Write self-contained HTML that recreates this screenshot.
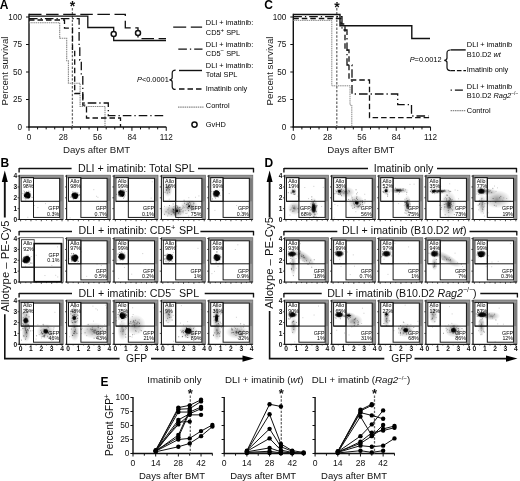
<!DOCTYPE html>
<html><head><meta charset="utf-8"><title>Figure</title>
<style>
html,body{margin:0;padding:0;background:#fff;}
body{width:520px;height:481px;overflow:hidden;}
svg{display:block;font-family:"Liberation Sans",Arial,sans-serif;filter:blur(0.3px);}
</style></head>
<body>
<svg width="520" height="481" viewBox="0 0 520 481">
<rect width="520" height="481" fill="#fff"/>
<text x="-0.3" y="8.5" font-size="12" text-anchor="start" font-weight="bold" fill="#000" >A</text>
<line x1="29" y1="13.8" x2="29" y2="127.6" stroke="#111" stroke-width="1.4" stroke-linecap="butt"/>
<line x1="28.3" y1="127" x2="166.3" y2="127" stroke="#111" stroke-width="1.4" stroke-linecap="butt"/>
<line x1="26" y1="17" x2="29" y2="17" stroke="#111" stroke-width="1" stroke-linecap="butt"/>
<text x="22" y="19.9" font-size="8.2" text-anchor="end" font-weight="normal" fill="#111" >100</text>
<line x1="26" y1="44.5" x2="29" y2="44.5" stroke="#111" stroke-width="1" stroke-linecap="butt"/>
<text x="22" y="47.4" font-size="8.2" text-anchor="end" font-weight="normal" fill="#111" >75</text>
<line x1="26" y1="72" x2="29" y2="72" stroke="#111" stroke-width="1" stroke-linecap="butt"/>
<text x="22" y="74.9" font-size="8.2" text-anchor="end" font-weight="normal" fill="#111" >50</text>
<line x1="26" y1="99.5" x2="29" y2="99.5" stroke="#111" stroke-width="1" stroke-linecap="butt"/>
<text x="22" y="102.4" font-size="8.2" text-anchor="end" font-weight="normal" fill="#111" >25</text>
<line x1="26" y1="127" x2="29" y2="127" stroke="#111" stroke-width="1" stroke-linecap="butt"/>
<text x="22" y="129.9" font-size="8.2" text-anchor="end" font-weight="normal" fill="#111" >0</text>
<line x1="29" y1="127" x2="29" y2="130.8" stroke="#111" stroke-width="1" stroke-linecap="butt"/>
<text x="29" y="140.4" font-size="8.2" text-anchor="middle" font-weight="normal" fill="#111" >0</text>
<line x1="37.58" y1="127" x2="37.58" y2="129.4" stroke="#111" stroke-width="1" stroke-linecap="butt"/>
<line x1="46.16" y1="127" x2="46.16" y2="129.4" stroke="#111" stroke-width="1" stroke-linecap="butt"/>
<line x1="54.73" y1="127" x2="54.73" y2="129.4" stroke="#111" stroke-width="1" stroke-linecap="butt"/>
<line x1="63.31" y1="127" x2="63.31" y2="130.8" stroke="#111" stroke-width="1" stroke-linecap="butt"/>
<text x="63.31" y="140.4" font-size="8.2" text-anchor="middle" font-weight="normal" fill="#111" >28</text>
<line x1="71.89" y1="127" x2="71.89" y2="129.4" stroke="#111" stroke-width="1" stroke-linecap="butt"/>
<line x1="80.47" y1="127" x2="80.47" y2="129.4" stroke="#111" stroke-width="1" stroke-linecap="butt"/>
<line x1="89.04" y1="127" x2="89.04" y2="129.4" stroke="#111" stroke-width="1" stroke-linecap="butt"/>
<line x1="97.62" y1="127" x2="97.62" y2="130.8" stroke="#111" stroke-width="1" stroke-linecap="butt"/>
<text x="97.62" y="140.4" font-size="8.2" text-anchor="middle" font-weight="normal" fill="#111" >56</text>
<line x1="106.2" y1="127" x2="106.2" y2="129.4" stroke="#111" stroke-width="1" stroke-linecap="butt"/>
<line x1="114.78" y1="127" x2="114.78" y2="129.4" stroke="#111" stroke-width="1" stroke-linecap="butt"/>
<line x1="123.36" y1="127" x2="123.36" y2="129.4" stroke="#111" stroke-width="1" stroke-linecap="butt"/>
<line x1="131.93" y1="127" x2="131.93" y2="130.8" stroke="#111" stroke-width="1" stroke-linecap="butt"/>
<text x="131.93" y="140.4" font-size="8.2" text-anchor="middle" font-weight="normal" fill="#111" >84</text>
<line x1="140.51" y1="127" x2="140.51" y2="129.4" stroke="#111" stroke-width="1" stroke-linecap="butt"/>
<line x1="149.09" y1="127" x2="149.09" y2="129.4" stroke="#111" stroke-width="1" stroke-linecap="butt"/>
<line x1="157.67" y1="127" x2="157.67" y2="129.4" stroke="#111" stroke-width="1" stroke-linecap="butt"/>
<line x1="166.24" y1="127" x2="166.24" y2="130.8" stroke="#111" stroke-width="1" stroke-linecap="butt"/>
<text x="166.24" y="140.4" font-size="8.2" text-anchor="middle" font-weight="normal" fill="#111" >112</text>
<text x="96.6" y="152.6" font-size="9.7" text-anchor="middle" font-weight="normal" fill="#1a1a1a" >Days after BMT</text>
<text x="8.4" y="71" font-size="9.7" text-anchor="middle" font-weight="normal" fill="#1a1a1a" transform="rotate(-90 8.4 71)">Percent survival</text>
<line x1="72.4" y1="8" x2="72.4" y2="127" stroke="#666" stroke-width="1.25" stroke-linecap="butt" stroke-dasharray="2.4 1.5"/>
<text x="72.45" y="11.39" font-size="14" text-anchor="middle" font-weight="bold" fill="#111" >*</text>
<path d="M29,22.7 H59.7 V38.3 H66.7 V60.8 H68.4 V83.3 H80.1 V106.5 H105 V127" stroke="#888" stroke-width="1.1" fill="none" stroke-dasharray="1.5 0.7" />
<path d="M29,20 H64.5 V28.1 H72.5 V50 H74.7 V93.5 H82.8 V105.2 H86.5 V118 H120.5 V127" stroke="#111" stroke-width="1.3" fill="none" stroke-dasharray="5.5 3" />
<path d="M29,18.6 H79.1 V45 H79.8 V60 H81.3 V75 H82.8 V103 H108.3 V115.6 H166" stroke="#111" stroke-width="1.3" fill="none" stroke-dasharray="8.6 3 1.3 3" />
<path d="M29,14.4 H125.3 V27.8 H138 V38.7 H166" stroke="#111" stroke-width="1.3" fill="none" stroke-dasharray="12.5 4.6" />
<path d="M29,16.2 H87.8 V27.5 H113.7 V40.5 H166" stroke="#111" stroke-width="1.3" fill="none" />
<circle cx="113.7" cy="34" r="2.5" fill="#fff" stroke="#111" stroke-width="1.5"/>
<circle cx="138" cy="33" r="2.5" fill="#fff" stroke="#111" stroke-width="1.5"/>
<text x="205.8" y="25" font-size="7.4" text-anchor="start" font-weight="normal" fill="#000" >DLI + imatinib:</text>
<text x="205.8" y="35" font-size="7.4" text-anchor="start" font-weight="normal" fill="#000" >CD5<tspan font-size="6" dy="-3.2">+</tspan><tspan dy="3.2"> SPL</tspan></text>
<line x1="173.2" y1="27.1" x2="202.1" y2="27.1" stroke="#111" stroke-width="1.4" stroke-linecap="butt" stroke-dasharray="13 4.6"/>
<text x="205.8" y="46.5" font-size="7.4" text-anchor="start" font-weight="normal" fill="#000" >DLI + imatinib:</text>
<text x="205.8" y="55.6" font-size="7.4" text-anchor="start" font-weight="normal" fill="#000" >CD5<tspan font-size="6" dy="-3.2">&#8722;</tspan><tspan dy="3.2"> SPL</tspan></text>
<line x1="178.3" y1="49.2" x2="202.5" y2="49.2" stroke="#111" stroke-width="1.3" stroke-linecap="butt" stroke-dasharray="8.6 3 1.3 3"/>
<text x="205.8" y="67.7" font-size="7.4" text-anchor="start" font-weight="normal" fill="#000" >DLI + imatinib:</text>
<text x="205.8" y="77" font-size="7.4" text-anchor="start" font-weight="normal" fill="#000" >Total SPL</text>
<line x1="179" y1="70.5" x2="202" y2="70.5" stroke="#111" stroke-width="1.4" stroke-linecap="butt"/>
<text x="205.8" y="90.5" font-size="7.4" text-anchor="start" font-weight="normal" fill="#000" >Imatinib only</text>
<line x1="179" y1="89" x2="201.5" y2="89" stroke="#111" stroke-width="1.4" stroke-linecap="butt" stroke-dasharray="5.5 3"/>
<path d="M175.6,70.2 Q172.2,70.2 172.2,73.2 L172.2,77.6 Q172.2,79.8 169.4,79.8 Q172.2,79.8 172.2,82 L172.2,86.4 Q172.2,89.4 175.6,89.4" stroke="#111" stroke-width="1.2" fill="none" />
<text x="168.8" y="81.6" font-size="7.4" text-anchor="end" font-weight="normal" fill="#000" ><tspan font-style="italic">P</tspan>&lt;0.0001</text>
<line x1="178" y1="107" x2="203.5" y2="107" stroke="#888" stroke-width="1.25" stroke-linecap="butt" stroke-dasharray="1.5 0.7"/>
<text x="205.8" y="108.2" font-size="7.4" text-anchor="start" font-weight="normal" fill="#000" >Control</text>
<circle cx="194.5" cy="124.6" r="2.6" fill="#fff" stroke="#111" stroke-width="1.5"/>
<text x="205.8" y="127.3" font-size="7.4" text-anchor="start" font-weight="normal" fill="#000" >GvHD</text>
<text x="264.3" y="8.5" font-size="12" text-anchor="start" font-weight="bold" fill="#000" >C</text>
<line x1="293.3" y1="13.8" x2="293.3" y2="127.6" stroke="#111" stroke-width="1.4" stroke-linecap="butt"/>
<line x1="292.6" y1="127" x2="430.6" y2="127" stroke="#111" stroke-width="1.4" stroke-linecap="butt"/>
<line x1="290.3" y1="17" x2="293.3" y2="17" stroke="#111" stroke-width="1" stroke-linecap="butt"/>
<text x="286.3" y="19.9" font-size="8.2" text-anchor="end" font-weight="normal" fill="#111" >100</text>
<line x1="290.3" y1="44.5" x2="293.3" y2="44.5" stroke="#111" stroke-width="1" stroke-linecap="butt"/>
<text x="286.3" y="47.4" font-size="8.2" text-anchor="end" font-weight="normal" fill="#111" >75</text>
<line x1="290.3" y1="72" x2="293.3" y2="72" stroke="#111" stroke-width="1" stroke-linecap="butt"/>
<text x="286.3" y="74.9" font-size="8.2" text-anchor="end" font-weight="normal" fill="#111" >50</text>
<line x1="290.3" y1="99.5" x2="293.3" y2="99.5" stroke="#111" stroke-width="1" stroke-linecap="butt"/>
<text x="286.3" y="102.4" font-size="8.2" text-anchor="end" font-weight="normal" fill="#111" >25</text>
<line x1="290.3" y1="127" x2="293.3" y2="127" stroke="#111" stroke-width="1" stroke-linecap="butt"/>
<text x="286.3" y="129.9" font-size="8.2" text-anchor="end" font-weight="normal" fill="#111" >0</text>
<line x1="293.3" y1="127" x2="293.3" y2="130.8" stroke="#111" stroke-width="1" stroke-linecap="butt"/>
<text x="293.3" y="140.4" font-size="8.2" text-anchor="middle" font-weight="normal" fill="#111" >0</text>
<line x1="301.88" y1="127" x2="301.88" y2="129.4" stroke="#111" stroke-width="1" stroke-linecap="butt"/>
<line x1="310.46" y1="127" x2="310.46" y2="129.4" stroke="#111" stroke-width="1" stroke-linecap="butt"/>
<line x1="319.03" y1="127" x2="319.03" y2="129.4" stroke="#111" stroke-width="1" stroke-linecap="butt"/>
<line x1="327.61" y1="127" x2="327.61" y2="130.8" stroke="#111" stroke-width="1" stroke-linecap="butt"/>
<text x="327.61" y="140.4" font-size="8.2" text-anchor="middle" font-weight="normal" fill="#111" >28</text>
<line x1="336.19" y1="127" x2="336.19" y2="129.4" stroke="#111" stroke-width="1" stroke-linecap="butt"/>
<line x1="344.77" y1="127" x2="344.77" y2="129.4" stroke="#111" stroke-width="1" stroke-linecap="butt"/>
<line x1="353.34" y1="127" x2="353.34" y2="129.4" stroke="#111" stroke-width="1" stroke-linecap="butt"/>
<line x1="361.92" y1="127" x2="361.92" y2="130.8" stroke="#111" stroke-width="1" stroke-linecap="butt"/>
<text x="361.92" y="140.4" font-size="8.2" text-anchor="middle" font-weight="normal" fill="#111" >56</text>
<line x1="370.5" y1="127" x2="370.5" y2="129.4" stroke="#111" stroke-width="1" stroke-linecap="butt"/>
<line x1="379.08" y1="127" x2="379.08" y2="129.4" stroke="#111" stroke-width="1" stroke-linecap="butt"/>
<line x1="387.66" y1="127" x2="387.66" y2="129.4" stroke="#111" stroke-width="1" stroke-linecap="butt"/>
<line x1="396.23" y1="127" x2="396.23" y2="130.8" stroke="#111" stroke-width="1" stroke-linecap="butt"/>
<text x="396.23" y="140.4" font-size="8.2" text-anchor="middle" font-weight="normal" fill="#111" >84</text>
<line x1="404.81" y1="127" x2="404.81" y2="129.4" stroke="#111" stroke-width="1" stroke-linecap="butt"/>
<line x1="413.39" y1="127" x2="413.39" y2="129.4" stroke="#111" stroke-width="1" stroke-linecap="butt"/>
<line x1="421.97" y1="127" x2="421.97" y2="129.4" stroke="#111" stroke-width="1" stroke-linecap="butt"/>
<line x1="430.54" y1="127" x2="430.54" y2="130.8" stroke="#111" stroke-width="1" stroke-linecap="butt"/>
<text x="430.54" y="140.4" font-size="8.2" text-anchor="middle" font-weight="normal" fill="#111" >112</text>
<text x="360.9" y="152.6" font-size="9.7" text-anchor="middle" font-weight="normal" fill="#1a1a1a" >Days after BMT</text>
<text x="272.7" y="71" font-size="9.7" text-anchor="middle" font-weight="normal" fill="#1a1a1a" transform="rotate(-90 272.7 71)">Percent survival</text>
<line x1="336.8" y1="8" x2="336.8" y2="127" stroke="#666" stroke-width="1.25" stroke-linecap="butt" stroke-dasharray="2.4 1.5"/>
<text x="336.9" y="11.59" font-size="14" text-anchor="middle" font-weight="bold" fill="#111" >*</text>
<path d="M293.3,20.4 H331.8 V85.8 H350 V105 H351.8 V127" stroke="#8a8a8a" stroke-width="1" fill="none" stroke-dasharray="1.5 0.7" />
<path d="M293.3,18.5 H341 V24 H345 V50 H349 V80 H369.5 V117.7 H429.4" stroke="#111" stroke-width="1.3" fill="none" stroke-dasharray="5.5 3" />
<path d="M293.3,16.6 H342 V30 H347 V65 H352 V94 H397.7 V104.6 H411.5 V116 H428.5" stroke="#111" stroke-width="1.3" fill="none" stroke-dasharray="8.6 3 1.3 3" />
<path d="M293.3,14.5 H340 V25.8 H411.8 V38.5 H430" stroke="#111" stroke-width="1.4" fill="none" />
<text x="466.8" y="47.4" font-size="7.4" text-anchor="start" font-weight="normal" fill="#000" >DLI + imatinib</text>
<text x="466.8" y="57" font-size="7.4" text-anchor="start" font-weight="normal" fill="#000" >B10.D2 <tspan font-style="italic">wt</tspan></text>
<line x1="450.6" y1="49.9" x2="465.7" y2="49.9" stroke="#111" stroke-width="1.4" stroke-linecap="butt"/>
<path d="M450.4,50 Q447,50 447,53 L447,58.1 Q447,60.3 444.2,60.3 Q447,60.3 447,62.5 L447,67.6 Q447,70.6 450.4,70.6" stroke="#111" stroke-width="1.2" fill="none" />
<text x="441.5" y="61.5" font-size="7.4" text-anchor="end" font-weight="normal" fill="#000" ><tspan font-style="italic">P</tspan>=0.0012</text>
<line x1="450.4" y1="70.6" x2="466" y2="70.6" stroke="#111" stroke-width="1.4" stroke-linecap="butt" stroke-dasharray="4.6 1.9"/>
<text x="466.8" y="72.2" font-size="7.4" text-anchor="start" font-weight="normal" fill="#000" >Imatinib only</text>
<line x1="450.6" y1="90.2" x2="465.7" y2="90.2" stroke="#111" stroke-width="1.3" stroke-linecap="butt" stroke-dasharray="1.3 3 8 3"/>
<text x="466.8" y="89.1" font-size="7.4" text-anchor="start" font-weight="normal" fill="#000" >DLI + imatinib</text>
<text x="466.8" y="97.7" font-size="7.4" text-anchor="start" font-weight="normal" fill="#000" >B10.D2 <tspan font-style="italic">Rag2</tspan><tspan font-size="5" dy="-3">&#8722;/&#8722;</tspan></text>
<line x1="450.6" y1="110.7" x2="465.7" y2="110.7" stroke="#888" stroke-width="1.25" stroke-linecap="butt" stroke-dasharray="1.5 0.7"/>
<text x="466.8" y="112.6" font-size="7.4" text-anchor="start" font-weight="normal" fill="#000" >Control</text>
<defs>
<radialGradient id="gc"><stop offset="0" stop-color="#000" stop-opacity="1"/><stop offset="0.55" stop-color="#000" stop-opacity="0.92"/><stop offset="0.8" stop-color="#111" stop-opacity="0.5"/><stop offset="1" stop-color="#333" stop-opacity="0"/></radialGradient>
<radialGradient id="gd"><stop offset="0" stop-color="#000" stop-opacity="0.8"/><stop offset="0.6" stop-color="#111" stop-opacity="0.5"/><stop offset="1" stop-color="#333" stop-opacity="0"/></radialGradient>
<radialGradient id="gh"><stop offset="0" stop-color="#000" stop-opacity="0.42"/><stop offset="0.5" stop-color="#222" stop-opacity="0.2"/><stop offset="1" stop-color="#444" stop-opacity="0"/></radialGradient>
</defs>
<line x1="19.1" y1="168.5" x2="71.6" y2="168.5" stroke="#111" stroke-width="1.35" stroke-linecap="butt"/>
<line x1="19.1" y1="167.9" x2="19.1" y2="172.5" stroke="#111" stroke-width="1.35" stroke-linecap="butt"/>
<line x1="198" y1="168.5" x2="253.5" y2="168.5" stroke="#111" stroke-width="1.35" stroke-linecap="butt"/>
<line x1="253.5" y1="167.9" x2="253.5" y2="172.5" stroke="#111" stroke-width="1.35" stroke-linecap="butt"/>
<text x="78" y="171.9" font-size="10.65" text-anchor="start" font-weight="normal" fill="#111" >DLI + imatinib: Total SPL</text>
<line x1="19.1" y1="231.5" x2="72" y2="231.5" stroke="#111" stroke-width="1.35" stroke-linecap="butt"/>
<line x1="19.1" y1="230.9" x2="19.1" y2="235.5" stroke="#111" stroke-width="1.35" stroke-linecap="butt"/>
<line x1="200.4" y1="231.5" x2="253.5" y2="231.5" stroke="#111" stroke-width="1.35" stroke-linecap="butt"/>
<line x1="253.5" y1="230.9" x2="253.5" y2="235.5" stroke="#111" stroke-width="1.35" stroke-linecap="butt"/>
<text x="78.5" y="234.4" font-size="10.65" text-anchor="start" font-weight="normal" fill="#111" >DLI + imatinib: CD5<tspan font-size="7.5" dy="-4.6">+</tspan><tspan dy="4.6" dx="0.6"> SPL</tspan></text>
<line x1="19.1" y1="293.5" x2="72" y2="293.5" stroke="#111" stroke-width="1.35" stroke-linecap="butt"/>
<line x1="19.1" y1="292.9" x2="19.1" y2="297.5" stroke="#111" stroke-width="1.35" stroke-linecap="butt"/>
<line x1="204.7" y1="293.5" x2="253.5" y2="293.5" stroke="#111" stroke-width="1.35" stroke-linecap="butt"/>
<line x1="253.5" y1="292.9" x2="253.5" y2="297.5" stroke="#111" stroke-width="1.35" stroke-linecap="butt"/>
<text x="78.5" y="296.7" font-size="10.65" text-anchor="start" font-weight="normal" fill="#111" >DLI + imatinib: CD5<tspan font-size="7.5" dy="-4.6">&#8722;</tspan><tspan dy="4.6" dx="0.6"> SPL</tspan></text>
<line x1="283.9" y1="168.5" x2="368" y2="168.5" stroke="#111" stroke-width="1.35" stroke-linecap="butt"/>
<line x1="283.9" y1="167.9" x2="283.9" y2="172.5" stroke="#111" stroke-width="1.35" stroke-linecap="butt"/>
<line x1="437" y1="168.5" x2="516.5" y2="168.5" stroke="#111" stroke-width="1.35" stroke-linecap="butt"/>
<line x1="516.5" y1="167.9" x2="516.5" y2="172.5" stroke="#111" stroke-width="1.35" stroke-linecap="butt"/>
<text x="373.7" y="171.9" font-size="10.65" text-anchor="start" font-weight="normal" fill="#111" >Imatinib only</text>
<line x1="283.9" y1="231.5" x2="337.3" y2="231.5" stroke="#111" stroke-width="1.35" stroke-linecap="butt"/>
<line x1="283.9" y1="230.9" x2="283.9" y2="235.5" stroke="#111" stroke-width="1.35" stroke-linecap="butt"/>
<line x1="469.5" y1="231.5" x2="516.8" y2="231.5" stroke="#111" stroke-width="1.35" stroke-linecap="butt"/>
<line x1="516.8" y1="230.9" x2="516.8" y2="235.5" stroke="#111" stroke-width="1.35" stroke-linecap="butt"/>
<text x="342.1" y="234.4" font-size="10.65" text-anchor="start" font-weight="normal" fill="#111" >DLI + imatinib (B10.D2 <tspan font-style="italic">wt</tspan>)</text>
<line x1="283.9" y1="293.5" x2="321.7" y2="293.5" stroke="#111" stroke-width="1.35" stroke-linecap="butt"/>
<line x1="283.9" y1="292.9" x2="283.9" y2="297.5" stroke="#111" stroke-width="1.35" stroke-linecap="butt"/>
<line x1="480.3" y1="293.5" x2="517.4" y2="293.5" stroke="#111" stroke-width="1.35" stroke-linecap="butt"/>
<line x1="517.4" y1="292.9" x2="517.4" y2="297.5" stroke="#111" stroke-width="1.35" stroke-linecap="butt"/>
<text x="327.2" y="296.7" font-size="10.65" text-anchor="start" font-weight="normal" fill="#111" >DLI + imatinib (B10.D2 <tspan font-style="italic">Rag2</tspan><tspan font-size="7" dy="-4.6">&#8722;/&#8722;</tspan><tspan dy="4.6">)</tspan></text>
<text x="0.4" y="166.6" font-size="12" text-anchor="start" font-weight="bold" fill="#000" >B</text>
<text x="264.4" y="166.6" font-size="12" text-anchor="start" font-weight="bold" fill="#000" >D</text>
<rect x="19.2" y="175.2" width="44" height="44.3" fill="#959595" stroke="#666" stroke-width="0.7"/>
<rect x="19.8" y="178.3" width="39.7" height="41.2" fill="#fff"/>
<rect x="59.6" y="178.3" width="3.0" height="23" fill="#7c7c7c"/>
<ellipse cx="27.4" cy="195.3" rx="4.83" ry="4.83" fill="url(#gh)"/>
<ellipse cx="27.4" cy="195.3" rx="4" ry="3.88" fill="url(#gc)"/>
<ellipse cx="28.5" cy="196.73" rx="2.2" ry="2.13" fill="url(#gc)"/>
<ellipse cx="25.67" cy="195.8" rx="2.2" ry="2.13" fill="url(#gc)"/>
<ellipse cx="27.63" cy="193.52" rx="2.2" ry="2.13" fill="url(#gc)"/>
<path d="M26.46 192.02h.1M28.2 192.84h.1M29.19 194.68h.1M27.56 193.89h.1M29.02 197.87h.1M28.72 194.5h.1M24.46 191.85h.1M25.12 198.73h.1M29.76 193.36h.1M27.67 192.79h.1M27.11 194.27h.1M26.18 194.47h.1M25.68 194.51h.1M27.13 193.89h.1M25.13 193.21h.1M24.27 194.39h.1M28.69 191.23h.1M27.91 196.8h.1M29.32 197.62h.1M32.03 197.37h.1M25.1 194.7h.1M27.39 196.48h.1M29.51 195.04h.1M26.11 196.36h.1M25.98 194.75h.1" stroke="#000" stroke-opacity="0.55" stroke-width="0.8" stroke-linecap="round"/>
<path d="M26.77 195.48h.1M28.13 197.1h.1M28.81 194.97h.1M23.15 193.76h.1M29.51 195.37h.1M26.14 194.75h.1M22.19 193.46h.1M26.66 191.75h.1M26.7 198.02h.1M23.86 195.67h.1M30.04 191.53h.1M26.37 194.71h.1M28.21 194.34h.1M25.19 193.2h.1M28.44 196.2h.1M29.36 194.47h.1M26.08 195.69h.1M23.26 197.83h.1M27.07 193.98h.1M25.74 199.95h.1M23.78 190.82h.1M45.45 203.63h.1M53.55 211.22h.1M34.28 205.48h.1M37.81 207.6h.1M27.79 217.28h.1" stroke="#000" stroke-opacity="0.28" stroke-width="0.8" stroke-linecap="round"/>
<line x1="19.2" y1="175.2" x2="19.2" y2="220" stroke="#1a1a1a" stroke-width="1" stroke-linecap="butt"/>
<line x1="18.7" y1="219.5" x2="63.2" y2="219.5" stroke="#1a1a1a" stroke-width="1.2" stroke-linecap="butt"/>
<line x1="17.6" y1="219.5" x2="19.2" y2="219.5" stroke="#222" stroke-width="0.8" stroke-linecap="butt"/>
<line x1="17.6" y1="208.65" x2="19.2" y2="208.65" stroke="#222" stroke-width="0.8" stroke-linecap="butt"/>
<line x1="17.6" y1="197.8" x2="19.2" y2="197.8" stroke="#222" stroke-width="0.8" stroke-linecap="butt"/>
<line x1="17.6" y1="186.95" x2="19.2" y2="186.95" stroke="#222" stroke-width="0.8" stroke-linecap="butt"/>
<line x1="17.6" y1="176.1" x2="19.2" y2="176.1" stroke="#222" stroke-width="0.8" stroke-linecap="butt"/>
<line x1="20.6" y1="219.5" x2="20.6" y2="221.3" stroke="#222" stroke-width="0.8" stroke-linecap="butt"/>
<line x1="25.78" y1="219.5" x2="25.78" y2="220.6" stroke="#222" stroke-width="0.8" stroke-linecap="butt"/>
<line x1="30.96" y1="219.5" x2="30.96" y2="221.3" stroke="#222" stroke-width="0.8" stroke-linecap="butt"/>
<line x1="36.14" y1="219.5" x2="36.14" y2="220.6" stroke="#222" stroke-width="0.8" stroke-linecap="butt"/>
<line x1="41.32" y1="219.5" x2="41.32" y2="221.3" stroke="#222" stroke-width="0.8" stroke-linecap="butt"/>
<line x1="46.5" y1="219.5" x2="46.5" y2="220.6" stroke="#222" stroke-width="0.8" stroke-linecap="butt"/>
<line x1="51.68" y1="219.5" x2="51.68" y2="221.3" stroke="#222" stroke-width="0.8" stroke-linecap="butt"/>
<line x1="56.86" y1="219.5" x2="56.86" y2="220.6" stroke="#222" stroke-width="0.8" stroke-linecap="butt"/>
<line x1="62.04" y1="219.5" x2="62.04" y2="221.3" stroke="#222" stroke-width="0.8" stroke-linecap="butt"/>
<rect x="21.1" y="177.6" width="12.4" height="23.7" fill="none" stroke="#111" stroke-width="0.95"/>
<rect x="33.5" y="178.3" width="26.2" height="39.1" fill="none" stroke="#111" stroke-width="0.95"/>
<line x1="21.1" y1="201.3" x2="59.7" y2="201.3" stroke="#111" stroke-width="0.95" stroke-linecap="butt"/>
<text x="22.9" y="182.5" font-size="5.3" text-anchor="start" font-weight="normal" fill="#000" fill="#2a2a2a">Allo</text>
<text x="22.9" y="187.7" font-size="5.3" text-anchor="start" font-weight="normal" fill="#000" fill="#2a2a2a">98%</text>
<text x="59.2" y="210.2" font-size="5.3" text-anchor="end" font-weight="normal" fill="#000" fill="#2a2a2a">GFP</text>
<text x="59.2" y="215.6" font-size="5.3" text-anchor="end" font-weight="normal" fill="#000" fill="#2a2a2a">0.3%</text>
<text x="15.3" y="221.8" font-size="6.6" text-anchor="middle" font-weight="bold" fill="#111" >0</text>
<text x="15.3" y="210.95" font-size="6.6" text-anchor="middle" font-weight="bold" fill="#111" >1</text>
<text x="15.3" y="200.1" font-size="6.6" text-anchor="middle" font-weight="bold" fill="#111" >2</text>
<text x="15.3" y="189.25" font-size="6.6" text-anchor="middle" font-weight="bold" fill="#111" >3</text>
<text x="15.3" y="178.4" font-size="6.6" text-anchor="middle" font-weight="bold" fill="#111" >4</text>
<rect x="284.6" y="175.2" width="44" height="44.3" fill="#959595" stroke="#666" stroke-width="0.7"/>
<rect x="285.2" y="178.3" width="39.7" height="41.2" fill="#fff"/>
<rect x="325" y="178.3" width="3.0" height="23" fill="#7c7c7c"/>
<ellipse cx="293.3" cy="191.6" rx="3.68" ry="3.68" fill="url(#gh)"/>
<ellipse cx="293.3" cy="191.6" rx="1.9" ry="1.9" fill="url(#gd)"/>
<ellipse cx="294.6" cy="208.2" rx="6.9" ry="6.9" fill="url(#gh)"/>
<ellipse cx="313.7" cy="208.2" rx="4.6" ry="11.04" fill="url(#gh)"/>
<ellipse cx="313.7" cy="208.2" rx="2.6" ry="5.6" fill="url(#gc)"/>
<path d="M295.28 194.08h.1M295.02 191.72h.1M294.59 191.73h.1M294.4 194.53h.1M292.85 190.18h.1M291.07 192.57h.1M292.79 190.96h.1M291.1 193.59h.1M288.23 192.69h.1M294.92 190.37h.1M292.57 211.19h.1M297.85 208.6h.1M292.85 205.95h.1M293.83 211.09h.1M293.91 207.53h.1M293.89 208.41h.1M298.19 212.21h.1M290.07 209.92h.1M314.75 214.79h.1M313.96 207h.1M313.84 216.48h.1M310.8 210.07h.1M313.22 203.94h.1M312.19 203.73h.1M316.92 205.41h.1M314.63 200.33h.1M315.86 210.23h.1M313.17 205.64h.1M309.4 217.96h.1M316.27 206.36h.1M315.47 211.16h.1M316.7 206.13h.1M313.39 205.59h.1M313.93 217.06h.1M314.07 203.77h.1M311.76 196.89h.1M315.69 205.23h.1M316.01 207.81h.1M313.74 201.49h.1M311.94 207.96h.1M312.55 204.68h.1M311.72 199.46h.1M316.18 211.59h.1M316.01 217.69h.1M314.2 208.38h.1M311.98 201.58h.1M311.53 214.23h.1M311.29 209.73h.1M316.08 211.94h.1M312.17 202.75h.1M314.42 211.5h.1M313.45 202.18h.1M312.18 210.94h.1" stroke="#000" stroke-opacity="0.55" stroke-width="0.8" stroke-linecap="round"/>
<path d="M294.34 191.91h.1M294.57 192.96h.1M293.67 193.96h.1M293.54 190.74h.1M293.51 194.25h.1M292.25 189.01h.1M293.86 191.09h.1M294.64 188.99h.1M292.07 207.73h.1M289.89 215.07h.1M298.3 208.93h.1M294.41 206.14h.1M294.74 209.11h.1M293.53 208.56h.1M301.88 208.82h.1M294.89 208.54h.1M291.09 209.11h.1M303.48 209.38h.1M314.19 214.83h.1M315.61 209.85h.1M314.08 207.15h.1M310.64 212.52h.1M313.1 210.67h.1M312.59 204.21h.1M317.13 213.88h.1M313.29 202.31h.1M314.36 206.8h.1M314.26 204.59h.1M310.56 203.82h.1M315.6 214.31h.1M308.58 198.62h.1M316.27 207.72h.1M312 205.06h.1M316.11 216.44h.1M315.76 203.22h.1M311.9 211.13h.1M309.52 210.96h.1M314.54 213.58h.1M323.19 187.37h.1M313.8 186.33h.1M304.76 187.56h.1M321.61 206.48h.1M317.98 218.05h.1M297.84 196.16h.1" stroke="#000" stroke-opacity="0.28" stroke-width="0.8" stroke-linecap="round"/>
<line x1="284.6" y1="175.2" x2="284.6" y2="220" stroke="#1a1a1a" stroke-width="1" stroke-linecap="butt"/>
<line x1="284.1" y1="219.5" x2="328.6" y2="219.5" stroke="#1a1a1a" stroke-width="1.2" stroke-linecap="butt"/>
<line x1="283" y1="219.5" x2="284.6" y2="219.5" stroke="#222" stroke-width="0.8" stroke-linecap="butt"/>
<line x1="283" y1="208.65" x2="284.6" y2="208.65" stroke="#222" stroke-width="0.8" stroke-linecap="butt"/>
<line x1="283" y1="197.8" x2="284.6" y2="197.8" stroke="#222" stroke-width="0.8" stroke-linecap="butt"/>
<line x1="283" y1="186.95" x2="284.6" y2="186.95" stroke="#222" stroke-width="0.8" stroke-linecap="butt"/>
<line x1="283" y1="176.1" x2="284.6" y2="176.1" stroke="#222" stroke-width="0.8" stroke-linecap="butt"/>
<line x1="286" y1="219.5" x2="286" y2="221.3" stroke="#222" stroke-width="0.8" stroke-linecap="butt"/>
<line x1="291.18" y1="219.5" x2="291.18" y2="220.6" stroke="#222" stroke-width="0.8" stroke-linecap="butt"/>
<line x1="296.36" y1="219.5" x2="296.36" y2="221.3" stroke="#222" stroke-width="0.8" stroke-linecap="butt"/>
<line x1="301.54" y1="219.5" x2="301.54" y2="220.6" stroke="#222" stroke-width="0.8" stroke-linecap="butt"/>
<line x1="306.72" y1="219.5" x2="306.72" y2="221.3" stroke="#222" stroke-width="0.8" stroke-linecap="butt"/>
<line x1="311.9" y1="219.5" x2="311.9" y2="220.6" stroke="#222" stroke-width="0.8" stroke-linecap="butt"/>
<line x1="317.08" y1="219.5" x2="317.08" y2="221.3" stroke="#222" stroke-width="0.8" stroke-linecap="butt"/>
<line x1="322.26" y1="219.5" x2="322.26" y2="220.6" stroke="#222" stroke-width="0.8" stroke-linecap="butt"/>
<line x1="327.44" y1="219.5" x2="327.44" y2="221.3" stroke="#222" stroke-width="0.8" stroke-linecap="butt"/>
<rect x="286.5" y="177.6" width="12.4" height="23.7" fill="none" stroke="#111" stroke-width="0.95"/>
<rect x="298.9" y="178.3" width="26.2" height="39.1" fill="none" stroke="#111" stroke-width="0.95"/>
<line x1="286.5" y1="201.3" x2="325.1" y2="201.3" stroke="#111" stroke-width="0.95" stroke-linecap="butt"/>
<text x="288.3" y="182.5" font-size="5.3" text-anchor="start" font-weight="normal" fill="#000" fill="#2a2a2a">Allo</text>
<text x="288.3" y="187.7" font-size="5.3" text-anchor="start" font-weight="normal" fill="#000" fill="#2a2a2a">19%</text>
<text x="299.9" y="210.2" font-size="5.3" text-anchor="start" font-weight="normal" fill="#000" fill="#2a2a2a">GFP</text>
<text x="300.7" y="215.6" font-size="5.3" text-anchor="start" font-weight="normal" fill="#000" fill="#2a2a2a">68%</text>
<text x="280.7" y="221.8" font-size="6.6" text-anchor="middle" font-weight="bold" fill="#111" >0</text>
<text x="280.7" y="210.95" font-size="6.6" text-anchor="middle" font-weight="bold" fill="#111" >1</text>
<text x="280.7" y="200.1" font-size="6.6" text-anchor="middle" font-weight="bold" fill="#111" >2</text>
<text x="280.7" y="189.25" font-size="6.6" text-anchor="middle" font-weight="bold" fill="#111" >3</text>
<text x="280.7" y="178.4" font-size="6.6" text-anchor="middle" font-weight="bold" fill="#111" >4</text>
<rect x="66.6" y="175.2" width="44" height="44.3" fill="#959595" stroke="#666" stroke-width="0.7"/>
<rect x="67.2" y="178.3" width="39.7" height="41.2" fill="#fff"/>
<rect x="107" y="178.3" width="3.0" height="23" fill="#7c7c7c"/>
<ellipse cx="74.9" cy="195.7" rx="4.83" ry="4.83" fill="url(#gh)"/>
<ellipse cx="74.9" cy="195.7" rx="4" ry="3.88" fill="url(#gc)"/>
<ellipse cx="73.33" cy="194.82" rx="2.2" ry="2.13" fill="url(#gc)"/>
<ellipse cx="75.51" cy="197.39" rx="2.2" ry="2.13" fill="url(#gc)"/>
<ellipse cx="76.66" cy="195.31" rx="2.2" ry="2.13" fill="url(#gc)"/>
<path d="M75.23 197.15h.1M76.14 196.29h.1M75.15 193.71h.1M73.52 198.36h.1M75.48 197.85h.1M72.68 191.96h.1M73.3 197.21h.1M74.78 195.49h.1M73.01 195.28h.1M75.22 196.16h.1M74.81 195.49h.1M77.75 192.88h.1M75.2 194.59h.1M70.74 197.15h.1M79.11 194.54h.1M74.47 196.28h.1M74.9 197.12h.1M79.38 195.16h.1M72.44 194.86h.1M76.57 194.39h.1M75.04 196.46h.1M76.3 197.02h.1M75.03 197.94h.1" stroke="#000" stroke-opacity="0.55" stroke-width="0.8" stroke-linecap="round"/>
<path d="M76.99 194.62h.1M74.39 194.34h.1M77.9 198.21h.1M74.82 195.42h.1M76 196.18h.1M74.63 193.72h.1M72.46 196.08h.1M73.31 199.63h.1M76.8 196.09h.1M73.9 192.21h.1M75.81 192.38h.1M77.31 196.79h.1M75.31 194.88h.1M77.42 197.43h.1M77.86 195.93h.1M72.26 196.4h.1M75.02 197.37h.1M76.5 195.03h.1M71.96 196.71h.1M74.13 193.85h.1M73.86 195.36h.1M73.59 198.57h.1M79.53 180.78h.1M70.01 217.92h.1M96.59 196.31h.1M93.77 189.69h.1M95.45 216.28h.1M97.87 197.34h.1" stroke="#000" stroke-opacity="0.28" stroke-width="0.8" stroke-linecap="round"/>
<line x1="66.6" y1="175.2" x2="66.6" y2="220" stroke="#1a1a1a" stroke-width="1" stroke-linecap="butt"/>
<line x1="66.1" y1="219.5" x2="110.6" y2="219.5" stroke="#1a1a1a" stroke-width="1.2" stroke-linecap="butt"/>
<line x1="65" y1="219.5" x2="66.6" y2="219.5" stroke="#222" stroke-width="0.8" stroke-linecap="butt"/>
<line x1="65" y1="208.65" x2="66.6" y2="208.65" stroke="#222" stroke-width="0.8" stroke-linecap="butt"/>
<line x1="65" y1="197.8" x2="66.6" y2="197.8" stroke="#222" stroke-width="0.8" stroke-linecap="butt"/>
<line x1="65" y1="186.95" x2="66.6" y2="186.95" stroke="#222" stroke-width="0.8" stroke-linecap="butt"/>
<line x1="65" y1="176.1" x2="66.6" y2="176.1" stroke="#222" stroke-width="0.8" stroke-linecap="butt"/>
<line x1="68" y1="219.5" x2="68" y2="221.3" stroke="#222" stroke-width="0.8" stroke-linecap="butt"/>
<line x1="73.18" y1="219.5" x2="73.18" y2="220.6" stroke="#222" stroke-width="0.8" stroke-linecap="butt"/>
<line x1="78.36" y1="219.5" x2="78.36" y2="221.3" stroke="#222" stroke-width="0.8" stroke-linecap="butt"/>
<line x1="83.54" y1="219.5" x2="83.54" y2="220.6" stroke="#222" stroke-width="0.8" stroke-linecap="butt"/>
<line x1="88.72" y1="219.5" x2="88.72" y2="221.3" stroke="#222" stroke-width="0.8" stroke-linecap="butt"/>
<line x1="93.9" y1="219.5" x2="93.9" y2="220.6" stroke="#222" stroke-width="0.8" stroke-linecap="butt"/>
<line x1="99.08" y1="219.5" x2="99.08" y2="221.3" stroke="#222" stroke-width="0.8" stroke-linecap="butt"/>
<line x1="104.26" y1="219.5" x2="104.26" y2="220.6" stroke="#222" stroke-width="0.8" stroke-linecap="butt"/>
<line x1="109.44" y1="219.5" x2="109.44" y2="221.3" stroke="#222" stroke-width="0.8" stroke-linecap="butt"/>
<rect x="68.5" y="177.6" width="12.4" height="23.7" fill="none" stroke="#111" stroke-width="0.95"/>
<rect x="80.9" y="178.3" width="26.2" height="39.1" fill="none" stroke="#111" stroke-width="0.95"/>
<line x1="68.5" y1="201.3" x2="107.1" y2="201.3" stroke="#111" stroke-width="0.95" stroke-linecap="butt"/>
<text x="70.3" y="182.5" font-size="5.3" text-anchor="start" font-weight="normal" fill="#000" fill="#2a2a2a">Allo</text>
<text x="70.3" y="187.7" font-size="5.3" text-anchor="start" font-weight="normal" fill="#000" fill="#2a2a2a">98%</text>
<text x="106.6" y="210.2" font-size="5.3" text-anchor="end" font-weight="normal" fill="#000" fill="#2a2a2a">GFP</text>
<text x="106.6" y="215.6" font-size="5.3" text-anchor="end" font-weight="normal" fill="#000" fill="#2a2a2a">0.7%</text>
<rect x="331.7" y="175.2" width="44" height="44.3" fill="#959595" stroke="#666" stroke-width="0.7"/>
<rect x="332.3" y="178.3" width="39.7" height="41.2" fill="#fff"/>
<rect x="372.1" y="178.3" width="3.0" height="23" fill="#7c7c7c"/>
<ellipse cx="339.4" cy="191.2" rx="4.6" ry="4.6" fill="url(#gh)"/>
<ellipse cx="339.4" cy="191.2" rx="2" ry="1.9" fill="url(#gc)"/>
<ellipse cx="345.7" cy="192.2" rx="9.2" ry="5.75" fill="url(#gh)"/>
<ellipse cx="356.7" cy="202.8" rx="8.74" ry="7.82" fill="url(#gh)" transform="rotate(30 356.7 202.8)"/>
<ellipse cx="356.7" cy="202.8" rx="2.4" ry="2.2" fill="url(#gc)" transform="rotate(30 356.7 202.8)"/>
<path d="M341.02 191.93h.1M336.11 191.83h.1M341.21 189.14h.1M340.07 194.21h.1M338.95 192.61h.1M341.97 191.7h.1M334.86 193.74h.1M338.11 194h.1M339.18 191.17h.1M339.26 191.21h.1M341.38 195.67h.1M356 189.8h.1M346.51 191.08h.1M348.91 190.44h.1M349.26 191.69h.1M341.06 190.09h.1M343.86 193.17h.1M345.36 191.62h.1M360.75 201.16h.1M348.61 199.44h.1M362.35 202.07h.1M356.47 198.5h.1M358.6 206.58h.1M356.11 203.33h.1M352.05 197.85h.1M354.34 204.79h.1M356.55 202.8h.1M352.77 208.23h.1M353.79 203.71h.1M360.08 206.63h.1M358.9 205.4h.1M364.78 202.91h.1M356.52 197.08h.1M354.51 207.42h.1M362.56 202.51h.1M356.63 193.92h.1M362.56 204.32h.1M358.57 201.92h.1M362.21 200.67h.1M359.65 205.79h.1M357.07 206.34h.1M360.31 204.5h.1M365.02 199.78h.1" stroke="#000" stroke-opacity="0.55" stroke-width="0.8" stroke-linecap="round"/>
<path d="M338.72 194.47h.1M337.32 190.27h.1M340.81 194.23h.1M338.13 189.6h.1M339.65 187.74h.1M339.16 192.06h.1M335.27 190.29h.1M340.19 193.1h.1M336.1 193.19h.1M337.88 191.14h.1M340.35 193.69h.1M336.72 191.37h.1M341.08 189.49h.1M339.93 191.04h.1M337.18 191.29h.1M357.48 192.42h.1M345.2 191.47h.1M347.16 193.52h.1M346.62 199.68h.1M346.8 192.01h.1M340.38 191.5h.1M343.5 190.53h.1M353.01 199.76h.1M357.61 204.64h.1M357.33 196.96h.1M353.49 202.33h.1M352.55 200.38h.1M357.39 207.36h.1M355.01 206.13h.1M358.23 206.45h.1M359.93 202.91h.1M357.27 199.45h.1M358.46 207.34h.1M355.66 200.35h.1M357.49 199.48h.1M356.91 206.18h.1M354.61 199.57h.1M352.67 199.66h.1M350 200.29h.1M355.13 201.34h.1M351.78 205.83h.1M351.71 196.16h.1M344.39 191.69h.1M334.9 204.4h.1M334.11 217.98h.1M364.7 194.26h.1M355.77 211.72h.1M337.72 205.67h.1" stroke="#000" stroke-opacity="0.28" stroke-width="0.8" stroke-linecap="round"/>
<line x1="331.7" y1="175.2" x2="331.7" y2="220" stroke="#1a1a1a" stroke-width="1" stroke-linecap="butt"/>
<line x1="331.2" y1="219.5" x2="375.7" y2="219.5" stroke="#1a1a1a" stroke-width="1.2" stroke-linecap="butt"/>
<line x1="330.1" y1="219.5" x2="331.7" y2="219.5" stroke="#222" stroke-width="0.8" stroke-linecap="butt"/>
<line x1="330.1" y1="208.65" x2="331.7" y2="208.65" stroke="#222" stroke-width="0.8" stroke-linecap="butt"/>
<line x1="330.1" y1="197.8" x2="331.7" y2="197.8" stroke="#222" stroke-width="0.8" stroke-linecap="butt"/>
<line x1="330.1" y1="186.95" x2="331.7" y2="186.95" stroke="#222" stroke-width="0.8" stroke-linecap="butt"/>
<line x1="330.1" y1="176.1" x2="331.7" y2="176.1" stroke="#222" stroke-width="0.8" stroke-linecap="butt"/>
<line x1="333.1" y1="219.5" x2="333.1" y2="221.3" stroke="#222" stroke-width="0.8" stroke-linecap="butt"/>
<line x1="338.28" y1="219.5" x2="338.28" y2="220.6" stroke="#222" stroke-width="0.8" stroke-linecap="butt"/>
<line x1="343.46" y1="219.5" x2="343.46" y2="221.3" stroke="#222" stroke-width="0.8" stroke-linecap="butt"/>
<line x1="348.64" y1="219.5" x2="348.64" y2="220.6" stroke="#222" stroke-width="0.8" stroke-linecap="butt"/>
<line x1="353.82" y1="219.5" x2="353.82" y2="221.3" stroke="#222" stroke-width="0.8" stroke-linecap="butt"/>
<line x1="359" y1="219.5" x2="359" y2="220.6" stroke="#222" stroke-width="0.8" stroke-linecap="butt"/>
<line x1="364.18" y1="219.5" x2="364.18" y2="221.3" stroke="#222" stroke-width="0.8" stroke-linecap="butt"/>
<line x1="369.36" y1="219.5" x2="369.36" y2="220.6" stroke="#222" stroke-width="0.8" stroke-linecap="butt"/>
<line x1="374.54" y1="219.5" x2="374.54" y2="221.3" stroke="#222" stroke-width="0.8" stroke-linecap="butt"/>
<rect x="333.6" y="177.6" width="12.4" height="23.7" fill="none" stroke="#111" stroke-width="0.95"/>
<rect x="346" y="178.3" width="26.2" height="39.1" fill="none" stroke="#111" stroke-width="0.95"/>
<line x1="333.6" y1="201.3" x2="372.2" y2="201.3" stroke="#111" stroke-width="0.95" stroke-linecap="butt"/>
<text x="335.4" y="182.5" font-size="5.3" text-anchor="start" font-weight="normal" fill="#000" fill="#2a2a2a">Allo</text>
<text x="335.4" y="187.7" font-size="5.3" text-anchor="start" font-weight="normal" fill="#000" fill="#2a2a2a">38%</text>
<text x="371.7" y="210.2" font-size="5.3" text-anchor="end" font-weight="normal" fill="#000" fill="#2a2a2a">GFP</text>
<text x="371.7" y="215.6" font-size="5.3" text-anchor="end" font-weight="normal" fill="#000" fill="#2a2a2a">56%</text>
<rect x="114" y="175.2" width="44" height="44.3" fill="#959595" stroke="#666" stroke-width="0.7"/>
<rect x="114.6" y="178.3" width="39.7" height="41.2" fill="#fff"/>
<rect x="154.4" y="178.3" width="3.0" height="23" fill="#7c7c7c"/>
<ellipse cx="121.5" cy="193.4" rx="4.83" ry="4.83" fill="url(#gh)"/>
<ellipse cx="121.5" cy="193.4" rx="4" ry="3.88" fill="url(#gc)"/>
<ellipse cx="122.57" cy="194.84" rx="2.2" ry="2.13" fill="url(#gc)"/>
<ellipse cx="120.16" cy="192.2" rx="2.2" ry="2.13" fill="url(#gc)"/>
<ellipse cx="122.37" cy="194.98" rx="2.2" ry="2.13" fill="url(#gc)"/>
<path d="M120.83 190.61h.1M119.49 191.57h.1M123.99 191.05h.1M120.44 190.72h.1M120.74 192.01h.1M121.47 191.17h.1M122.56 192.7h.1M118.98 191.83h.1M116.49 194.35h.1M124.04 192.98h.1M126.16 191.48h.1M122.85 192.87h.1M120.73 192.13h.1M123 195.28h.1M123.32 194.41h.1M122.38 194.22h.1M120.1 196.49h.1M121.56 194.75h.1M121.44 191.99h.1M122.88 189.7h.1M123.16 190.89h.1M123.57 192.25h.1M124.4 192.65h.1M120.91 189.22h.1M123.44 198.16h.1M118.78 194.26h.1M125.3 189.8h.1M124.59 196.88h.1" stroke="#000" stroke-opacity="0.55" stroke-width="0.8" stroke-linecap="round"/>
<path d="M118.63 192.85h.1M121.66 194.49h.1M120.01 193.39h.1M123.29 195.72h.1M119.9 196.18h.1M119.39 192.59h.1M124.5 190.88h.1M118.52 190.4h.1M118.82 195.59h.1M124.03 191.91h.1M125.23 195.22h.1M120.3 194.47h.1M122.57 194.11h.1M118.42 195.96h.1M121.26 194.86h.1M120.09 188.88h.1M122.37 191.96h.1M125.07 184.59h.1M115.85 201.93h.1M126.32 200.9h.1M151.09 198.09h.1M152.21 181.81h.1M144.68 208.63h.1" stroke="#000" stroke-opacity="0.28" stroke-width="0.8" stroke-linecap="round"/>
<line x1="114" y1="175.2" x2="114" y2="220" stroke="#1a1a1a" stroke-width="1" stroke-linecap="butt"/>
<line x1="113.5" y1="219.5" x2="158" y2="219.5" stroke="#1a1a1a" stroke-width="1.2" stroke-linecap="butt"/>
<line x1="112.4" y1="219.5" x2="114" y2="219.5" stroke="#222" stroke-width="0.8" stroke-linecap="butt"/>
<line x1="112.4" y1="208.65" x2="114" y2="208.65" stroke="#222" stroke-width="0.8" stroke-linecap="butt"/>
<line x1="112.4" y1="197.8" x2="114" y2="197.8" stroke="#222" stroke-width="0.8" stroke-linecap="butt"/>
<line x1="112.4" y1="186.95" x2="114" y2="186.95" stroke="#222" stroke-width="0.8" stroke-linecap="butt"/>
<line x1="112.4" y1="176.1" x2="114" y2="176.1" stroke="#222" stroke-width="0.8" stroke-linecap="butt"/>
<line x1="115.4" y1="219.5" x2="115.4" y2="221.3" stroke="#222" stroke-width="0.8" stroke-linecap="butt"/>
<line x1="120.58" y1="219.5" x2="120.58" y2="220.6" stroke="#222" stroke-width="0.8" stroke-linecap="butt"/>
<line x1="125.76" y1="219.5" x2="125.76" y2="221.3" stroke="#222" stroke-width="0.8" stroke-linecap="butt"/>
<line x1="130.94" y1="219.5" x2="130.94" y2="220.6" stroke="#222" stroke-width="0.8" stroke-linecap="butt"/>
<line x1="136.12" y1="219.5" x2="136.12" y2="221.3" stroke="#222" stroke-width="0.8" stroke-linecap="butt"/>
<line x1="141.3" y1="219.5" x2="141.3" y2="220.6" stroke="#222" stroke-width="0.8" stroke-linecap="butt"/>
<line x1="146.48" y1="219.5" x2="146.48" y2="221.3" stroke="#222" stroke-width="0.8" stroke-linecap="butt"/>
<line x1="151.66" y1="219.5" x2="151.66" y2="220.6" stroke="#222" stroke-width="0.8" stroke-linecap="butt"/>
<line x1="156.84" y1="219.5" x2="156.84" y2="221.3" stroke="#222" stroke-width="0.8" stroke-linecap="butt"/>
<rect x="115.9" y="177.6" width="12.4" height="23.7" fill="none" stroke="#111" stroke-width="0.95"/>
<rect x="128.3" y="178.3" width="26.2" height="39.1" fill="none" stroke="#111" stroke-width="0.95"/>
<line x1="115.9" y1="201.3" x2="154.5" y2="201.3" stroke="#111" stroke-width="0.95" stroke-linecap="butt"/>
<text x="117.7" y="182.5" font-size="5.3" text-anchor="start" font-weight="normal" fill="#000" fill="#2a2a2a">Allo</text>
<text x="117.7" y="187.7" font-size="5.3" text-anchor="start" font-weight="normal" fill="#000" fill="#2a2a2a">99%</text>
<text x="154" y="210.2" font-size="5.3" text-anchor="end" font-weight="normal" fill="#000" fill="#2a2a2a">GFP</text>
<text x="154" y="215.6" font-size="5.3" text-anchor="end" font-weight="normal" fill="#000" fill="#2a2a2a">0.1%</text>
<rect x="378.8" y="175.2" width="44" height="44.3" fill="#959595" stroke="#666" stroke-width="0.7"/>
<rect x="379.4" y="178.3" width="39.7" height="41.2" fill="#fff"/>
<rect x="419.2" y="178.3" width="3.0" height="23" fill="#7c7c7c"/>
<ellipse cx="386.1" cy="190.8" rx="3.68" ry="4.6" fill="url(#gh)"/>
<ellipse cx="386.1" cy="190.8" rx="1.9" ry="1.9" fill="url(#gc)"/>
<ellipse cx="398.8" cy="190.4" rx="10.35" ry="3.22" fill="url(#gh)"/>
<ellipse cx="398.8" cy="190.4" rx="5" ry="1.7" fill="url(#gd)"/>
<ellipse cx="407.4" cy="205.2" rx="4.14" ry="10.35" fill="url(#gh)"/>
<ellipse cx="407.4" cy="205.2" rx="2.2" ry="4.5" fill="url(#gd)"/>
<path d="M386.3 187.93h.1M383.29 192.51h.1M385.04 190.57h.1M387.07 189.49h.1M387.28 191.15h.1M382.97 191.51h.1M386.16 190.24h.1M387.68 194.78h.1M387.57 196.22h.1M385.49 189.74h.1M389.78 185.61h.1M385.78 191.36h.1M406.76 192.32h.1M399.81 190.75h.1M395.07 192.06h.1M397.97 190.2h.1M396.39 190.07h.1M398.29 190.4h.1M395.46 188.14h.1M399.46 192.46h.1M397.41 190.07h.1M396.94 188.83h.1M402.87 189.11h.1M397.01 190.98h.1M400.3 189.14h.1M404.4 202.65h.1M406.61 203h.1M408.73 214.7h.1M407.1 205.77h.1M407.59 200.64h.1M405.59 210.23h.1M406.91 210.78h.1M406.12 202.72h.1M406.62 203.3h.1M407.68 200.85h.1M408.44 212.21h.1M407.64 206.4h.1M405.61 202.58h.1M407.8 208.57h.1M408.92 206.77h.1M408.43 205.47h.1M406.61 201.96h.1M408.47 208.23h.1M408.59 204.37h.1" stroke="#000" stroke-opacity="0.55" stroke-width="0.8" stroke-linecap="round"/>
<path d="M386.87 193.65h.1M383.69 188.27h.1M383.63 191.49h.1M389.38 192.02h.1M386.89 191.81h.1M384.65 192.42h.1M385.55 191.75h.1M385.24 192.3h.1M398.13 190.27h.1M403.19 190.14h.1M403.25 188.81h.1M396.69 192.33h.1M400.79 191.05h.1M404.85 191.17h.1M397.6 190.48h.1M399 188.75h.1M396.4 189.7h.1M403.45 190.58h.1M395.58 189.07h.1M394.33 189.36h.1M394.59 190.83h.1M398.71 193.97h.1M397.16 191.95h.1M405.45 189.74h.1M397.36 190.5h.1M410.32 204.15h.1M407.99 215.59h.1M406.57 198.62h.1M407.11 208.13h.1M407.91 205.87h.1M406.92 201.92h.1M406.44 201.22h.1M405.09 213.52h.1M406.62 213.75h.1M409.26 199.86h.1M405.81 204.08h.1M409.37 202.75h.1M409.75 203.91h.1M406.46 194.3h.1M408.15 215.37h.1M408.03 204.67h.1M404.18 205.37h.1M406.82 201.07h.1M404.84 212.47h.1M405.27 204.43h.1M408.25 211.27h.1M404.75 199.25h.1M408.6 200.38h.1M407.99 205.78h.1M405.55 202.24h.1M398.62 203.61h.1M414.03 184.21h.1M409.93 184.37h.1M414.22 208.83h.1M410.37 212.7h.1M382.01 182.48h.1" stroke="#000" stroke-opacity="0.28" stroke-width="0.8" stroke-linecap="round"/>
<line x1="378.8" y1="175.2" x2="378.8" y2="220" stroke="#1a1a1a" stroke-width="1" stroke-linecap="butt"/>
<line x1="378.3" y1="219.5" x2="422.8" y2="219.5" stroke="#1a1a1a" stroke-width="1.2" stroke-linecap="butt"/>
<line x1="377.2" y1="219.5" x2="378.8" y2="219.5" stroke="#222" stroke-width="0.8" stroke-linecap="butt"/>
<line x1="377.2" y1="208.65" x2="378.8" y2="208.65" stroke="#222" stroke-width="0.8" stroke-linecap="butt"/>
<line x1="377.2" y1="197.8" x2="378.8" y2="197.8" stroke="#222" stroke-width="0.8" stroke-linecap="butt"/>
<line x1="377.2" y1="186.95" x2="378.8" y2="186.95" stroke="#222" stroke-width="0.8" stroke-linecap="butt"/>
<line x1="377.2" y1="176.1" x2="378.8" y2="176.1" stroke="#222" stroke-width="0.8" stroke-linecap="butt"/>
<line x1="380.2" y1="219.5" x2="380.2" y2="221.3" stroke="#222" stroke-width="0.8" stroke-linecap="butt"/>
<line x1="385.38" y1="219.5" x2="385.38" y2="220.6" stroke="#222" stroke-width="0.8" stroke-linecap="butt"/>
<line x1="390.56" y1="219.5" x2="390.56" y2="221.3" stroke="#222" stroke-width="0.8" stroke-linecap="butt"/>
<line x1="395.74" y1="219.5" x2="395.74" y2="220.6" stroke="#222" stroke-width="0.8" stroke-linecap="butt"/>
<line x1="400.92" y1="219.5" x2="400.92" y2="221.3" stroke="#222" stroke-width="0.8" stroke-linecap="butt"/>
<line x1="406.1" y1="219.5" x2="406.1" y2="220.6" stroke="#222" stroke-width="0.8" stroke-linecap="butt"/>
<line x1="411.28" y1="219.5" x2="411.28" y2="221.3" stroke="#222" stroke-width="0.8" stroke-linecap="butt"/>
<line x1="416.46" y1="219.5" x2="416.46" y2="220.6" stroke="#222" stroke-width="0.8" stroke-linecap="butt"/>
<line x1="421.64" y1="219.5" x2="421.64" y2="221.3" stroke="#222" stroke-width="0.8" stroke-linecap="butt"/>
<rect x="380.7" y="177.6" width="12.4" height="23.7" fill="none" stroke="#111" stroke-width="0.95"/>
<rect x="393.1" y="178.3" width="26.2" height="39.1" fill="none" stroke="#111" stroke-width="0.95"/>
<line x1="380.7" y1="201.3" x2="419.3" y2="201.3" stroke="#111" stroke-width="0.95" stroke-linecap="butt"/>
<text x="382.5" y="182.5" font-size="5.3" text-anchor="start" font-weight="normal" fill="#000" fill="#2a2a2a">Allo</text>
<text x="382.5" y="187.7" font-size="5.3" text-anchor="start" font-weight="normal" fill="#000" fill="#2a2a2a">52%</text>
<text x="418.8" y="210.2" font-size="5.3" text-anchor="end" font-weight="normal" fill="#000" fill="#2a2a2a">GFP</text>
<text x="418.8" y="215.6" font-size="5.3" text-anchor="end" font-weight="normal" fill="#000" fill="#2a2a2a">75%</text>
<rect x="161.4" y="175.2" width="44" height="44.3" fill="#959595" stroke="#666" stroke-width="0.7"/>
<rect x="162" y="178.3" width="39.7" height="41.2" fill="#fff"/>
<rect x="201.8" y="178.3" width="3.0" height="23" fill="#7c7c7c"/>
<ellipse cx="167.9" cy="189.2" rx="4.6" ry="8.05" fill="url(#gh)"/>
<ellipse cx="177" cy="210.8" rx="6.44" ry="5.98" fill="url(#gh)"/>
<ellipse cx="177" cy="210.8" rx="1.8" ry="1.8" fill="url(#gc)"/>
<ellipse cx="189.2" cy="206.2" rx="9.2" ry="6.9" fill="url(#gh)"/>
<ellipse cx="189.2" cy="206.2" rx="1.3" ry="1.2" fill="url(#gc)"/>
<ellipse cx="173.4" cy="211.2" rx="13.8" ry="6.9" fill="url(#gh)"/>
<path d="M167.77 186.78h.1M167.09 188.13h.1M171.02 184.66h.1M169.31 189.59h.1M169.59 192.26h.1M168.6 186.86h.1M166.4 189.62h.1M167.24 193.04h.1M166.56 190.48h.1M167.63 187.76h.1M177.6 206.75h.1M173.41 209.72h.1M179.79 211.92h.1M173.42 209.35h.1M174.67 212.83h.1M173.04 209.49h.1M180.98 209.44h.1M175.05 213.99h.1M178.54 213.15h.1M176.9 208.52h.1M174.65 214.88h.1M177.35 210.66h.1M179.5 211.08h.1M177.71 207.58h.1M190.24 204.04h.1M189.45 202.26h.1M190.99 205.7h.1M184.56 203.21h.1M192.26 206.98h.1M186.42 204.55h.1M187.32 207.61h.1M187.15 204.1h.1M188.39 203.88h.1M192.49 207.96h.1M184.04 200.29h.1M188.99 207.64h.1M193.81 203.49h.1M188.69 206.66h.1M188.47 210.62h.1M186 213.31h.1M188.95 202.13h.1M188.49 204.08h.1M165.98 211.81h.1M176.32 211.65h.1M173.54 212.86h.1M183.2 211.01h.1M169.45 205.61h.1M168.9 213.73h.1M168.91 208h.1M164.56 214.29h.1M173.32 210.91h.1M176.82 205.58h.1M171.22 214.59h.1M167.92 209.75h.1M173.1 204.01h.1M179.49 207.57h.1M179.42 209.33h.1" stroke="#000" stroke-opacity="0.55" stroke-width="0.8" stroke-linecap="round"/>
<path d="M170.09 188.69h.1M169.13 190.43h.1M165.16 192.27h.1M164.88 192.33h.1M163.67 185.11h.1M169.15 199.22h.1M169.83 186.56h.1M168.69 188.43h.1M185.24 210.6h.1M178.27 208.24h.1M173.57 206.59h.1M174.22 213.04h.1M174.84 206.16h.1M179.39 210.52h.1M178.1 213.05h.1M180.79 211.53h.1M182.69 211.74h.1M178.57 209.24h.1M174.2 210.45h.1M180.17 214.19h.1M175.52 207.83h.1M172.91 211.74h.1M176.97 211.2h.1M183.18 212.76h.1M193.66 202.16h.1M182.95 208.27h.1M191.23 210.38h.1M182.78 205.76h.1M193.23 204.79h.1M190.44 202.68h.1M187.62 208.58h.1M187.58 203.99h.1M183.34 206.68h.1M191.84 201.98h.1M191.37 206.53h.1M179.92 210.5h.1M192.14 201.76h.1M193.58 206.78h.1M193.8 202.83h.1M188.46 208.23h.1M187.15 202.5h.1M180.53 207.71h.1M188.3 208.3h.1M182.54 207.96h.1M188.77 197.73h.1M184.12 207.49h.1M167.59 215.98h.1M173.56 212.56h.1M179.25 211.68h.1M168.14 212.37h.1M178.27 218.45h.1M188.63 216h.1M172.82 208.66h.1M174.81 209.13h.1M164.36 206.36h.1M187.27 213.1h.1M197.86 207.74h.1M195.37 197.29h.1M198.84 195.96h.1M190.92 208.49h.1" stroke="#000" stroke-opacity="0.28" stroke-width="0.8" stroke-linecap="round"/>
<line x1="161.4" y1="175.2" x2="161.4" y2="220" stroke="#1a1a1a" stroke-width="1" stroke-linecap="butt"/>
<line x1="160.9" y1="219.5" x2="205.4" y2="219.5" stroke="#1a1a1a" stroke-width="1.2" stroke-linecap="butt"/>
<line x1="159.8" y1="219.5" x2="161.4" y2="219.5" stroke="#222" stroke-width="0.8" stroke-linecap="butt"/>
<line x1="159.8" y1="208.65" x2="161.4" y2="208.65" stroke="#222" stroke-width="0.8" stroke-linecap="butt"/>
<line x1="159.8" y1="197.8" x2="161.4" y2="197.8" stroke="#222" stroke-width="0.8" stroke-linecap="butt"/>
<line x1="159.8" y1="186.95" x2="161.4" y2="186.95" stroke="#222" stroke-width="0.8" stroke-linecap="butt"/>
<line x1="159.8" y1="176.1" x2="161.4" y2="176.1" stroke="#222" stroke-width="0.8" stroke-linecap="butt"/>
<line x1="162.8" y1="219.5" x2="162.8" y2="221.3" stroke="#222" stroke-width="0.8" stroke-linecap="butt"/>
<line x1="167.98" y1="219.5" x2="167.98" y2="220.6" stroke="#222" stroke-width="0.8" stroke-linecap="butt"/>
<line x1="173.16" y1="219.5" x2="173.16" y2="221.3" stroke="#222" stroke-width="0.8" stroke-linecap="butt"/>
<line x1="178.34" y1="219.5" x2="178.34" y2="220.6" stroke="#222" stroke-width="0.8" stroke-linecap="butt"/>
<line x1="183.52" y1="219.5" x2="183.52" y2="221.3" stroke="#222" stroke-width="0.8" stroke-linecap="butt"/>
<line x1="188.7" y1="219.5" x2="188.7" y2="220.6" stroke="#222" stroke-width="0.8" stroke-linecap="butt"/>
<line x1="193.88" y1="219.5" x2="193.88" y2="221.3" stroke="#222" stroke-width="0.8" stroke-linecap="butt"/>
<line x1="199.06" y1="219.5" x2="199.06" y2="220.6" stroke="#222" stroke-width="0.8" stroke-linecap="butt"/>
<line x1="204.24" y1="219.5" x2="204.24" y2="221.3" stroke="#222" stroke-width="0.8" stroke-linecap="butt"/>
<rect x="163.3" y="177.6" width="12.4" height="23.7" fill="none" stroke="#111" stroke-width="0.95"/>
<rect x="175.7" y="178.3" width="26.2" height="39.1" fill="none" stroke="#111" stroke-width="0.95"/>
<line x1="163.3" y1="201.3" x2="201.9" y2="201.3" stroke="#111" stroke-width="0.95" stroke-linecap="butt"/>
<text x="165.1" y="182.5" font-size="5.3" text-anchor="start" font-weight="normal" fill="#000" fill="#2a2a2a">Allo</text>
<text x="165.1" y="187.7" font-size="5.3" text-anchor="start" font-weight="normal" fill="#000" fill="#2a2a2a">16%</text>
<text x="201.4" y="210.2" font-size="5.3" text-anchor="end" font-weight="normal" fill="#000" fill="#2a2a2a">GFP</text>
<text x="201.4" y="215.6" font-size="5.3" text-anchor="end" font-weight="normal" fill="#000" fill="#2a2a2a">75%</text>
<rect x="425.9" y="175.2" width="44" height="44.3" fill="#959595" stroke="#666" stroke-width="0.7"/>
<rect x="426.5" y="178.3" width="39.7" height="41.2" fill="#fff"/>
<rect x="466.3" y="178.3" width="3.0" height="23" fill="#7c7c7c"/>
<ellipse cx="433.9" cy="191.2" rx="4.14" ry="3.45" fill="url(#gh)"/>
<ellipse cx="433.9" cy="191.2" rx="2.6" ry="1.7" fill="url(#gc)"/>
<ellipse cx="440.4" cy="191.2" rx="11.5" ry="2.99" fill="url(#gh)"/>
<ellipse cx="440.4" cy="191.2" rx="6.5" ry="1.6" fill="url(#gd)"/>
<ellipse cx="448.9" cy="204.7" rx="8.05" ry="13.8" fill="url(#gh)"/>
<ellipse cx="448.9" cy="204.7" rx="3" ry="5.5" fill="url(#gd)"/>
<path d="M434.16 189.84h.1M435.57 191.12h.1M433.83 192.14h.1M430.3 191.57h.1M431.64 189.1h.1M432.41 191.75h.1M436.92 191.92h.1M434.06 190.66h.1M433.35 191.19h.1M432.39 193.11h.1M450.01 191.55h.1M444.38 190.18h.1M436.93 190.86h.1M438.4 191.13h.1M432.65 192.15h.1M439.3 191.13h.1M436.95 192.14h.1M442.26 192.19h.1M441.59 191.47h.1M431.23 189.95h.1M438.98 190.27h.1M437.62 192.65h.1M444.57 207h.1M450.15 199.25h.1M451.41 202.02h.1M446.32 199.13h.1M441.03 209.17h.1M448.27 210.55h.1M444.92 204.48h.1M445.82 203.18h.1M450.32 207.46h.1M451.37 204.38h.1M449.14 197.56h.1M452.58 210.04h.1M450.16 203.08h.1M449.75 200.73h.1M449.32 203.44h.1M450.24 198.87h.1M451.09 208.84h.1M446.8 195.04h.1M439.85 205.24h.1M447.22 195.29h.1M445.1 214.8h.1M441.59 207.48h.1M449.1 205.4h.1M454.25 214.5h.1M449.73 198.83h.1M446.57 200.83h.1M448.3 202.97h.1" stroke="#000" stroke-opacity="0.55" stroke-width="0.8" stroke-linecap="round"/>
<path d="M436.81 192.76h.1M434.63 193.74h.1M435.07 189.38h.1M434.62 190.75h.1M433.01 191.88h.1M433.69 191.76h.1M434.83 189.96h.1M435.12 190.84h.1M433.77 192.42h.1M431.42 192.35h.1M430.66 191.54h.1M455.07 189.95h.1M448.31 191.02h.1M436.09 190.55h.1M449.63 191.27h.1M441.68 192.78h.1M457.69 190.44h.1M430.84 190.34h.1M449.05 193.02h.1M445.14 190.62h.1M443.43 190.6h.1M436.66 188.46h.1M438.07 190.43h.1M443.28 191.84h.1M437.78 190.38h.1M448.24 190.33h.1M439.07 189.88h.1M438.65 191.77h.1M440.36 209.37h.1M450.68 202.82h.1M443.98 209.06h.1M445.1 206.78h.1M449.78 203.01h.1M452.47 199.63h.1M448.72 212.49h.1M450.98 203.07h.1M448.69 212.16h.1M446.12 207.35h.1M440.63 209.31h.1M453.92 209.12h.1M440.76 208.85h.1M444.09 204.5h.1M450.27 205.96h.1M450.02 207.57h.1M449.22 205.35h.1M448.7 202.19h.1M452.59 206.78h.1M453.43 203.08h.1M452.9 205.49h.1M445.49 197.73h.1M446.38 204.08h.1M448.72 216.04h.1M445.96 217.57h.1M444.3 198.92h.1M441.85 205.73h.1M446.74 198.45h.1M451.49 206.23h.1M448.17 202.14h.1M451.33 199.61h.1M450.76 191.42h.1M451.21 200.58h.1M459 212.54h.1M440.67 186.39h.1M449.69 183.8h.1M458.57 198.8h.1" stroke="#000" stroke-opacity="0.28" stroke-width="0.8" stroke-linecap="round"/>
<line x1="425.9" y1="175.2" x2="425.9" y2="220" stroke="#1a1a1a" stroke-width="1" stroke-linecap="butt"/>
<line x1="425.4" y1="219.5" x2="469.9" y2="219.5" stroke="#1a1a1a" stroke-width="1.2" stroke-linecap="butt"/>
<line x1="424.3" y1="219.5" x2="425.9" y2="219.5" stroke="#222" stroke-width="0.8" stroke-linecap="butt"/>
<line x1="424.3" y1="208.65" x2="425.9" y2="208.65" stroke="#222" stroke-width="0.8" stroke-linecap="butt"/>
<line x1="424.3" y1="197.8" x2="425.9" y2="197.8" stroke="#222" stroke-width="0.8" stroke-linecap="butt"/>
<line x1="424.3" y1="186.95" x2="425.9" y2="186.95" stroke="#222" stroke-width="0.8" stroke-linecap="butt"/>
<line x1="424.3" y1="176.1" x2="425.9" y2="176.1" stroke="#222" stroke-width="0.8" stroke-linecap="butt"/>
<line x1="427.3" y1="219.5" x2="427.3" y2="221.3" stroke="#222" stroke-width="0.8" stroke-linecap="butt"/>
<line x1="432.48" y1="219.5" x2="432.48" y2="220.6" stroke="#222" stroke-width="0.8" stroke-linecap="butt"/>
<line x1="437.66" y1="219.5" x2="437.66" y2="221.3" stroke="#222" stroke-width="0.8" stroke-linecap="butt"/>
<line x1="442.84" y1="219.5" x2="442.84" y2="220.6" stroke="#222" stroke-width="0.8" stroke-linecap="butt"/>
<line x1="448.02" y1="219.5" x2="448.02" y2="221.3" stroke="#222" stroke-width="0.8" stroke-linecap="butt"/>
<line x1="453.2" y1="219.5" x2="453.2" y2="220.6" stroke="#222" stroke-width="0.8" stroke-linecap="butt"/>
<line x1="458.38" y1="219.5" x2="458.38" y2="221.3" stroke="#222" stroke-width="0.8" stroke-linecap="butt"/>
<line x1="463.56" y1="219.5" x2="463.56" y2="220.6" stroke="#222" stroke-width="0.8" stroke-linecap="butt"/>
<line x1="468.74" y1="219.5" x2="468.74" y2="221.3" stroke="#222" stroke-width="0.8" stroke-linecap="butt"/>
<rect x="427.8" y="177.6" width="12.4" height="23.7" fill="none" stroke="#111" stroke-width="0.95"/>
<rect x="440.2" y="178.3" width="26.2" height="39.1" fill="none" stroke="#111" stroke-width="0.95"/>
<line x1="427.8" y1="201.3" x2="466.4" y2="201.3" stroke="#111" stroke-width="0.95" stroke-linecap="butt"/>
<text x="429.6" y="182.5" font-size="5.3" text-anchor="start" font-weight="normal" fill="#000" fill="#2a2a2a">Allo</text>
<text x="429.6" y="187.7" font-size="5.3" text-anchor="start" font-weight="normal" fill="#000" fill="#2a2a2a">35%</text>
<text x="465.9" y="210.2" font-size="5.3" text-anchor="end" font-weight="normal" fill="#000" fill="#2a2a2a">GFP</text>
<text x="465.9" y="215.6" font-size="5.3" text-anchor="end" font-weight="normal" fill="#000" fill="#2a2a2a">73%</text>
<rect x="208.8" y="175.2" width="44" height="44.3" fill="#959595" stroke="#666" stroke-width="0.7"/>
<rect x="209.4" y="178.3" width="39.7" height="41.2" fill="#fff"/>
<rect x="249.2" y="178.3" width="3.0" height="23" fill="#7c7c7c"/>
<ellipse cx="216.3" cy="193.7" rx="4.83" ry="4.83" fill="url(#gh)"/>
<ellipse cx="216.3" cy="193.7" rx="4" ry="3.88" fill="url(#gc)"/>
<ellipse cx="218.04" cy="193.25" rx="2.2" ry="2.13" fill="url(#gc)"/>
<ellipse cx="217.55" cy="192.4" rx="2.2" ry="2.13" fill="url(#gc)"/>
<ellipse cx="216.1" cy="191.91" rx="2.2" ry="2.13" fill="url(#gc)"/>
<path d="M216.43 193.34h.1M214.48 192.67h.1M214.16 191.66h.1M213.75 194.25h.1M217.46 196.16h.1M212.49 198.95h.1M222.32 190.07h.1M215.71 193.61h.1M217.35 194.31h.1M216.91 192.25h.1M217.06 195.99h.1M217.42 191.03h.1M216.6 194.91h.1M216.69 194.5h.1M217.52 194.4h.1M216.41 195.09h.1M214.2 193.77h.1M215.58 198.13h.1M215.84 193.93h.1M216.73 193.31h.1M218.17 196.96h.1" stroke="#000" stroke-opacity="0.55" stroke-width="0.8" stroke-linecap="round"/>
<path d="M216.56 195.56h.1M217.13 193.06h.1M214.85 196.35h.1M213.21 191.52h.1M216.27 195.87h.1M216.63 193.19h.1M217.2 191.21h.1M217.06 194.68h.1M213.88 191.4h.1M213.82 192.94h.1M214.81 197.45h.1M219.08 190.26h.1M213.77 193.39h.1M215.86 193.46h.1M218.6 195.23h.1M211.42 191.59h.1M216.48 193.44h.1M216.5 195.28h.1M214.79 193.64h.1M220.23 195.6h.1M214.2 195.32h.1M213.65 196.17h.1M214.06 196.56h.1M216 193.78h.1M236.66 205.53h.1M210.76 196.28h.1M214.88 210.38h.1M229.14 193.57h.1M241.58 211.27h.1M212.93 182.9h.1" stroke="#000" stroke-opacity="0.28" stroke-width="0.8" stroke-linecap="round"/>
<line x1="208.8" y1="175.2" x2="208.8" y2="220" stroke="#1a1a1a" stroke-width="1" stroke-linecap="butt"/>
<line x1="208.3" y1="219.5" x2="252.8" y2="219.5" stroke="#1a1a1a" stroke-width="1.2" stroke-linecap="butt"/>
<line x1="207.2" y1="219.5" x2="208.8" y2="219.5" stroke="#222" stroke-width="0.8" stroke-linecap="butt"/>
<line x1="207.2" y1="208.65" x2="208.8" y2="208.65" stroke="#222" stroke-width="0.8" stroke-linecap="butt"/>
<line x1="207.2" y1="197.8" x2="208.8" y2="197.8" stroke="#222" stroke-width="0.8" stroke-linecap="butt"/>
<line x1="207.2" y1="186.95" x2="208.8" y2="186.95" stroke="#222" stroke-width="0.8" stroke-linecap="butt"/>
<line x1="207.2" y1="176.1" x2="208.8" y2="176.1" stroke="#222" stroke-width="0.8" stroke-linecap="butt"/>
<line x1="210.2" y1="219.5" x2="210.2" y2="221.3" stroke="#222" stroke-width="0.8" stroke-linecap="butt"/>
<line x1="215.38" y1="219.5" x2="215.38" y2="220.6" stroke="#222" stroke-width="0.8" stroke-linecap="butt"/>
<line x1="220.56" y1="219.5" x2="220.56" y2="221.3" stroke="#222" stroke-width="0.8" stroke-linecap="butt"/>
<line x1="225.74" y1="219.5" x2="225.74" y2="220.6" stroke="#222" stroke-width="0.8" stroke-linecap="butt"/>
<line x1="230.92" y1="219.5" x2="230.92" y2="221.3" stroke="#222" stroke-width="0.8" stroke-linecap="butt"/>
<line x1="236.1" y1="219.5" x2="236.1" y2="220.6" stroke="#222" stroke-width="0.8" stroke-linecap="butt"/>
<line x1="241.28" y1="219.5" x2="241.28" y2="221.3" stroke="#222" stroke-width="0.8" stroke-linecap="butt"/>
<line x1="246.46" y1="219.5" x2="246.46" y2="220.6" stroke="#222" stroke-width="0.8" stroke-linecap="butt"/>
<line x1="251.64" y1="219.5" x2="251.64" y2="221.3" stroke="#222" stroke-width="0.8" stroke-linecap="butt"/>
<rect x="210.7" y="177.6" width="12.4" height="23.7" fill="none" stroke="#111" stroke-width="0.95"/>
<rect x="223.1" y="178.3" width="26.2" height="39.1" fill="none" stroke="#111" stroke-width="0.95"/>
<line x1="210.7" y1="201.3" x2="249.3" y2="201.3" stroke="#111" stroke-width="0.95" stroke-linecap="butt"/>
<text x="212.5" y="182.5" font-size="5.3" text-anchor="start" font-weight="normal" fill="#000" fill="#2a2a2a">Allo</text>
<text x="212.5" y="187.7" font-size="5.3" text-anchor="start" font-weight="normal" fill="#000" fill="#2a2a2a">99%</text>
<text x="248.8" y="210.2" font-size="5.3" text-anchor="end" font-weight="normal" fill="#000" fill="#2a2a2a">GFP</text>
<text x="248.8" y="215.6" font-size="5.3" text-anchor="end" font-weight="normal" fill="#000" fill="#2a2a2a">0.3%</text>
<rect x="473" y="175.2" width="44" height="44.3" fill="#959595" stroke="#666" stroke-width="0.7"/>
<rect x="473.6" y="178.3" width="39.7" height="41.2" fill="#fff"/>
<rect x="513.4" y="178.3" width="3.0" height="23" fill="#7c7c7c"/>
<ellipse cx="481.3" cy="191.2" rx="5.98" ry="5.06" fill="url(#gh)"/>
<ellipse cx="481.3" cy="191.2" rx="4.2" ry="3.2" fill="url(#gc)"/>
<ellipse cx="488" cy="191.7" rx="9.2" ry="3.45" fill="url(#gh)"/>
<ellipse cx="482" cy="204.7" rx="4.14" ry="10.35" fill="url(#gh)"/>
<ellipse cx="497" cy="199.2" rx="13.8" ry="9.2" fill="url(#gh)"/>
<path d="M483.3 193.07h.1M482.3 192.39h.1M481.43 192.54h.1M478.71 190.22h.1M483.91 189.64h.1M482.88 190.79h.1M484.66 188.62h.1M480.78 188.19h.1M485.55 191.14h.1M481.48 189.83h.1M479.84 190.72h.1M482.31 190.56h.1M486.97 190.88h.1M483.58 192.16h.1M487.68 190.81h.1M491.67 192.61h.1M483.33 191.38h.1M479.53 204.26h.1M483.02 201.92h.1M484.91 203.72h.1M479.16 200.63h.1M478.09 205.11h.1M482.78 209.66h.1M479.76 203.72h.1M481.84 198.36h.1M510.13 201.42h.1M488.66 189.89h.1M490.15 201.65h.1M496.05 206h.1M500.73 196.42h.1M495.76 202.11h.1M492.78 188.36h.1M487.68 201.87h.1M494.27 205.31h.1M499.61 197.75h.1M493.08 198.53h.1" stroke="#000" stroke-opacity="0.55" stroke-width="0.8" stroke-linecap="round"/>
<path d="M480.42 191.76h.1M480.8 189.98h.1M482.18 191.56h.1M486.44 190.76h.1M479.65 192.55h.1M482 190.18h.1M481.21 190.62h.1M485.75 189.33h.1M482.18 190.2h.1M483.87 190.86h.1M479.57 192.91h.1M487.01 193.32h.1M477.74 189.58h.1M479.72 187.88h.1M483.73 190.76h.1M478.83 190.8h.1M481.4 189.89h.1M483.44 191.05h.1M476.28 194.01h.1M481.26 189.71h.1M478.68 194.5h.1M479.35 189.75h.1M496.01 191.32h.1M487.85 192.83h.1M479.81 192.51h.1M488.66 191.65h.1M486.29 194.1h.1M485.14 190.48h.1M490.42 190.62h.1M482.2 191.21h.1M489.5 190.95h.1M483.45 207.26h.1M482.08 202.89h.1M480.56 201.8h.1M482.59 208.71h.1M481.36 199.95h.1M487.98 203.24h.1M482.57 204.3h.1M482.18 211.36h.1M478.59 209.8h.1M482.41 202.84h.1M482.81 206.88h.1M483.66 213.11h.1M502.8 200.21h.1M495.18 201.93h.1M503.73 197.93h.1M506.67 198.51h.1M497.41 187.85h.1M484.66 206.11h.1M483.4 179.52h.1M488.09 212.77h.1M484.25 216.13h.1M508.78 212.57h.1M494.48 186.05h.1" stroke="#000" stroke-opacity="0.28" stroke-width="0.8" stroke-linecap="round"/>
<line x1="473" y1="175.2" x2="473" y2="220" stroke="#1a1a1a" stroke-width="1" stroke-linecap="butt"/>
<line x1="472.5" y1="219.5" x2="517" y2="219.5" stroke="#1a1a1a" stroke-width="1.2" stroke-linecap="butt"/>
<line x1="471.4" y1="219.5" x2="473" y2="219.5" stroke="#222" stroke-width="0.8" stroke-linecap="butt"/>
<line x1="471.4" y1="208.65" x2="473" y2="208.65" stroke="#222" stroke-width="0.8" stroke-linecap="butt"/>
<line x1="471.4" y1="197.8" x2="473" y2="197.8" stroke="#222" stroke-width="0.8" stroke-linecap="butt"/>
<line x1="471.4" y1="186.95" x2="473" y2="186.95" stroke="#222" stroke-width="0.8" stroke-linecap="butt"/>
<line x1="471.4" y1="176.1" x2="473" y2="176.1" stroke="#222" stroke-width="0.8" stroke-linecap="butt"/>
<line x1="474.4" y1="219.5" x2="474.4" y2="221.3" stroke="#222" stroke-width="0.8" stroke-linecap="butt"/>
<line x1="479.58" y1="219.5" x2="479.58" y2="220.6" stroke="#222" stroke-width="0.8" stroke-linecap="butt"/>
<line x1="484.76" y1="219.5" x2="484.76" y2="221.3" stroke="#222" stroke-width="0.8" stroke-linecap="butt"/>
<line x1="489.94" y1="219.5" x2="489.94" y2="220.6" stroke="#222" stroke-width="0.8" stroke-linecap="butt"/>
<line x1="495.12" y1="219.5" x2="495.12" y2="221.3" stroke="#222" stroke-width="0.8" stroke-linecap="butt"/>
<line x1="500.3" y1="219.5" x2="500.3" y2="220.6" stroke="#222" stroke-width="0.8" stroke-linecap="butt"/>
<line x1="505.48" y1="219.5" x2="505.48" y2="221.3" stroke="#222" stroke-width="0.8" stroke-linecap="butt"/>
<line x1="510.66" y1="219.5" x2="510.66" y2="220.6" stroke="#222" stroke-width="0.8" stroke-linecap="butt"/>
<line x1="515.84" y1="219.5" x2="515.84" y2="221.3" stroke="#222" stroke-width="0.8" stroke-linecap="butt"/>
<rect x="474.9" y="177.6" width="12.4" height="23.7" fill="none" stroke="#111" stroke-width="0.95"/>
<rect x="487.3" y="178.3" width="26.2" height="39.1" fill="none" stroke="#111" stroke-width="0.95"/>
<line x1="474.9" y1="201.3" x2="513.5" y2="201.3" stroke="#111" stroke-width="0.95" stroke-linecap="butt"/>
<text x="476.7" y="182.5" font-size="5.3" text-anchor="start" font-weight="normal" fill="#000" fill="#2a2a2a">Allo</text>
<text x="476.7" y="187.7" font-size="5.3" text-anchor="start" font-weight="normal" fill="#000" fill="#2a2a2a">77%</text>
<text x="513" y="210.2" font-size="5.3" text-anchor="end" font-weight="normal" fill="#000" fill="#2a2a2a">GFP</text>
<text x="513" y="215.6" font-size="5.3" text-anchor="end" font-weight="normal" fill="#000" fill="#2a2a2a">19%</text>
<rect x="19.2" y="237.7" width="44" height="44.3" fill="#fff" stroke="#555" stroke-width="0.8"/>
<ellipse cx="26.4" cy="259.7" rx="4.83" ry="4.83" fill="url(#gh)"/>
<ellipse cx="26.4" cy="259.7" rx="4.5" ry="4.37" fill="url(#gc)"/>
<ellipse cx="28.25" cy="258.89" rx="2.48" ry="2.4" fill="url(#gc)"/>
<ellipse cx="24.86" cy="261.01" rx="2.48" ry="2.4" fill="url(#gc)"/>
<ellipse cx="27.28" cy="257.88" rx="2.48" ry="2.4" fill="url(#gc)"/>
<path d="M26.43 262.11h.1M25.6 259.48h.1M25.5 258.26h.1M29.7 258.17h.1M27.14 261.73h.1M22.47 260.94h.1M25.8 260.81h.1M28.06 259.74h.1M25.03 260.02h.1M22.59 261.58h.1M31.84 263.18h.1M30.36 263h.1M26.2 260.42h.1M26.63 262.48h.1M27.75 260.09h.1M27.47 260.09h.1M27.2 259.73h.1M25.87 256.77h.1M23.98 257.24h.1M26.97 261.71h.1M26.83 260.63h.1M29.09 258.67h.1M27.62 260.15h.1M28.03 255.98h.1M27.03 255.2h.1M24.87 259.68h.1" stroke="#000" stroke-opacity="0.55" stroke-width="0.8" stroke-linecap="round"/>
<path d="M26.16 260.25h.1M27.42 259.07h.1M24.23 259.3h.1M31.3 256.53h.1M28.69 255.06h.1M23.57 260.6h.1M25.76 259.69h.1M29.03 264.42h.1M27.22 260.56h.1M24.3 258.05h.1M24.35 263.24h.1M24.16 260.28h.1M25.5 266.26h.1M30.57 257.28h.1M27.53 259.82h.1M29.54 260.69h.1M27.59 261.78h.1M26.53 258.3h.1M44.91 275.57h.1M57.72 276.96h.1M36.18 255.25h.1M55.69 275.3h.1M51.8 265.48h.1M57.49 246.86h.1" stroke="#000" stroke-opacity="0.28" stroke-width="0.8" stroke-linecap="round"/>
<line x1="19.2" y1="237.7" x2="19.2" y2="282.5" stroke="#1a1a1a" stroke-width="1" stroke-linecap="butt"/>
<line x1="18.7" y1="282" x2="63.2" y2="282" stroke="#1a1a1a" stroke-width="1.2" stroke-linecap="butt"/>
<line x1="17.6" y1="282" x2="19.2" y2="282" stroke="#222" stroke-width="0.8" stroke-linecap="butt"/>
<line x1="17.6" y1="271.15" x2="19.2" y2="271.15" stroke="#222" stroke-width="0.8" stroke-linecap="butt"/>
<line x1="17.6" y1="260.3" x2="19.2" y2="260.3" stroke="#222" stroke-width="0.8" stroke-linecap="butt"/>
<line x1="17.6" y1="249.45" x2="19.2" y2="249.45" stroke="#222" stroke-width="0.8" stroke-linecap="butt"/>
<line x1="17.6" y1="238.6" x2="19.2" y2="238.6" stroke="#222" stroke-width="0.8" stroke-linecap="butt"/>
<line x1="20.6" y1="282" x2="20.6" y2="283.8" stroke="#222" stroke-width="0.8" stroke-linecap="butt"/>
<line x1="25.78" y1="282" x2="25.78" y2="283.1" stroke="#222" stroke-width="0.8" stroke-linecap="butt"/>
<line x1="30.96" y1="282" x2="30.96" y2="283.8" stroke="#222" stroke-width="0.8" stroke-linecap="butt"/>
<line x1="36.14" y1="282" x2="36.14" y2="283.1" stroke="#222" stroke-width="0.8" stroke-linecap="butt"/>
<line x1="41.32" y1="282" x2="41.32" y2="283.8" stroke="#222" stroke-width="0.8" stroke-linecap="butt"/>
<line x1="46.5" y1="282" x2="46.5" y2="283.1" stroke="#222" stroke-width="0.8" stroke-linecap="butt"/>
<line x1="51.68" y1="282" x2="51.68" y2="283.8" stroke="#222" stroke-width="0.8" stroke-linecap="butt"/>
<line x1="56.86" y1="282" x2="56.86" y2="283.1" stroke="#222" stroke-width="0.8" stroke-linecap="butt"/>
<line x1="62.04" y1="282" x2="62.04" y2="283.8" stroke="#222" stroke-width="0.8" stroke-linecap="butt"/>
<rect x="61.4" y="243.2" width="1.8" height="38.8" fill="#999"/>
<rect x="21.5" y="239.7" width="12.7" height="27.5" fill="none" stroke="#333" stroke-width="0.9"/>
<rect x="34.2" y="243.6" width="27.1" height="38.1" fill="none" stroke="#111" stroke-width="1.6"/>
<line x1="21.6" y1="267.2" x2="61.3" y2="267.2" stroke="#111" stroke-width="1" stroke-linecap="butt"/>
<text x="23.2" y="245.2" font-size="5.3" text-anchor="start" font-weight="normal" fill="#000" fill="#2a2a2a">Allo</text>
<text x="23.2" y="250.5" font-size="5.3" text-anchor="start" font-weight="normal" fill="#000" fill="#2a2a2a">92%</text>
<text x="59.4" y="256.9" font-size="5.3" text-anchor="end" font-weight="normal" fill="#000" fill="#2a2a2a">GFP</text>
<text x="59.4" y="262.4" font-size="5.3" text-anchor="end" font-weight="normal" fill="#000" fill="#2a2a2a">0.1%</text>
<text x="15.3" y="284.3" font-size="6.6" text-anchor="middle" font-weight="bold" fill="#111" >0</text>
<text x="15.3" y="273.45" font-size="6.6" text-anchor="middle" font-weight="bold" fill="#111" >1</text>
<text x="15.3" y="262.6" font-size="6.6" text-anchor="middle" font-weight="bold" fill="#111" >2</text>
<text x="15.3" y="251.75" font-size="6.6" text-anchor="middle" font-weight="bold" fill="#111" >3</text>
<text x="15.3" y="240.9" font-size="6.6" text-anchor="middle" font-weight="bold" fill="#111" >4</text>
<rect x="284.6" y="237.7" width="44" height="44.3" fill="#959595" stroke="#666" stroke-width="0.7"/>
<rect x="285.2" y="240.8" width="39.7" height="41.2" fill="#fff"/>
<rect x="325" y="240.8" width="3.0" height="23" fill="#7c7c7c"/>
<ellipse cx="292" cy="254" rx="5.52" ry="4.14" fill="url(#gh)"/>
<ellipse cx="292" cy="254" rx="4.6" ry="3" fill="url(#gc)"/>
<ellipse cx="303.6" cy="257.2" rx="13.8" ry="5.06" fill="url(#gh)" transform="rotate(35 303.6 257.2)"/>
<ellipse cx="293.2" cy="264.7" rx="3.22" ry="11.5" fill="url(#gh)"/>
<path d="M290.79 254.61h.1M291.83 254.5h.1M292.68 254.5h.1M290.78 258.4h.1M292.87 250.61h.1M288.56 253.93h.1M295.9 254.36h.1M295.58 253.75h.1M290.23 255.77h.1M294.06 252.39h.1M292.13 252.98h.1M292.65 253.06h.1M292.66 256.56h.1M288.61 251.67h.1M314.17 259.72h.1M307.97 264.42h.1M311.71 267.2h.1M291.69 252.25h.1M299.8 253.18h.1M301.7 256.4h.1M310.73 260.2h.1M303.38 255.45h.1M292.41 254.6h.1M306.37 260.76h.1M294.85 253.01h.1M303.78 257.19h.1M300.26 251.19h.1M299.5 254.02h.1M293.3 275.66h.1M290.14 262.47h.1M292.34 255.2h.1M291.58 269.69h.1M293.35 264.12h.1M292.54 264.2h.1M291.53 264.62h.1M291.24 268.72h.1" stroke="#000" stroke-opacity="0.55" stroke-width="0.8" stroke-linecap="round"/>
<path d="M289.28 255.8h.1M289.33 253.48h.1M290.88 254.52h.1M291.89 254.18h.1M293.26 251.04h.1M296.99 252.99h.1M293.79 251.54h.1M290.37 256.54h.1M292.65 254.63h.1M290.91 253.62h.1M296.06 258.41h.1M295.27 253.96h.1M286.73 254.45h.1M294.54 254.21h.1M295.83 254.04h.1M304.44 257.59h.1M309.82 262.04h.1M311.97 262.17h.1M301.25 255.87h.1M299.98 258.23h.1M304.25 261.4h.1M302.95 260.74h.1M300.71 252.89h.1M309.51 262.56h.1M301.88 254.43h.1M297.32 254.71h.1M291.39 268.26h.1M293.42 270.42h.1M292.34 259.76h.1M296.25 268.22h.1M288.6 256h.1M294.03 250.64h.1M300.32 243.66h.1M313.44 274.34h.1M315.37 275.44h.1M323.84 272.64h.1" stroke="#000" stroke-opacity="0.28" stroke-width="0.8" stroke-linecap="round"/>
<line x1="284.6" y1="237.7" x2="284.6" y2="282.5" stroke="#1a1a1a" stroke-width="1" stroke-linecap="butt"/>
<line x1="284.1" y1="282" x2="328.6" y2="282" stroke="#1a1a1a" stroke-width="1.2" stroke-linecap="butt"/>
<line x1="283" y1="282" x2="284.6" y2="282" stroke="#222" stroke-width="0.8" stroke-linecap="butt"/>
<line x1="283" y1="271.15" x2="284.6" y2="271.15" stroke="#222" stroke-width="0.8" stroke-linecap="butt"/>
<line x1="283" y1="260.3" x2="284.6" y2="260.3" stroke="#222" stroke-width="0.8" stroke-linecap="butt"/>
<line x1="283" y1="249.45" x2="284.6" y2="249.45" stroke="#222" stroke-width="0.8" stroke-linecap="butt"/>
<line x1="283" y1="238.6" x2="284.6" y2="238.6" stroke="#222" stroke-width="0.8" stroke-linecap="butt"/>
<line x1="286" y1="282" x2="286" y2="283.8" stroke="#222" stroke-width="0.8" stroke-linecap="butt"/>
<line x1="291.18" y1="282" x2="291.18" y2="283.1" stroke="#222" stroke-width="0.8" stroke-linecap="butt"/>
<line x1="296.36" y1="282" x2="296.36" y2="283.8" stroke="#222" stroke-width="0.8" stroke-linecap="butt"/>
<line x1="301.54" y1="282" x2="301.54" y2="283.1" stroke="#222" stroke-width="0.8" stroke-linecap="butt"/>
<line x1="306.72" y1="282" x2="306.72" y2="283.8" stroke="#222" stroke-width="0.8" stroke-linecap="butt"/>
<line x1="311.9" y1="282" x2="311.9" y2="283.1" stroke="#222" stroke-width="0.8" stroke-linecap="butt"/>
<line x1="317.08" y1="282" x2="317.08" y2="283.8" stroke="#222" stroke-width="0.8" stroke-linecap="butt"/>
<line x1="322.26" y1="282" x2="322.26" y2="283.1" stroke="#222" stroke-width="0.8" stroke-linecap="butt"/>
<line x1="327.44" y1="282" x2="327.44" y2="283.8" stroke="#222" stroke-width="0.8" stroke-linecap="butt"/>
<rect x="286.5" y="240.1" width="12.4" height="23.7" fill="none" stroke="#111" stroke-width="0.95"/>
<rect x="298.9" y="240.8" width="26.2" height="39.1" fill="none" stroke="#111" stroke-width="0.95"/>
<line x1="286.5" y1="263.8" x2="325.1" y2="263.8" stroke="#111" stroke-width="0.95" stroke-linecap="butt"/>
<text x="288.3" y="245" font-size="5.3" text-anchor="start" font-weight="normal" fill="#000" fill="#2a2a2a">Allo</text>
<text x="288.3" y="250.2" font-size="5.3" text-anchor="start" font-weight="normal" fill="#000" fill="#2a2a2a">93%</text>
<text x="324.6" y="272.7" font-size="5.3" text-anchor="end" font-weight="normal" fill="#000" fill="#2a2a2a">GFP</text>
<text x="324.6" y="278.1" font-size="5.3" text-anchor="end" font-weight="normal" fill="#000" fill="#2a2a2a">18%</text>
<text x="280.7" y="284.3" font-size="6.6" text-anchor="middle" font-weight="bold" fill="#111" >0</text>
<text x="280.7" y="273.45" font-size="6.6" text-anchor="middle" font-weight="bold" fill="#111" >1</text>
<text x="280.7" y="262.6" font-size="6.6" text-anchor="middle" font-weight="bold" fill="#111" >2</text>
<text x="280.7" y="251.75" font-size="6.6" text-anchor="middle" font-weight="bold" fill="#111" >3</text>
<text x="280.7" y="240.9" font-size="6.6" text-anchor="middle" font-weight="bold" fill="#111" >4</text>
<rect x="66.6" y="237.7" width="44" height="44.3" fill="#959595" stroke="#666" stroke-width="0.7"/>
<rect x="67.2" y="240.8" width="39.7" height="41.2" fill="#fff"/>
<rect x="107" y="240.8" width="3.0" height="23" fill="#7c7c7c"/>
<ellipse cx="74.6" cy="258.1" rx="4.83" ry="4.83" fill="url(#gh)"/>
<ellipse cx="74.6" cy="258.1" rx="4.3" ry="4.17" fill="url(#gc)"/>
<ellipse cx="75.5" cy="256.39" rx="2.37" ry="2.29" fill="url(#gc)"/>
<ellipse cx="75.05" cy="259.98" rx="2.37" ry="2.29" fill="url(#gc)"/>
<ellipse cx="76.41" cy="257.42" rx="2.37" ry="2.29" fill="url(#gc)"/>
<path d="M75.27 259.31h.1M75 261.2h.1M73.34 259.23h.1M73.64 253.67h.1M74.79 260.82h.1M77.05 255.52h.1M76.49 259.46h.1M74.44 255.69h.1M72.15 260.16h.1M74.51 258.75h.1M71.81 261.34h.1M70.94 255.91h.1M68.71 258.79h.1M74.85 259.14h.1M78.28 261.47h.1M76.54 255.06h.1M71.46 259.98h.1M76.5 258.68h.1M72.9 257.43h.1M74.29 260.75h.1M71.45 253.72h.1M77.83 260.95h.1M73.18 253.8h.1M71.9 257.2h.1M76.19 259.16h.1" stroke="#000" stroke-opacity="0.55" stroke-width="0.8" stroke-linecap="round"/>
<path d="M72.49 258.18h.1M75.21 256.38h.1M74.99 263.24h.1M75.04 258.15h.1M78.76 256.68h.1M75.22 257.32h.1M74.37 256.9h.1M77.3 262.9h.1M71.92 258.86h.1M73.65 259.15h.1M75.6 257.4h.1M77.22 257.26h.1M75.67 257.84h.1M74.66 256.93h.1M74.05 255.34h.1M75.94 258.54h.1M75.43 260.99h.1M73.81 257.58h.1M71.84 257.54h.1M75.45 260.36h.1M68.38 248.61h.1M101.24 265.63h.1M96.97 264.1h.1M86.66 276.36h.1M81.35 251.88h.1M79.24 244.59h.1" stroke="#000" stroke-opacity="0.28" stroke-width="0.8" stroke-linecap="round"/>
<line x1="66.6" y1="237.7" x2="66.6" y2="282.5" stroke="#1a1a1a" stroke-width="1" stroke-linecap="butt"/>
<line x1="66.1" y1="282" x2="110.6" y2="282" stroke="#1a1a1a" stroke-width="1.2" stroke-linecap="butt"/>
<line x1="65" y1="282" x2="66.6" y2="282" stroke="#222" stroke-width="0.8" stroke-linecap="butt"/>
<line x1="65" y1="271.15" x2="66.6" y2="271.15" stroke="#222" stroke-width="0.8" stroke-linecap="butt"/>
<line x1="65" y1="260.3" x2="66.6" y2="260.3" stroke="#222" stroke-width="0.8" stroke-linecap="butt"/>
<line x1="65" y1="249.45" x2="66.6" y2="249.45" stroke="#222" stroke-width="0.8" stroke-linecap="butt"/>
<line x1="65" y1="238.6" x2="66.6" y2="238.6" stroke="#222" stroke-width="0.8" stroke-linecap="butt"/>
<line x1="68" y1="282" x2="68" y2="283.8" stroke="#222" stroke-width="0.8" stroke-linecap="butt"/>
<line x1="73.18" y1="282" x2="73.18" y2="283.1" stroke="#222" stroke-width="0.8" stroke-linecap="butt"/>
<line x1="78.36" y1="282" x2="78.36" y2="283.8" stroke="#222" stroke-width="0.8" stroke-linecap="butt"/>
<line x1="83.54" y1="282" x2="83.54" y2="283.1" stroke="#222" stroke-width="0.8" stroke-linecap="butt"/>
<line x1="88.72" y1="282" x2="88.72" y2="283.8" stroke="#222" stroke-width="0.8" stroke-linecap="butt"/>
<line x1="93.9" y1="282" x2="93.9" y2="283.1" stroke="#222" stroke-width="0.8" stroke-linecap="butt"/>
<line x1="99.08" y1="282" x2="99.08" y2="283.8" stroke="#222" stroke-width="0.8" stroke-linecap="butt"/>
<line x1="104.26" y1="282" x2="104.26" y2="283.1" stroke="#222" stroke-width="0.8" stroke-linecap="butt"/>
<line x1="109.44" y1="282" x2="109.44" y2="283.8" stroke="#222" stroke-width="0.8" stroke-linecap="butt"/>
<rect x="68.5" y="240.1" width="12.4" height="23.7" fill="none" stroke="#111" stroke-width="0.95"/>
<rect x="80.9" y="240.8" width="26.2" height="39.1" fill="none" stroke="#111" stroke-width="0.95"/>
<line x1="68.5" y1="263.8" x2="107.1" y2="263.8" stroke="#111" stroke-width="0.95" stroke-linecap="butt"/>
<text x="70.3" y="245" font-size="5.3" text-anchor="start" font-weight="normal" fill="#000" fill="#2a2a2a">Allo</text>
<text x="70.3" y="250.2" font-size="5.3" text-anchor="start" font-weight="normal" fill="#000" fill="#2a2a2a">97%</text>
<text x="106.6" y="272.7" font-size="5.3" text-anchor="end" font-weight="normal" fill="#000" fill="#2a2a2a">GFP</text>
<text x="106.6" y="278.1" font-size="5.3" text-anchor="end" font-weight="normal" fill="#000" fill="#2a2a2a">0.5%</text>
<rect x="331.7" y="237.7" width="44" height="44.3" fill="#959595" stroke="#666" stroke-width="0.7"/>
<rect x="332.3" y="240.8" width="39.7" height="41.2" fill="#fff"/>
<rect x="372.1" y="240.8" width="3.0" height="23" fill="#7c7c7c"/>
<ellipse cx="339.2" cy="253.7" rx="5.52" ry="4.6" fill="url(#gh)"/>
<ellipse cx="339.2" cy="253.7" rx="4.6" ry="3.4" fill="url(#gc)"/>
<path d="M335.58 252.4h.1M334.19 252.64h.1M337.3 251.86h.1M337.96 254.63h.1M338.75 256.15h.1M339.24 255.29h.1M339.87 253.19h.1M339.35 254.44h.1M338.15 253.15h.1M336.89 251.06h.1" stroke="#000" stroke-opacity="0.55" stroke-width="0.8" stroke-linecap="round"/>
<path d="M341.72 251.81h.1M340.44 252.19h.1M338.64 252.74h.1M335.55 251.6h.1M337.45 251.38h.1M339.83 254.78h.1M336.36 249.11h.1M339.53 259.25h.1M338.09 253.86h.1M339.31 253.81h.1M339.02 255.1h.1M336.17 250.73h.1M335.59 254.2h.1M344.08 251.61h.1M343.09 252.54h.1M337.69 252.34h.1M340.02 256.82h.1M343.29 253.82h.1M337.54 253.86h.1M343.38 254.31h.1M341.01 266.43h.1M350.16 274.61h.1M340.27 263.09h.1M353.2 254.86h.1M347.23 252.01h.1M354.49 266.22h.1" stroke="#000" stroke-opacity="0.28" stroke-width="0.8" stroke-linecap="round"/>
<line x1="331.7" y1="237.7" x2="331.7" y2="282.5" stroke="#1a1a1a" stroke-width="1" stroke-linecap="butt"/>
<line x1="331.2" y1="282" x2="375.7" y2="282" stroke="#1a1a1a" stroke-width="1.2" stroke-linecap="butt"/>
<line x1="330.1" y1="282" x2="331.7" y2="282" stroke="#222" stroke-width="0.8" stroke-linecap="butt"/>
<line x1="330.1" y1="271.15" x2="331.7" y2="271.15" stroke="#222" stroke-width="0.8" stroke-linecap="butt"/>
<line x1="330.1" y1="260.3" x2="331.7" y2="260.3" stroke="#222" stroke-width="0.8" stroke-linecap="butt"/>
<line x1="330.1" y1="249.45" x2="331.7" y2="249.45" stroke="#222" stroke-width="0.8" stroke-linecap="butt"/>
<line x1="330.1" y1="238.6" x2="331.7" y2="238.6" stroke="#222" stroke-width="0.8" stroke-linecap="butt"/>
<line x1="333.1" y1="282" x2="333.1" y2="283.8" stroke="#222" stroke-width="0.8" stroke-linecap="butt"/>
<line x1="338.28" y1="282" x2="338.28" y2="283.1" stroke="#222" stroke-width="0.8" stroke-linecap="butt"/>
<line x1="343.46" y1="282" x2="343.46" y2="283.8" stroke="#222" stroke-width="0.8" stroke-linecap="butt"/>
<line x1="348.64" y1="282" x2="348.64" y2="283.1" stroke="#222" stroke-width="0.8" stroke-linecap="butt"/>
<line x1="353.82" y1="282" x2="353.82" y2="283.8" stroke="#222" stroke-width="0.8" stroke-linecap="butt"/>
<line x1="359" y1="282" x2="359" y2="283.1" stroke="#222" stroke-width="0.8" stroke-linecap="butt"/>
<line x1="364.18" y1="282" x2="364.18" y2="283.8" stroke="#222" stroke-width="0.8" stroke-linecap="butt"/>
<line x1="369.36" y1="282" x2="369.36" y2="283.1" stroke="#222" stroke-width="0.8" stroke-linecap="butt"/>
<line x1="374.54" y1="282" x2="374.54" y2="283.8" stroke="#222" stroke-width="0.8" stroke-linecap="butt"/>
<rect x="333.6" y="240.1" width="12.4" height="23.7" fill="none" stroke="#111" stroke-width="0.95"/>
<rect x="346" y="240.8" width="26.2" height="39.1" fill="none" stroke="#111" stroke-width="0.95"/>
<line x1="333.6" y1="263.8" x2="372.2" y2="263.8" stroke="#111" stroke-width="0.95" stroke-linecap="butt"/>
<text x="335.4" y="245" font-size="5.3" text-anchor="start" font-weight="normal" fill="#000" fill="#2a2a2a">Allo</text>
<text x="335.4" y="250.2" font-size="5.3" text-anchor="start" font-weight="normal" fill="#000" fill="#2a2a2a">99%</text>
<text x="371.7" y="272.7" font-size="5.3" text-anchor="end" font-weight="normal" fill="#000" fill="#2a2a2a">GFP</text>
<text x="371.7" y="278.1" font-size="5.3" text-anchor="end" font-weight="normal" fill="#000" fill="#2a2a2a">0.7%</text>
<rect x="114" y="237.7" width="44" height="44.3" fill="#959595" stroke="#666" stroke-width="0.7"/>
<rect x="114.6" y="240.8" width="39.7" height="41.2" fill="#fff"/>
<rect x="154.4" y="240.8" width="3.0" height="23" fill="#7c7c7c"/>
<ellipse cx="121.9" cy="256.7" rx="4.83" ry="4.83" fill="url(#gh)"/>
<ellipse cx="121.9" cy="256.7" rx="4" ry="3.88" fill="url(#gc)"/>
<ellipse cx="120.11" cy="256.91" rx="2.2" ry="2.13" fill="url(#gc)"/>
<ellipse cx="120.99" cy="255.14" rx="2.2" ry="2.13" fill="url(#gc)"/>
<ellipse cx="120.59" cy="255.47" rx="2.2" ry="2.13" fill="url(#gc)"/>
<path d="M122.67 257.97h.1M119.98 257.09h.1M118.09 253.83h.1M123.17 259.03h.1M119.32 252.41h.1M123.82 258.15h.1M120.65 256.59h.1M123.77 255.92h.1M122.27 253.23h.1M122.16 255.25h.1M123.14 254.29h.1M121.87 254.44h.1M123.13 254.4h.1M120.08 256.83h.1M120.88 255.36h.1M121.59 251.88h.1M122.78 259.91h.1" stroke="#000" stroke-opacity="0.55" stroke-width="0.8" stroke-linecap="round"/>
<path d="M120.49 252.4h.1M117.74 260.13h.1M120.06 257.27h.1M121.88 257.47h.1M120.84 259.54h.1M117.87 254.42h.1M123.35 257.31h.1M121.7 256.73h.1M120.58 254.89h.1M121.64 259.44h.1M122.92 258.53h.1M122.31 257.38h.1M119.91 254.78h.1M118.68 256.38h.1M120.69 258.88h.1M122.51 256h.1M123.57 257.5h.1M121.44 257.21h.1M120.55 258.52h.1M122.23 255.05h.1M124.66 252.85h.1M120.07 260.55h.1M125.4 255.06h.1M123.7 255.32h.1M120.2 256.33h.1M121.55 258.24h.1M119.87 257.47h.1M124.36 257.7h.1M131.7 274.17h.1M118.63 278.43h.1M122.73 264.58h.1M140.76 263.54h.1M142.7 253.61h.1M124.36 267.44h.1" stroke="#000" stroke-opacity="0.28" stroke-width="0.8" stroke-linecap="round"/>
<line x1="114" y1="237.7" x2="114" y2="282.5" stroke="#1a1a1a" stroke-width="1" stroke-linecap="butt"/>
<line x1="113.5" y1="282" x2="158" y2="282" stroke="#1a1a1a" stroke-width="1.2" stroke-linecap="butt"/>
<line x1="112.4" y1="282" x2="114" y2="282" stroke="#222" stroke-width="0.8" stroke-linecap="butt"/>
<line x1="112.4" y1="271.15" x2="114" y2="271.15" stroke="#222" stroke-width="0.8" stroke-linecap="butt"/>
<line x1="112.4" y1="260.3" x2="114" y2="260.3" stroke="#222" stroke-width="0.8" stroke-linecap="butt"/>
<line x1="112.4" y1="249.45" x2="114" y2="249.45" stroke="#222" stroke-width="0.8" stroke-linecap="butt"/>
<line x1="112.4" y1="238.6" x2="114" y2="238.6" stroke="#222" stroke-width="0.8" stroke-linecap="butt"/>
<line x1="115.4" y1="282" x2="115.4" y2="283.8" stroke="#222" stroke-width="0.8" stroke-linecap="butt"/>
<line x1="120.58" y1="282" x2="120.58" y2="283.1" stroke="#222" stroke-width="0.8" stroke-linecap="butt"/>
<line x1="125.76" y1="282" x2="125.76" y2="283.8" stroke="#222" stroke-width="0.8" stroke-linecap="butt"/>
<line x1="130.94" y1="282" x2="130.94" y2="283.1" stroke="#222" stroke-width="0.8" stroke-linecap="butt"/>
<line x1="136.12" y1="282" x2="136.12" y2="283.8" stroke="#222" stroke-width="0.8" stroke-linecap="butt"/>
<line x1="141.3" y1="282" x2="141.3" y2="283.1" stroke="#222" stroke-width="0.8" stroke-linecap="butt"/>
<line x1="146.48" y1="282" x2="146.48" y2="283.8" stroke="#222" stroke-width="0.8" stroke-linecap="butt"/>
<line x1="151.66" y1="282" x2="151.66" y2="283.1" stroke="#222" stroke-width="0.8" stroke-linecap="butt"/>
<line x1="156.84" y1="282" x2="156.84" y2="283.8" stroke="#222" stroke-width="0.8" stroke-linecap="butt"/>
<rect x="115.9" y="240.1" width="12.4" height="23.7" fill="none" stroke="#111" stroke-width="0.95"/>
<rect x="128.3" y="240.8" width="26.2" height="39.1" fill="none" stroke="#111" stroke-width="0.95"/>
<line x1="115.9" y1="263.8" x2="154.5" y2="263.8" stroke="#111" stroke-width="0.95" stroke-linecap="butt"/>
<text x="117.7" y="245" font-size="5.3" text-anchor="start" font-weight="normal" fill="#000" fill="#2a2a2a">Allo</text>
<text x="117.7" y="250.2" font-size="5.3" text-anchor="start" font-weight="normal" fill="#000" fill="#2a2a2a">99%</text>
<text x="154" y="272.7" font-size="5.3" text-anchor="end" font-weight="normal" fill="#000" fill="#2a2a2a">GFP</text>
<text x="154" y="278.1" font-size="5.3" text-anchor="end" font-weight="normal" fill="#000" fill="#2a2a2a">0.2%</text>
<rect x="378.8" y="237.7" width="44" height="44.3" fill="#959595" stroke="#666" stroke-width="0.7"/>
<rect x="379.4" y="240.8" width="39.7" height="41.2" fill="#fff"/>
<rect x="419.2" y="240.8" width="3.0" height="23" fill="#7c7c7c"/>
<ellipse cx="386.5" cy="253.7" rx="5.52" ry="4.6" fill="url(#gh)"/>
<ellipse cx="386.5" cy="253.7" rx="4.6" ry="3.4" fill="url(#gc)"/>
<path d="M389.36 254.63h.1M383.1 253.31h.1M388.17 254.59h.1M386.72 252.53h.1M387.99 254.14h.1M387.17 253.9h.1M384.93 253.82h.1M384.22 252.09h.1M382.61 255.46h.1M391.71 255.95h.1M385.57 255.53h.1M387.2 253.08h.1M382.5 254.35h.1M382.4 251.54h.1M381.74 256.59h.1" stroke="#000" stroke-opacity="0.55" stroke-width="0.8" stroke-linecap="round"/>
<path d="M381.08 257.15h.1M390.8 254.76h.1M384.5 253.6h.1M385.37 252.98h.1M389.34 255.41h.1M391.03 252.11h.1M389.99 252.63h.1M390.55 251.05h.1M388.14 253.15h.1M386.24 255.2h.1M388.77 254.13h.1M386.28 254.93h.1M384 259.19h.1M385.99 251.77h.1M383.64 255.43h.1M391.89 264.05h.1M408.52 263.23h.1M387.93 274.39h.1M408.62 246.92h.1M394.85 243.26h.1M416.74 273.06h.1" stroke="#000" stroke-opacity="0.28" stroke-width="0.8" stroke-linecap="round"/>
<line x1="378.8" y1="237.7" x2="378.8" y2="282.5" stroke="#1a1a1a" stroke-width="1" stroke-linecap="butt"/>
<line x1="378.3" y1="282" x2="422.8" y2="282" stroke="#1a1a1a" stroke-width="1.2" stroke-linecap="butt"/>
<line x1="377.2" y1="282" x2="378.8" y2="282" stroke="#222" stroke-width="0.8" stroke-linecap="butt"/>
<line x1="377.2" y1="271.15" x2="378.8" y2="271.15" stroke="#222" stroke-width="0.8" stroke-linecap="butt"/>
<line x1="377.2" y1="260.3" x2="378.8" y2="260.3" stroke="#222" stroke-width="0.8" stroke-linecap="butt"/>
<line x1="377.2" y1="249.45" x2="378.8" y2="249.45" stroke="#222" stroke-width="0.8" stroke-linecap="butt"/>
<line x1="377.2" y1="238.6" x2="378.8" y2="238.6" stroke="#222" stroke-width="0.8" stroke-linecap="butt"/>
<line x1="380.2" y1="282" x2="380.2" y2="283.8" stroke="#222" stroke-width="0.8" stroke-linecap="butt"/>
<line x1="385.38" y1="282" x2="385.38" y2="283.1" stroke="#222" stroke-width="0.8" stroke-linecap="butt"/>
<line x1="390.56" y1="282" x2="390.56" y2="283.8" stroke="#222" stroke-width="0.8" stroke-linecap="butt"/>
<line x1="395.74" y1="282" x2="395.74" y2="283.1" stroke="#222" stroke-width="0.8" stroke-linecap="butt"/>
<line x1="400.92" y1="282" x2="400.92" y2="283.8" stroke="#222" stroke-width="0.8" stroke-linecap="butt"/>
<line x1="406.1" y1="282" x2="406.1" y2="283.1" stroke="#222" stroke-width="0.8" stroke-linecap="butt"/>
<line x1="411.28" y1="282" x2="411.28" y2="283.8" stroke="#222" stroke-width="0.8" stroke-linecap="butt"/>
<line x1="416.46" y1="282" x2="416.46" y2="283.1" stroke="#222" stroke-width="0.8" stroke-linecap="butt"/>
<line x1="421.64" y1="282" x2="421.64" y2="283.8" stroke="#222" stroke-width="0.8" stroke-linecap="butt"/>
<rect x="380.7" y="240.1" width="12.4" height="23.7" fill="none" stroke="#111" stroke-width="0.95"/>
<rect x="393.1" y="240.8" width="26.2" height="39.1" fill="none" stroke="#111" stroke-width="0.95"/>
<line x1="380.7" y1="263.8" x2="419.3" y2="263.8" stroke="#111" stroke-width="0.95" stroke-linecap="butt"/>
<text x="382.5" y="245" font-size="5.3" text-anchor="start" font-weight="normal" fill="#000" fill="#2a2a2a">Allo</text>
<text x="382.5" y="250.2" font-size="5.3" text-anchor="start" font-weight="normal" fill="#000" fill="#2a2a2a">97%</text>
<text x="418.8" y="272.7" font-size="5.3" text-anchor="end" font-weight="normal" fill="#000" fill="#2a2a2a">GFP</text>
<text x="418.8" y="278.1" font-size="5.3" text-anchor="end" font-weight="normal" fill="#000" fill="#2a2a2a">1%</text>
<rect x="161.4" y="237.7" width="44" height="44.3" fill="#959595" stroke="#666" stroke-width="0.7"/>
<rect x="162" y="240.8" width="39.7" height="41.2" fill="#fff"/>
<rect x="201.8" y="240.8" width="3.0" height="23" fill="#7c7c7c"/>
<ellipse cx="169.4" cy="257.5" rx="4.83" ry="4.83" fill="url(#gh)"/>
<ellipse cx="169.4" cy="257.5" rx="4" ry="3.88" fill="url(#gc)"/>
<ellipse cx="171.17" cy="257.84" rx="2.2" ry="2.13" fill="url(#gc)"/>
<ellipse cx="170.61" cy="256.17" rx="2.2" ry="2.13" fill="url(#gc)"/>
<ellipse cx="169.09" cy="255.73" rx="2.2" ry="2.13" fill="url(#gc)"/>
<path d="M172.04 257.8h.1M172.43 254.72h.1M167.4 256.08h.1M167.48 258.36h.1M172.65 256.49h.1M170.5 259.34h.1M170.55 260.5h.1M172.05 261.33h.1M168.54 257.66h.1M167.33 254.05h.1M171.47 259.98h.1M170.76 256.79h.1M170.2 254.76h.1M169.26 257.02h.1M167.01 258.82h.1M165.83 261.09h.1M164.74 259.2h.1M169.62 261.5h.1M168.16 262.95h.1M164.38 255.38h.1M165.02 258.82h.1M165.59 255.32h.1M169.71 259.41h.1M167.65 255.97h.1M169.03 257.07h.1M168.31 255.33h.1M171.21 256.75h.1M168.29 254.86h.1M169.4 257.66h.1" stroke="#000" stroke-opacity="0.55" stroke-width="0.8" stroke-linecap="round"/>
<path d="M166.1 261.91h.1M167.02 255.62h.1M170.83 260.48h.1M168.06 261.39h.1M168.05 260.05h.1M172.24 256.23h.1M166.28 254.33h.1M170.1 254.6h.1M169.49 255.06h.1M169.9 259.14h.1M168.15 257.28h.1M170.09 256.11h.1M171.21 255.21h.1M169.14 259.99h.1M168.87 257.18h.1M170.01 255.41h.1M200.18 270.46h.1M176.59 246.15h.1M197.92 248.33h.1M168.32 258.1h.1M173.34 252.56h.1M169.62 243.73h.1" stroke="#000" stroke-opacity="0.28" stroke-width="0.8" stroke-linecap="round"/>
<line x1="161.4" y1="237.7" x2="161.4" y2="282.5" stroke="#1a1a1a" stroke-width="1" stroke-linecap="butt"/>
<line x1="160.9" y1="282" x2="205.4" y2="282" stroke="#1a1a1a" stroke-width="1.2" stroke-linecap="butt"/>
<line x1="159.8" y1="282" x2="161.4" y2="282" stroke="#222" stroke-width="0.8" stroke-linecap="butt"/>
<line x1="159.8" y1="271.15" x2="161.4" y2="271.15" stroke="#222" stroke-width="0.8" stroke-linecap="butt"/>
<line x1="159.8" y1="260.3" x2="161.4" y2="260.3" stroke="#222" stroke-width="0.8" stroke-linecap="butt"/>
<line x1="159.8" y1="249.45" x2="161.4" y2="249.45" stroke="#222" stroke-width="0.8" stroke-linecap="butt"/>
<line x1="159.8" y1="238.6" x2="161.4" y2="238.6" stroke="#222" stroke-width="0.8" stroke-linecap="butt"/>
<line x1="162.8" y1="282" x2="162.8" y2="283.8" stroke="#222" stroke-width="0.8" stroke-linecap="butt"/>
<line x1="167.98" y1="282" x2="167.98" y2="283.1" stroke="#222" stroke-width="0.8" stroke-linecap="butt"/>
<line x1="173.16" y1="282" x2="173.16" y2="283.8" stroke="#222" stroke-width="0.8" stroke-linecap="butt"/>
<line x1="178.34" y1="282" x2="178.34" y2="283.1" stroke="#222" stroke-width="0.8" stroke-linecap="butt"/>
<line x1="183.52" y1="282" x2="183.52" y2="283.8" stroke="#222" stroke-width="0.8" stroke-linecap="butt"/>
<line x1="188.7" y1="282" x2="188.7" y2="283.1" stroke="#222" stroke-width="0.8" stroke-linecap="butt"/>
<line x1="193.88" y1="282" x2="193.88" y2="283.8" stroke="#222" stroke-width="0.8" stroke-linecap="butt"/>
<line x1="199.06" y1="282" x2="199.06" y2="283.1" stroke="#222" stroke-width="0.8" stroke-linecap="butt"/>
<line x1="204.24" y1="282" x2="204.24" y2="283.8" stroke="#222" stroke-width="0.8" stroke-linecap="butt"/>
<rect x="163.3" y="240.1" width="12.4" height="23.7" fill="none" stroke="#111" stroke-width="0.95"/>
<rect x="175.7" y="240.8" width="26.2" height="39.1" fill="none" stroke="#111" stroke-width="0.95"/>
<line x1="163.3" y1="263.8" x2="201.9" y2="263.8" stroke="#111" stroke-width="0.95" stroke-linecap="butt"/>
<text x="165.1" y="245" font-size="5.3" text-anchor="start" font-weight="normal" fill="#000" fill="#2a2a2a">Allo</text>
<text x="165.1" y="250.2" font-size="5.3" text-anchor="start" font-weight="normal" fill="#000" fill="#2a2a2a">98%</text>
<text x="201.4" y="272.7" font-size="5.3" text-anchor="end" font-weight="normal" fill="#000" fill="#2a2a2a">GFP</text>
<text x="201.4" y="278.1" font-size="5.3" text-anchor="end" font-weight="normal" fill="#000" fill="#2a2a2a">1%</text>
<rect x="425.9" y="237.7" width="44" height="44.3" fill="#959595" stroke="#666" stroke-width="0.7"/>
<rect x="426.5" y="240.8" width="39.7" height="41.2" fill="#fff"/>
<rect x="466.3" y="240.8" width="3.0" height="23" fill="#7c7c7c"/>
<ellipse cx="434.5" cy="253.7" rx="5.52" ry="4.6" fill="url(#gh)"/>
<ellipse cx="434.5" cy="253.7" rx="4.4" ry="3.4" fill="url(#gc)"/>
<ellipse cx="434.5" cy="263.7" rx="3.45" ry="6.9" fill="url(#gh)"/>
<ellipse cx="446.9" cy="258.7" rx="16.1" ry="4.6" fill="url(#gh)" transform="rotate(30 446.9 258.7)"/>
<path d="M435.48 254.85h.1M432.02 254.9h.1M432.83 255.69h.1M432.93 255.87h.1M434.29 251.97h.1M432.43 254.27h.1M433.02 255.19h.1M428.93 253.25h.1M434.37 256.45h.1M436.57 255.88h.1M432.77 253.28h.1M437.33 251.33h.1M433.06 252.43h.1M437.79 254.99h.1M436.68 251.32h.1M433.9 252.1h.1M434.31 251.22h.1M439.41 254.93h.1M434.36 255.16h.1M434.25 253.66h.1M433.39 250.4h.1M434.65 265.12h.1M434.39 266.38h.1M436.27 259.58h.1M433.72 267.22h.1M436.49 263.34h.1M450.07 260.37h.1M446.49 259.7h.1M436.9 253.28h.1M442.85 259.14h.1M450.38 259.61h.1M461.21 264.24h.1" stroke="#000" stroke-opacity="0.55" stroke-width="0.8" stroke-linecap="round"/>
<path d="M435.71 250.22h.1M432.73 252.9h.1M433.45 250.82h.1M437.6 256.25h.1M432.94 251.73h.1M432.63 252.34h.1M437.99 255.78h.1M433.63 254.01h.1M433.97 254.62h.1M433.23 266.32h.1M434.36 262.68h.1M435.89 266.5h.1M449.26 257.6h.1M444.8 256.72h.1M450.8 262.07h.1M437.31 248.25h.1M448.17 259.66h.1M457.58 262.8h.1M462.62 266.55h.1M433.5 254.57h.1M444.18 259.85h.1M455.02 253.17h.1M437.12 241.84h.1M440.68 242.45h.1" stroke="#000" stroke-opacity="0.28" stroke-width="0.8" stroke-linecap="round"/>
<line x1="425.9" y1="237.7" x2="425.9" y2="282.5" stroke="#1a1a1a" stroke-width="1" stroke-linecap="butt"/>
<line x1="425.4" y1="282" x2="469.9" y2="282" stroke="#1a1a1a" stroke-width="1.2" stroke-linecap="butt"/>
<line x1="424.3" y1="282" x2="425.9" y2="282" stroke="#222" stroke-width="0.8" stroke-linecap="butt"/>
<line x1="424.3" y1="271.15" x2="425.9" y2="271.15" stroke="#222" stroke-width="0.8" stroke-linecap="butt"/>
<line x1="424.3" y1="260.3" x2="425.9" y2="260.3" stroke="#222" stroke-width="0.8" stroke-linecap="butt"/>
<line x1="424.3" y1="249.45" x2="425.9" y2="249.45" stroke="#222" stroke-width="0.8" stroke-linecap="butt"/>
<line x1="424.3" y1="238.6" x2="425.9" y2="238.6" stroke="#222" stroke-width="0.8" stroke-linecap="butt"/>
<line x1="427.3" y1="282" x2="427.3" y2="283.8" stroke="#222" stroke-width="0.8" stroke-linecap="butt"/>
<line x1="432.48" y1="282" x2="432.48" y2="283.1" stroke="#222" stroke-width="0.8" stroke-linecap="butt"/>
<line x1="437.66" y1="282" x2="437.66" y2="283.8" stroke="#222" stroke-width="0.8" stroke-linecap="butt"/>
<line x1="442.84" y1="282" x2="442.84" y2="283.1" stroke="#222" stroke-width="0.8" stroke-linecap="butt"/>
<line x1="448.02" y1="282" x2="448.02" y2="283.8" stroke="#222" stroke-width="0.8" stroke-linecap="butt"/>
<line x1="453.2" y1="282" x2="453.2" y2="283.1" stroke="#222" stroke-width="0.8" stroke-linecap="butt"/>
<line x1="458.38" y1="282" x2="458.38" y2="283.8" stroke="#222" stroke-width="0.8" stroke-linecap="butt"/>
<line x1="463.56" y1="282" x2="463.56" y2="283.1" stroke="#222" stroke-width="0.8" stroke-linecap="butt"/>
<line x1="468.74" y1="282" x2="468.74" y2="283.8" stroke="#222" stroke-width="0.8" stroke-linecap="butt"/>
<rect x="427.8" y="240.1" width="12.4" height="23.7" fill="none" stroke="#111" stroke-width="0.95"/>
<rect x="440.2" y="240.8" width="26.2" height="39.1" fill="none" stroke="#111" stroke-width="0.95"/>
<line x1="427.8" y1="263.8" x2="466.4" y2="263.8" stroke="#111" stroke-width="0.95" stroke-linecap="butt"/>
<text x="429.6" y="245" font-size="5.3" text-anchor="start" font-weight="normal" fill="#000" fill="#2a2a2a">Allo</text>
<text x="429.6" y="250.2" font-size="5.3" text-anchor="start" font-weight="normal" fill="#000" fill="#2a2a2a">94%</text>
<text x="465.9" y="272.7" font-size="5.3" text-anchor="end" font-weight="normal" fill="#000" fill="#2a2a2a">GFP</text>
<text x="465.9" y="278.1" font-size="5.3" text-anchor="end" font-weight="normal" fill="#000" fill="#2a2a2a">7%</text>
<rect x="208.8" y="237.7" width="44" height="44.3" fill="#959595" stroke="#666" stroke-width="0.7"/>
<rect x="209.4" y="240.8" width="39.7" height="41.2" fill="#fff"/>
<rect x="249.2" y="240.8" width="3.0" height="23" fill="#7c7c7c"/>
<ellipse cx="216.9" cy="257.5" rx="4.83" ry="4.83" fill="url(#gh)"/>
<ellipse cx="216.9" cy="257.5" rx="4" ry="3.88" fill="url(#gc)"/>
<ellipse cx="217" cy="259.3" rx="2.2" ry="2.13" fill="url(#gc)"/>
<ellipse cx="218.37" cy="258.54" rx="2.2" ry="2.13" fill="url(#gc)"/>
<ellipse cx="215.99" cy="255.95" rx="2.2" ry="2.13" fill="url(#gc)"/>
<path d="M217.02 260.44h.1M220.02 257.12h.1M218.74 256.06h.1M216.96 251.92h.1M219.44 256.04h.1M217.76 257.07h.1M218.97 259.8h.1M216.04 257.61h.1M216.32 259.3h.1M218.56 258.44h.1M216.98 255.55h.1M216.16 257.89h.1M216.57 262.03h.1M216.55 257.53h.1M220.9 257h.1M215.37 258.12h.1M214.78 257.4h.1M219.15 257.34h.1M214.27 255.45h.1M218.28 258.81h.1M216.76 251.96h.1M214.35 258.55h.1" stroke="#000" stroke-opacity="0.55" stroke-width="0.8" stroke-linecap="round"/>
<path d="M220.59 259.06h.1M216.38 258.35h.1M214.01 260.59h.1M220.55 256.34h.1M216 259.04h.1M218.16 259.71h.1M217.14 258.35h.1M216.76 259.14h.1M218.47 249.68h.1M219.89 256.92h.1M215.48 257.16h.1M216.82 254.99h.1M219.19 262.3h.1M219.96 260.07h.1M217.86 255.45h.1M218.16 257.85h.1M215.55 257.36h.1M216.98 257.52h.1M220.17 254.95h.1M215.35 257.98h.1M216.14 256.32h.1M215.48 262.12h.1M219.55 255.2h.1M211.87 273.65h.1M217.96 266.32h.1M235.25 249.53h.1M237.8 244.81h.1M214.44 271.39h.1M222.74 261.31h.1" stroke="#000" stroke-opacity="0.28" stroke-width="0.8" stroke-linecap="round"/>
<line x1="208.8" y1="237.7" x2="208.8" y2="282.5" stroke="#1a1a1a" stroke-width="1" stroke-linecap="butt"/>
<line x1="208.3" y1="282" x2="252.8" y2="282" stroke="#1a1a1a" stroke-width="1.2" stroke-linecap="butt"/>
<line x1="207.2" y1="282" x2="208.8" y2="282" stroke="#222" stroke-width="0.8" stroke-linecap="butt"/>
<line x1="207.2" y1="271.15" x2="208.8" y2="271.15" stroke="#222" stroke-width="0.8" stroke-linecap="butt"/>
<line x1="207.2" y1="260.3" x2="208.8" y2="260.3" stroke="#222" stroke-width="0.8" stroke-linecap="butt"/>
<line x1="207.2" y1="249.45" x2="208.8" y2="249.45" stroke="#222" stroke-width="0.8" stroke-linecap="butt"/>
<line x1="207.2" y1="238.6" x2="208.8" y2="238.6" stroke="#222" stroke-width="0.8" stroke-linecap="butt"/>
<line x1="210.2" y1="282" x2="210.2" y2="283.8" stroke="#222" stroke-width="0.8" stroke-linecap="butt"/>
<line x1="215.38" y1="282" x2="215.38" y2="283.1" stroke="#222" stroke-width="0.8" stroke-linecap="butt"/>
<line x1="220.56" y1="282" x2="220.56" y2="283.8" stroke="#222" stroke-width="0.8" stroke-linecap="butt"/>
<line x1="225.74" y1="282" x2="225.74" y2="283.1" stroke="#222" stroke-width="0.8" stroke-linecap="butt"/>
<line x1="230.92" y1="282" x2="230.92" y2="283.8" stroke="#222" stroke-width="0.8" stroke-linecap="butt"/>
<line x1="236.1" y1="282" x2="236.1" y2="283.1" stroke="#222" stroke-width="0.8" stroke-linecap="butt"/>
<line x1="241.28" y1="282" x2="241.28" y2="283.8" stroke="#222" stroke-width="0.8" stroke-linecap="butt"/>
<line x1="246.46" y1="282" x2="246.46" y2="283.1" stroke="#222" stroke-width="0.8" stroke-linecap="butt"/>
<line x1="251.64" y1="282" x2="251.64" y2="283.8" stroke="#222" stroke-width="0.8" stroke-linecap="butt"/>
<rect x="210.7" y="240.1" width="12.4" height="23.7" fill="none" stroke="#111" stroke-width="0.95"/>
<rect x="223.1" y="240.8" width="26.2" height="39.1" fill="none" stroke="#111" stroke-width="0.95"/>
<line x1="210.7" y1="263.8" x2="249.3" y2="263.8" stroke="#111" stroke-width="0.95" stroke-linecap="butt"/>
<text x="212.5" y="245" font-size="5.3" text-anchor="start" font-weight="normal" fill="#000" fill="#2a2a2a">Allo</text>
<text x="212.5" y="250.2" font-size="5.3" text-anchor="start" font-weight="normal" fill="#000" fill="#2a2a2a">99%</text>
<text x="248.8" y="272.7" font-size="5.3" text-anchor="end" font-weight="normal" fill="#000" fill="#2a2a2a">GFP</text>
<text x="248.8" y="278.1" font-size="5.3" text-anchor="end" font-weight="normal" fill="#000" fill="#2a2a2a">0.9%</text>
<rect x="473" y="237.7" width="44" height="44.3" fill="#959595" stroke="#666" stroke-width="0.7"/>
<rect x="473.6" y="240.8" width="39.7" height="41.2" fill="#fff"/>
<rect x="513.4" y="240.8" width="3.0" height="23" fill="#7c7c7c"/>
<ellipse cx="481.5" cy="253.9" rx="5.52" ry="4.6" fill="url(#gh)"/>
<ellipse cx="481.5" cy="253.9" rx="4.5" ry="3.6" fill="url(#gc)"/>
<ellipse cx="479.49" cy="253.68" rx="2.48" ry="1.98" fill="url(#gc)"/>
<ellipse cx="480.26" cy="255.5" rx="2.48" ry="1.98" fill="url(#gc)"/>
<ellipse cx="480.88" cy="255.83" rx="2.48" ry="1.98" fill="url(#gc)"/>
<path d="M478.99 253.36h.1M484.68 252.47h.1M477.81 251.39h.1M483.66 256.27h.1M481.11 254h.1M479.84 253.87h.1M480.99 254.04h.1M482.11 253.45h.1M481.78 254.52h.1M477.4 252.39h.1M482.14 255.79h.1M481.15 256.67h.1M481.79 254.58h.1" stroke="#000" stroke-opacity="0.55" stroke-width="0.8" stroke-linecap="round"/>
<path d="M483.08 254.26h.1M477.36 252.79h.1M488.38 255.77h.1M478.97 251.64h.1M482.33 255.9h.1M484.74 253.13h.1M477.2 255.57h.1M484.06 253.63h.1M476.67 254.89h.1M478.31 257.18h.1M481.97 252.89h.1M480.48 252.18h.1M480.12 255.82h.1M483.89 251.54h.1M482.71 254.23h.1M483.08 253.57h.1M483.28 256.04h.1M498.14 261.4h.1M486.13 266.64h.1M487.29 258.48h.1M491.94 262.07h.1M510.33 243.64h.1M491.7 266.74h.1" stroke="#000" stroke-opacity="0.28" stroke-width="0.8" stroke-linecap="round"/>
<line x1="473" y1="237.7" x2="473" y2="282.5" stroke="#1a1a1a" stroke-width="1" stroke-linecap="butt"/>
<line x1="472.5" y1="282" x2="517" y2="282" stroke="#1a1a1a" stroke-width="1.2" stroke-linecap="butt"/>
<line x1="471.4" y1="282" x2="473" y2="282" stroke="#222" stroke-width="0.8" stroke-linecap="butt"/>
<line x1="471.4" y1="271.15" x2="473" y2="271.15" stroke="#222" stroke-width="0.8" stroke-linecap="butt"/>
<line x1="471.4" y1="260.3" x2="473" y2="260.3" stroke="#222" stroke-width="0.8" stroke-linecap="butt"/>
<line x1="471.4" y1="249.45" x2="473" y2="249.45" stroke="#222" stroke-width="0.8" stroke-linecap="butt"/>
<line x1="471.4" y1="238.6" x2="473" y2="238.6" stroke="#222" stroke-width="0.8" stroke-linecap="butt"/>
<line x1="474.4" y1="282" x2="474.4" y2="283.8" stroke="#222" stroke-width="0.8" stroke-linecap="butt"/>
<line x1="479.58" y1="282" x2="479.58" y2="283.1" stroke="#222" stroke-width="0.8" stroke-linecap="butt"/>
<line x1="484.76" y1="282" x2="484.76" y2="283.8" stroke="#222" stroke-width="0.8" stroke-linecap="butt"/>
<line x1="489.94" y1="282" x2="489.94" y2="283.1" stroke="#222" stroke-width="0.8" stroke-linecap="butt"/>
<line x1="495.12" y1="282" x2="495.12" y2="283.8" stroke="#222" stroke-width="0.8" stroke-linecap="butt"/>
<line x1="500.3" y1="282" x2="500.3" y2="283.1" stroke="#222" stroke-width="0.8" stroke-linecap="butt"/>
<line x1="505.48" y1="282" x2="505.48" y2="283.8" stroke="#222" stroke-width="0.8" stroke-linecap="butt"/>
<line x1="510.66" y1="282" x2="510.66" y2="283.1" stroke="#222" stroke-width="0.8" stroke-linecap="butt"/>
<line x1="515.84" y1="282" x2="515.84" y2="283.8" stroke="#222" stroke-width="0.8" stroke-linecap="butt"/>
<rect x="474.9" y="240.1" width="12.4" height="23.7" fill="none" stroke="#111" stroke-width="0.95"/>
<rect x="487.3" y="240.8" width="26.2" height="39.1" fill="none" stroke="#111" stroke-width="0.95"/>
<line x1="474.9" y1="263.8" x2="513.5" y2="263.8" stroke="#111" stroke-width="0.95" stroke-linecap="butt"/>
<text x="476.7" y="245" font-size="5.3" text-anchor="start" font-weight="normal" fill="#000" fill="#2a2a2a">Allo</text>
<text x="476.7" y="250.2" font-size="5.3" text-anchor="start" font-weight="normal" fill="#000" fill="#2a2a2a">99%</text>
<text x="513" y="272.7" font-size="5.3" text-anchor="end" font-weight="normal" fill="#000" fill="#2a2a2a">GFP</text>
<text x="513" y="278.1" font-size="5.3" text-anchor="end" font-weight="normal" fill="#000" fill="#2a2a2a">0.3%</text>
<rect x="19.2" y="300" width="44" height="44.3" fill="#959595" stroke="#666" stroke-width="0.7"/>
<rect x="19.8" y="303.1" width="39.7" height="41.2" fill="#fff"/>
<rect x="59.6" y="303.1" width="3.0" height="23" fill="#7c7c7c"/>
<ellipse cx="25.8" cy="320.5" rx="5.06" ry="14.95" fill="url(#gh)"/>
<ellipse cx="25.8" cy="320.5" rx="3" ry="3.4" fill="url(#gc)"/>
<ellipse cx="26.2" cy="333" rx="4.6" ry="9.2" fill="url(#gh)"/>
<ellipse cx="45.8" cy="331.4" rx="9.2" ry="7.82" fill="url(#gh)"/>
<ellipse cx="45.8" cy="331.4" rx="3" ry="2.8" fill="url(#gc)"/>
<path d="M29.08 326.76h.1M29.01 316.83h.1M27.05 324.36h.1M23.18 320.39h.1M29.46 327.83h.1M27.54 311.7h.1M27.83 321.64h.1M26.34 311.75h.1M23.26 324.54h.1M25.62 330.43h.1M23.2 317.85h.1M28.57 325.03h.1M30.69 330.9h.1M30.68 310.22h.1M29.07 328.25h.1M23 313.64h.1M24.58 322.56h.1M22.67 323.66h.1M28.23 321.18h.1M28.7 325.25h.1M26.13 308.99h.1M25.08 328.54h.1M27.55 329.48h.1M26.49 332.32h.1M25.11 322.21h.1M22.85 328.64h.1M25.31 329.25h.1M26.57 315.11h.1M26.52 336.39h.1M26.5 330.94h.1M28.19 330.17h.1M27.1 325.78h.1M26.6 332.26h.1M21.52 340.11h.1M25.74 327.68h.1M25.56 339.22h.1M23.58 335.95h.1M44.66 331.11h.1M50.01 333.25h.1M51.83 340.01h.1M33.15 330.72h.1M43.18 336.67h.1M44.5 329.62h.1M47.05 331.82h.1M42.49 333.68h.1M45.14 335h.1M44.09 336.53h.1M47.88 333.06h.1M41.1 333.84h.1M43.83 329.36h.1M51.06 333.26h.1M41.37 332.4h.1M44.03 335.65h.1M48.11 327.24h.1M43.17 333.67h.1M44.09 335.4h.1M47.65 336.31h.1M36.58 335.81h.1M44.55 336.95h.1M52.12 333.54h.1M53.87 327.87h.1M47.38 331.33h.1M42.58 333.99h.1" stroke="#000" stroke-opacity="0.55" stroke-width="0.8" stroke-linecap="round"/>
<path d="M24.38 320.11h.1M23.86 313.98h.1M25.79 326.22h.1M26.96 333.41h.1M22.83 328.32h.1M23.81 322.99h.1M27.95 320.27h.1M26.48 314.79h.1M24.5 327.47h.1M28.21 330.87h.1M22.85 325.7h.1M24.78 323.98h.1M26.87 331.96h.1M27.31 330.22h.1M25.74 310.36h.1M25.82 323.99h.1M24.9 309.9h.1M24.18 336.41h.1M25.81 337.95h.1M20.96 330.06h.1M25.41 329.29h.1M23.91 335.29h.1M25.53 325.18h.1M47.1 326.16h.1M50.38 331.67h.1M40.38 330.39h.1M45.69 329.54h.1M42.79 324.42h.1M46.2 329.03h.1M41.55 331.97h.1M52.4 335.35h.1M41.87 336.38h.1M53.65 329.75h.1M41.87 331.72h.1M43.64 325.27h.1M48.35 332.67h.1M41.33 338.06h.1M42.28 336.27h.1M44 335.45h.1M43.46 324.34h.1M44.18 330.56h.1M37.79 324.84h.1M47.76 332.76h.1M50.68 337.37h.1M48.06 337.31h.1M46.36 330.83h.1M44.45 334.68h.1M41.78 330.09h.1M49.97 334.06h.1M50.69 332.43h.1M48.86 330.85h.1M39.16 334.54h.1M50.13 339.55h.1M33.14 330.68h.1M40.95 327.29h.1M54.89 312.33h.1M41.79 333.24h.1M36.03 339.09h.1" stroke="#000" stroke-opacity="0.28" stroke-width="0.8" stroke-linecap="round"/>
<line x1="19.2" y1="300" x2="19.2" y2="344.8" stroke="#1a1a1a" stroke-width="1" stroke-linecap="butt"/>
<line x1="18.7" y1="344.3" x2="63.2" y2="344.3" stroke="#1a1a1a" stroke-width="1.2" stroke-linecap="butt"/>
<line x1="17.6" y1="344.3" x2="19.2" y2="344.3" stroke="#222" stroke-width="0.8" stroke-linecap="butt"/>
<line x1="17.6" y1="333.45" x2="19.2" y2="333.45" stroke="#222" stroke-width="0.8" stroke-linecap="butt"/>
<line x1="17.6" y1="322.6" x2="19.2" y2="322.6" stroke="#222" stroke-width="0.8" stroke-linecap="butt"/>
<line x1="17.6" y1="311.75" x2="19.2" y2="311.75" stroke="#222" stroke-width="0.8" stroke-linecap="butt"/>
<line x1="17.6" y1="300.9" x2="19.2" y2="300.9" stroke="#222" stroke-width="0.8" stroke-linecap="butt"/>
<line x1="20.6" y1="344.3" x2="20.6" y2="346.1" stroke="#222" stroke-width="0.8" stroke-linecap="butt"/>
<line x1="25.78" y1="344.3" x2="25.78" y2="345.4" stroke="#222" stroke-width="0.8" stroke-linecap="butt"/>
<line x1="30.96" y1="344.3" x2="30.96" y2="346.1" stroke="#222" stroke-width="0.8" stroke-linecap="butt"/>
<line x1="36.14" y1="344.3" x2="36.14" y2="345.4" stroke="#222" stroke-width="0.8" stroke-linecap="butt"/>
<line x1="41.32" y1="344.3" x2="41.32" y2="346.1" stroke="#222" stroke-width="0.8" stroke-linecap="butt"/>
<line x1="46.5" y1="344.3" x2="46.5" y2="345.4" stroke="#222" stroke-width="0.8" stroke-linecap="butt"/>
<line x1="51.68" y1="344.3" x2="51.68" y2="346.1" stroke="#222" stroke-width="0.8" stroke-linecap="butt"/>
<line x1="56.86" y1="344.3" x2="56.86" y2="345.4" stroke="#222" stroke-width="0.8" stroke-linecap="butt"/>
<line x1="62.04" y1="344.3" x2="62.04" y2="346.1" stroke="#222" stroke-width="0.8" stroke-linecap="butt"/>
<rect x="21.1" y="302.4" width="12.4" height="23.7" fill="none" stroke="#111" stroke-width="0.95"/>
<rect x="33.5" y="303.1" width="26.2" height="39.1" fill="none" stroke="#111" stroke-width="0.95"/>
<line x1="21.1" y1="326.1" x2="59.7" y2="326.1" stroke="#111" stroke-width="0.95" stroke-linecap="butt"/>
<text x="22.9" y="307.3" font-size="5.3" text-anchor="start" font-weight="normal" fill="#000" fill="#2a2a2a">Allo</text>
<text x="22.9" y="312.5" font-size="5.3" text-anchor="start" font-weight="normal" fill="#000" fill="#2a2a2a">29%</text>
<text x="59.2" y="335" font-size="5.3" text-anchor="end" font-weight="normal" fill="#000" fill="#2a2a2a">GFP</text>
<text x="59.2" y="340.4" font-size="5.3" text-anchor="end" font-weight="normal" fill="#000" fill="#2a2a2a">46%</text>
<text x="15.3" y="346.6" font-size="6.6" text-anchor="middle" font-weight="bold" fill="#111" >0</text>
<text x="15.3" y="335.75" font-size="6.6" text-anchor="middle" font-weight="bold" fill="#111" >1</text>
<text x="15.3" y="324.9" font-size="6.6" text-anchor="middle" font-weight="bold" fill="#111" >2</text>
<text x="15.3" y="314.05" font-size="6.6" text-anchor="middle" font-weight="bold" fill="#111" >3</text>
<text x="15.3" y="303.2" font-size="6.6" text-anchor="middle" font-weight="bold" fill="#111" >4</text>
<text x="20.6" y="350.8" font-size="6.7" text-anchor="middle" font-weight="bold" fill="#111" >0</text>
<text x="30.96" y="350.8" font-size="6.7" text-anchor="middle" font-weight="bold" fill="#111" >1</text>
<text x="41.32" y="350.8" font-size="6.7" text-anchor="middle" font-weight="bold" fill="#111" >2</text>
<text x="51.68" y="350.8" font-size="6.7" text-anchor="middle" font-weight="bold" fill="#111" >3</text>
<text x="62.04" y="350.8" font-size="6.7" text-anchor="middle" font-weight="bold" fill="#111" >4</text>
<rect x="284.6" y="300" width="44" height="44.3" fill="#959595" stroke="#666" stroke-width="0.7"/>
<rect x="285.2" y="303.1" width="39.7" height="41.2" fill="#fff"/>
<rect x="325" y="303.1" width="3.0" height="23" fill="#7c7c7c"/>
<ellipse cx="292.4" cy="314.8" rx="5.98" ry="4.14" fill="url(#gh)"/>
<ellipse cx="292.4" cy="314.8" rx="4.4" ry="2.8" fill="url(#gc)"/>
<ellipse cx="293.6" cy="326" rx="3.68" ry="9.2" fill="url(#gh)"/>
<path d="M292.37 313.49h.1M291.97 316.6h.1M290.39 315.9h.1M289.09 313.45h.1M291.49 312.69h.1M296.54 314.76h.1M290.48 317.46h.1M292.9 315.57h.1M296.07 312.64h.1M289.9 316.57h.1M291.75 317.32h.1M292.58 312.38h.1M293.16 312.3h.1M293.26 314.53h.1M292.27 314.07h.1M294.1 313.97h.1M291.73 312.41h.1M293.8 314.21h.1M291.65 316.11h.1M293.58 313.77h.1M288.37 318.83h.1M289.74 319h.1M294.16 310.86h.1M293.82 313.99h.1M292.65 332.32h.1M296.35 322.4h.1M292.26 322.74h.1M293.69 321.24h.1M293.39 326.39h.1M292.86 321.62h.1M293.73 329.43h.1" stroke="#000" stroke-opacity="0.55" stroke-width="0.8" stroke-linecap="round"/>
<path d="M291.93 313.52h.1M291.95 315.49h.1M289.13 313.49h.1M288.96 314.55h.1M289.37 313.57h.1M292.27 315.4h.1M293.68 321.23h.1M290.89 326.47h.1M291.94 326.19h.1M293.14 321.26h.1M294.79 324.97h.1M294.74 341.96h.1M318.46 306.05h.1M321.31 331.26h.1M314.03 315.04h.1M302.82 317.7h.1M290.6 318.39h.1" stroke="#000" stroke-opacity="0.28" stroke-width="0.8" stroke-linecap="round"/>
<line x1="284.6" y1="300" x2="284.6" y2="344.8" stroke="#1a1a1a" stroke-width="1" stroke-linecap="butt"/>
<line x1="284.1" y1="344.3" x2="328.6" y2="344.3" stroke="#1a1a1a" stroke-width="1.2" stroke-linecap="butt"/>
<line x1="283" y1="344.3" x2="284.6" y2="344.3" stroke="#222" stroke-width="0.8" stroke-linecap="butt"/>
<line x1="283" y1="333.45" x2="284.6" y2="333.45" stroke="#222" stroke-width="0.8" stroke-linecap="butt"/>
<line x1="283" y1="322.6" x2="284.6" y2="322.6" stroke="#222" stroke-width="0.8" stroke-linecap="butt"/>
<line x1="283" y1="311.75" x2="284.6" y2="311.75" stroke="#222" stroke-width="0.8" stroke-linecap="butt"/>
<line x1="283" y1="300.9" x2="284.6" y2="300.9" stroke="#222" stroke-width="0.8" stroke-linecap="butt"/>
<line x1="286" y1="344.3" x2="286" y2="346.1" stroke="#222" stroke-width="0.8" stroke-linecap="butt"/>
<line x1="291.18" y1="344.3" x2="291.18" y2="345.4" stroke="#222" stroke-width="0.8" stroke-linecap="butt"/>
<line x1="296.36" y1="344.3" x2="296.36" y2="346.1" stroke="#222" stroke-width="0.8" stroke-linecap="butt"/>
<line x1="301.54" y1="344.3" x2="301.54" y2="345.4" stroke="#222" stroke-width="0.8" stroke-linecap="butt"/>
<line x1="306.72" y1="344.3" x2="306.72" y2="346.1" stroke="#222" stroke-width="0.8" stroke-linecap="butt"/>
<line x1="311.9" y1="344.3" x2="311.9" y2="345.4" stroke="#222" stroke-width="0.8" stroke-linecap="butt"/>
<line x1="317.08" y1="344.3" x2="317.08" y2="346.1" stroke="#222" stroke-width="0.8" stroke-linecap="butt"/>
<line x1="322.26" y1="344.3" x2="322.26" y2="345.4" stroke="#222" stroke-width="0.8" stroke-linecap="butt"/>
<line x1="327.44" y1="344.3" x2="327.44" y2="346.1" stroke="#222" stroke-width="0.8" stroke-linecap="butt"/>
<rect x="286.5" y="302.4" width="12.4" height="23.7" fill="none" stroke="#111" stroke-width="0.95"/>
<rect x="298.9" y="303.1" width="26.2" height="39.1" fill="none" stroke="#111" stroke-width="0.95"/>
<line x1="286.5" y1="326.1" x2="325.1" y2="326.1" stroke="#111" stroke-width="0.95" stroke-linecap="butt"/>
<text x="288.3" y="307.3" font-size="5.3" text-anchor="start" font-weight="normal" fill="#000" fill="#2a2a2a">Allo</text>
<text x="288.3" y="312.5" font-size="5.3" text-anchor="start" font-weight="normal" fill="#000" fill="#2a2a2a">90%</text>
<text x="324.6" y="335" font-size="5.3" text-anchor="end" font-weight="normal" fill="#000" fill="#2a2a2a">GFP</text>
<text x="324.6" y="340.4" font-size="5.3" text-anchor="end" font-weight="normal" fill="#000" fill="#2a2a2a">1%</text>
<text x="280.7" y="346.6" font-size="6.6" text-anchor="middle" font-weight="bold" fill="#111" >0</text>
<text x="280.7" y="335.75" font-size="6.6" text-anchor="middle" font-weight="bold" fill="#111" >1</text>
<text x="280.7" y="324.9" font-size="6.6" text-anchor="middle" font-weight="bold" fill="#111" >2</text>
<text x="280.7" y="314.05" font-size="6.6" text-anchor="middle" font-weight="bold" fill="#111" >3</text>
<text x="280.7" y="303.2" font-size="6.6" text-anchor="middle" font-weight="bold" fill="#111" >4</text>
<text x="286" y="350.8" font-size="6.7" text-anchor="middle" font-weight="bold" fill="#111" >0</text>
<text x="296.36" y="350.8" font-size="6.7" text-anchor="middle" font-weight="bold" fill="#111" >1</text>
<text x="306.72" y="350.8" font-size="6.7" text-anchor="middle" font-weight="bold" fill="#111" >2</text>
<text x="317.08" y="350.8" font-size="6.7" text-anchor="middle" font-weight="bold" fill="#111" >3</text>
<text x="327.44" y="350.8" font-size="6.7" text-anchor="middle" font-weight="bold" fill="#111" >4</text>
<rect x="66.6" y="300" width="44" height="44.3" fill="#959595" stroke="#666" stroke-width="0.7"/>
<rect x="67.2" y="303.1" width="39.7" height="41.2" fill="#fff"/>
<rect x="107" y="303.1" width="3.0" height="23" fill="#7c7c7c"/>
<ellipse cx="74.2" cy="318" rx="5.06" ry="12.65" fill="url(#gh)"/>
<ellipse cx="74.2" cy="318" rx="2.4" ry="2.5" fill="url(#gc)"/>
<ellipse cx="74.6" cy="332" rx="5.06" ry="9.2" fill="url(#gh)"/>
<ellipse cx="94.1" cy="330.5" rx="13.8" ry="8.28" fill="url(#gh)"/>
<path d="M76.69 321.8h.1M74.25 311.98h.1M72.86 322.78h.1M75 322.42h.1M75.41 321.93h.1M73.79 306.05h.1M77.03 326.18h.1M77.67 318.3h.1M74.65 314.71h.1M70.77 313.15h.1M72.75 315.56h.1M72.33 322.43h.1M73.88 314.96h.1M76.24 316.62h.1M74.96 322.01h.1M72.64 315.89h.1M77.82 315.37h.1M73.52 317.79h.1M74.29 326.8h.1M75.33 329.21h.1M76.88 333.38h.1M75 326.76h.1M74.09 333.47h.1M71.3 329.08h.1M73.67 333.33h.1M72.69 335.49h.1M72.44 335.26h.1M74.85 331.39h.1M74.54 331.52h.1M103.96 338.38h.1M94.26 332.79h.1M90.69 329.08h.1M98.15 325.99h.1M92.31 329.21h.1M96.2 337.08h.1M102.73 330.6h.1M80.51 329.01h.1M94.09 330.5h.1M100.38 328.58h.1M98.13 333.39h.1M93.84 331.61h.1M95.51 332.92h.1M88.1 324.42h.1M98.08 327.38h.1M99.25 332.26h.1M81.46 329.22h.1M97.82 332.82h.1M94.05 338.21h.1M85.01 332.81h.1" stroke="#000" stroke-opacity="0.55" stroke-width="0.8" stroke-linecap="round"/>
<path d="M76.81 314.12h.1M75.87 316.29h.1M71.28 321.88h.1M75.25 310.98h.1M76.5 318.89h.1M77.13 314.93h.1M74.05 325.07h.1M74.95 327.01h.1M71.32 318.34h.1M74.59 321.35h.1M75.53 313.96h.1M75.33 307.43h.1M71.82 320.48h.1M74.23 315.71h.1M77.35 320.4h.1M74.76 316.46h.1M74 327.35h.1M74.57 303.51h.1M70.79 314.58h.1M73.69 308.21h.1M77.44 318.33h.1M75.64 330.45h.1M75.79 332.29h.1M93.53 321.14h.1M98.63 327.94h.1M95.44 330.28h.1M92.07 334.18h.1M81.63 333.63h.1M92.15 327.56h.1M92.68 326.97h.1M102.18 327.51h.1M93.72 332h.1M98.49 335.98h.1M87.21 329.13h.1M94.39 331.88h.1M86.7 335.63h.1M94.78 333.2h.1M92.35 331.54h.1M104.54 324.74h.1M106.13 329.72h.1M93.98 329.81h.1M95.24 329.89h.1M82.34 328.19h.1M92 329.57h.1M95.44 330.83h.1M91.61 329.97h.1M93.69 333.01h.1M97.43 309.98h.1M95.92 308.83h.1M106.3 307.94h.1M92.89 306.13h.1M69.59 336.74h.1M105.32 305.21h.1" stroke="#000" stroke-opacity="0.28" stroke-width="0.8" stroke-linecap="round"/>
<line x1="66.6" y1="300" x2="66.6" y2="344.8" stroke="#1a1a1a" stroke-width="1" stroke-linecap="butt"/>
<line x1="66.1" y1="344.3" x2="110.6" y2="344.3" stroke="#1a1a1a" stroke-width="1.2" stroke-linecap="butt"/>
<line x1="65" y1="344.3" x2="66.6" y2="344.3" stroke="#222" stroke-width="0.8" stroke-linecap="butt"/>
<line x1="65" y1="333.45" x2="66.6" y2="333.45" stroke="#222" stroke-width="0.8" stroke-linecap="butt"/>
<line x1="65" y1="322.6" x2="66.6" y2="322.6" stroke="#222" stroke-width="0.8" stroke-linecap="butt"/>
<line x1="65" y1="311.75" x2="66.6" y2="311.75" stroke="#222" stroke-width="0.8" stroke-linecap="butt"/>
<line x1="65" y1="300.9" x2="66.6" y2="300.9" stroke="#222" stroke-width="0.8" stroke-linecap="butt"/>
<line x1="68" y1="344.3" x2="68" y2="346.1" stroke="#222" stroke-width="0.8" stroke-linecap="butt"/>
<line x1="73.18" y1="344.3" x2="73.18" y2="345.4" stroke="#222" stroke-width="0.8" stroke-linecap="butt"/>
<line x1="78.36" y1="344.3" x2="78.36" y2="346.1" stroke="#222" stroke-width="0.8" stroke-linecap="butt"/>
<line x1="83.54" y1="344.3" x2="83.54" y2="345.4" stroke="#222" stroke-width="0.8" stroke-linecap="butt"/>
<line x1="88.72" y1="344.3" x2="88.72" y2="346.1" stroke="#222" stroke-width="0.8" stroke-linecap="butt"/>
<line x1="93.9" y1="344.3" x2="93.9" y2="345.4" stroke="#222" stroke-width="0.8" stroke-linecap="butt"/>
<line x1="99.08" y1="344.3" x2="99.08" y2="346.1" stroke="#222" stroke-width="0.8" stroke-linecap="butt"/>
<line x1="104.26" y1="344.3" x2="104.26" y2="345.4" stroke="#222" stroke-width="0.8" stroke-linecap="butt"/>
<line x1="109.44" y1="344.3" x2="109.44" y2="346.1" stroke="#222" stroke-width="0.8" stroke-linecap="butt"/>
<rect x="68.5" y="302.4" width="12.4" height="23.7" fill="none" stroke="#111" stroke-width="0.95"/>
<rect x="80.9" y="303.1" width="26.2" height="39.1" fill="none" stroke="#111" stroke-width="0.95"/>
<line x1="68.5" y1="326.1" x2="107.1" y2="326.1" stroke="#111" stroke-width="0.95" stroke-linecap="butt"/>
<text x="70.3" y="307.3" font-size="5.3" text-anchor="start" font-weight="normal" fill="#000" fill="#2a2a2a">Allo</text>
<text x="70.3" y="312.5" font-size="5.3" text-anchor="start" font-weight="normal" fill="#000" fill="#2a2a2a">48%</text>
<text x="106.6" y="335" font-size="5.3" text-anchor="end" font-weight="normal" fill="#000" fill="#2a2a2a">GFP</text>
<text x="106.6" y="340.4" font-size="5.3" text-anchor="end" font-weight="normal" fill="#000" fill="#2a2a2a">43%</text>
<text x="68" y="350.8" font-size="6.7" text-anchor="middle" font-weight="bold" fill="#111" >0</text>
<text x="78.36" y="350.8" font-size="6.7" text-anchor="middle" font-weight="bold" fill="#111" >1</text>
<text x="88.72" y="350.8" font-size="6.7" text-anchor="middle" font-weight="bold" fill="#111" >2</text>
<text x="99.08" y="350.8" font-size="6.7" text-anchor="middle" font-weight="bold" fill="#111" >3</text>
<text x="109.44" y="350.8" font-size="6.7" text-anchor="middle" font-weight="bold" fill="#111" >4</text>
<rect x="331.7" y="300" width="44" height="44.3" fill="#959595" stroke="#666" stroke-width="0.7"/>
<rect x="332.3" y="303.1" width="39.7" height="41.2" fill="#fff"/>
<rect x="372.1" y="303.1" width="3.0" height="23" fill="#7c7c7c"/>
<ellipse cx="339.2" cy="314.8" rx="5.52" ry="4.14" fill="url(#gh)"/>
<ellipse cx="339.2" cy="314.8" rx="4.6" ry="3" fill="url(#gc)"/>
<ellipse cx="348.7" cy="315.5" rx="6.9" ry="3.45" fill="url(#gh)"/>
<ellipse cx="348.7" cy="315.5" rx="2.8" ry="1.4" fill="url(#gc)"/>
<ellipse cx="353.7" cy="321" rx="9.2" ry="6.9" fill="url(#gh)"/>
<path d="M339.23 315.6h.1M339.13 315.93h.1M341.21 311h.1M335.94 318.23h.1M341.53 313.49h.1M340.29 312.52h.1M345 316.3h.1M337.72 313.53h.1M336.85 312.26h.1M341.68 313.81h.1M338.04 315.61h.1M337.85 314.18h.1M335.78 315.03h.1M340.26 318.74h.1M347.31 315.09h.1M349.04 314.04h.1M348.51 319.05h.1M347.44 317.46h.1M347.7 317.01h.1M350.19 317.04h.1M349.25 316.55h.1M354.07 323.03h.1M354.6 319.33h.1M354.26 322.46h.1M357.57 324.74h.1M355.16 318.97h.1M354.9 323.93h.1M358.56 324.38h.1M355.69 318.22h.1M357.9 322.97h.1M358.27 321.93h.1M354.23 325.45h.1" stroke="#000" stroke-opacity="0.55" stroke-width="0.8" stroke-linecap="round"/>
<path d="M339.96 313.62h.1M337.59 316.36h.1M343.56 316.21h.1M339.28 312.32h.1M338.57 314.08h.1M340.45 311.35h.1M338.68 316.17h.1M339.36 315.29h.1M340.39 316.79h.1M339.61 314.17h.1M344.81 315.51h.1M339.36 315.04h.1M337.46 315.13h.1M337.12 314.36h.1M334.98 317.54h.1M338.54 312.92h.1M347.72 315.28h.1M348.25 318.03h.1M347.63 315.77h.1M350.51 317.36h.1M349.03 313.42h.1M345.88 317.14h.1M348.24 315.82h.1M349.39 318.18h.1M347.41 318.67h.1M351 315.23h.1M344.34 316.42h.1M349.76 315.37h.1M346.6 314.43h.1M343.76 315.92h.1M347.41 313.27h.1M346.99 315.09h.1M348.44 315.22h.1M348.96 314.54h.1M357.4 320.52h.1M361.63 323.49h.1M353.99 319.55h.1M351.75 326.98h.1M350.9 322.17h.1M362.37 308.2h.1M336.68 330.27h.1M363.9 313.26h.1M343.8 316.09h.1M344.4 333.04h.1M348.97 334.94h.1" stroke="#000" stroke-opacity="0.28" stroke-width="0.8" stroke-linecap="round"/>
<line x1="331.7" y1="300" x2="331.7" y2="344.8" stroke="#1a1a1a" stroke-width="1" stroke-linecap="butt"/>
<line x1="331.2" y1="344.3" x2="375.7" y2="344.3" stroke="#1a1a1a" stroke-width="1.2" stroke-linecap="butt"/>
<line x1="330.1" y1="344.3" x2="331.7" y2="344.3" stroke="#222" stroke-width="0.8" stroke-linecap="butt"/>
<line x1="330.1" y1="333.45" x2="331.7" y2="333.45" stroke="#222" stroke-width="0.8" stroke-linecap="butt"/>
<line x1="330.1" y1="322.6" x2="331.7" y2="322.6" stroke="#222" stroke-width="0.8" stroke-linecap="butt"/>
<line x1="330.1" y1="311.75" x2="331.7" y2="311.75" stroke="#222" stroke-width="0.8" stroke-linecap="butt"/>
<line x1="330.1" y1="300.9" x2="331.7" y2="300.9" stroke="#222" stroke-width="0.8" stroke-linecap="butt"/>
<line x1="333.1" y1="344.3" x2="333.1" y2="346.1" stroke="#222" stroke-width="0.8" stroke-linecap="butt"/>
<line x1="338.28" y1="344.3" x2="338.28" y2="345.4" stroke="#222" stroke-width="0.8" stroke-linecap="butt"/>
<line x1="343.46" y1="344.3" x2="343.46" y2="346.1" stroke="#222" stroke-width="0.8" stroke-linecap="butt"/>
<line x1="348.64" y1="344.3" x2="348.64" y2="345.4" stroke="#222" stroke-width="0.8" stroke-linecap="butt"/>
<line x1="353.82" y1="344.3" x2="353.82" y2="346.1" stroke="#222" stroke-width="0.8" stroke-linecap="butt"/>
<line x1="359" y1="344.3" x2="359" y2="345.4" stroke="#222" stroke-width="0.8" stroke-linecap="butt"/>
<line x1="364.18" y1="344.3" x2="364.18" y2="346.1" stroke="#222" stroke-width="0.8" stroke-linecap="butt"/>
<line x1="369.36" y1="344.3" x2="369.36" y2="345.4" stroke="#222" stroke-width="0.8" stroke-linecap="butt"/>
<line x1="374.54" y1="344.3" x2="374.54" y2="346.1" stroke="#222" stroke-width="0.8" stroke-linecap="butt"/>
<rect x="333.6" y="302.4" width="12.4" height="23.7" fill="none" stroke="#111" stroke-width="0.95"/>
<rect x="346" y="303.1" width="26.2" height="39.1" fill="none" stroke="#111" stroke-width="0.95"/>
<line x1="333.6" y1="326.1" x2="372.2" y2="326.1" stroke="#111" stroke-width="0.95" stroke-linecap="butt"/>
<text x="335.4" y="307.3" font-size="5.3" text-anchor="start" font-weight="normal" fill="#000" fill="#2a2a2a">Allo</text>
<text x="335.4" y="312.5" font-size="5.3" text-anchor="start" font-weight="normal" fill="#000" fill="#2a2a2a">65%</text>
<text x="371.7" y="335" font-size="5.3" text-anchor="end" font-weight="normal" fill="#000" fill="#2a2a2a">GFP</text>
<text x="371.7" y="340.4" font-size="5.3" text-anchor="end" font-weight="normal" fill="#000" fill="#2a2a2a">31%</text>
<text x="333.1" y="350.8" font-size="6.7" text-anchor="middle" font-weight="bold" fill="#111" >0</text>
<text x="343.46" y="350.8" font-size="6.7" text-anchor="middle" font-weight="bold" fill="#111" >1</text>
<text x="353.82" y="350.8" font-size="6.7" text-anchor="middle" font-weight="bold" fill="#111" >2</text>
<text x="364.18" y="350.8" font-size="6.7" text-anchor="middle" font-weight="bold" fill="#111" >3</text>
<text x="374.54" y="350.8" font-size="6.7" text-anchor="middle" font-weight="bold" fill="#111" >4</text>
<rect x="114" y="300" width="44" height="44.3" fill="#959595" stroke="#666" stroke-width="0.7"/>
<rect x="114.6" y="303.1" width="39.7" height="41.2" fill="#fff"/>
<rect x="154.4" y="303.1" width="3.0" height="23" fill="#7c7c7c"/>
<ellipse cx="122.9" cy="315.8" rx="5.98" ry="5.98" fill="url(#gh)"/>
<ellipse cx="122.9" cy="315.8" rx="3.8" ry="3.6" fill="url(#gc)"/>
<ellipse cx="121.19" cy="315.69" rx="2.09" ry="1.98" fill="url(#gc)"/>
<ellipse cx="121.5" cy="314.82" rx="2.09" ry="1.98" fill="url(#gc)"/>
<ellipse cx="122.35" cy="317.42" rx="2.09" ry="1.98" fill="url(#gc)"/>
<ellipse cx="122.5" cy="330" rx="5.06" ry="10.35" fill="url(#gh)"/>
<ellipse cx="135.5" cy="325" rx="10.35" ry="10.35" fill="url(#gh)"/>
<path d="M121.87 315.12h.1M126.17 315.18h.1M121.9 314.76h.1M123.44 312.91h.1M126.01 315.28h.1M125.95 317.52h.1M117.89 314.53h.1M126.82 315.24h.1M127.97 316.23h.1M121.98 318.65h.1M121.09 312.67h.1M120.56 313.61h.1M122.97 317.38h.1M116.13 320.76h.1M120.22 317.44h.1M120.47 315.72h.1M125.4 313.73h.1M124.46 316.35h.1M120.46 313.81h.1M118.95 314.3h.1M122.19 315.94h.1M120.02 310.89h.1M123.78 318.28h.1M123.55 330.03h.1M125.73 337.08h.1M122.95 331.55h.1M126.11 328.2h.1M122.05 326.98h.1M125.63 334.33h.1M133.64 320.61h.1M135.52 330.86h.1M132.99 322.31h.1M130 336.44h.1M129.3 325.56h.1M128.58 319.47h.1M134.78 326.93h.1M133.69 321.5h.1M133.92 324.97h.1M141.26 330.71h.1M136.82 323.65h.1M130.71 321.53h.1M134.44 325.41h.1M132.19 325.89h.1M129.69 323.35h.1M135.54 320.28h.1M139.51 323.56h.1M137.98 322.21h.1M134.69 322.74h.1M139 326.55h.1M132.38 334.74h.1" stroke="#000" stroke-opacity="0.55" stroke-width="0.8" stroke-linecap="round"/>
<path d="M126.71 314.01h.1M118.13 317.09h.1M121.69 321.71h.1M116.34 317.68h.1M120.57 316.08h.1M123.32 315.07h.1M125.66 308.27h.1M126.45 314.72h.1M122.76 313.83h.1M127.33 314.14h.1M121.17 317.42h.1M118.67 319.02h.1M120.51 311.35h.1M123.3 316.54h.1M121.2 312.27h.1M126.26 309.87h.1M125.76 317.17h.1M122.45 317.61h.1M127.14 316.26h.1M124.79 311.42h.1M124.28 314.86h.1M125.22 316.14h.1M120.11 324.95h.1M124.91 326.59h.1M122.04 326.2h.1M122.78 334.18h.1M120.58 331.37h.1M125.94 327.42h.1M121.85 328.11h.1M125.68 327.5h.1M139.09 319.87h.1M133.07 314.51h.1M132.03 337.01h.1M138.73 332.05h.1M132.25 316.7h.1M139.91 325.42h.1M125.64 329.55h.1M134.07 334.32h.1M140.08 330.11h.1M144.92 331.13h.1M137.55 322.07h.1M130.5 322.89h.1M136.51 331.26h.1M129.21 326.18h.1M132.65 307.79h.1M139.39 322.87h.1M116.72 306.16h.1M131.24 323.35h.1M153.97 307.86h.1M120.06 312.77h.1" stroke="#000" stroke-opacity="0.28" stroke-width="0.8" stroke-linecap="round"/>
<line x1="114" y1="300" x2="114" y2="344.8" stroke="#1a1a1a" stroke-width="1" stroke-linecap="butt"/>
<line x1="113.5" y1="344.3" x2="158" y2="344.3" stroke="#1a1a1a" stroke-width="1.2" stroke-linecap="butt"/>
<line x1="112.4" y1="344.3" x2="114" y2="344.3" stroke="#222" stroke-width="0.8" stroke-linecap="butt"/>
<line x1="112.4" y1="333.45" x2="114" y2="333.45" stroke="#222" stroke-width="0.8" stroke-linecap="butt"/>
<line x1="112.4" y1="322.6" x2="114" y2="322.6" stroke="#222" stroke-width="0.8" stroke-linecap="butt"/>
<line x1="112.4" y1="311.75" x2="114" y2="311.75" stroke="#222" stroke-width="0.8" stroke-linecap="butt"/>
<line x1="112.4" y1="300.9" x2="114" y2="300.9" stroke="#222" stroke-width="0.8" stroke-linecap="butt"/>
<line x1="115.4" y1="344.3" x2="115.4" y2="346.1" stroke="#222" stroke-width="0.8" stroke-linecap="butt"/>
<line x1="120.58" y1="344.3" x2="120.58" y2="345.4" stroke="#222" stroke-width="0.8" stroke-linecap="butt"/>
<line x1="125.76" y1="344.3" x2="125.76" y2="346.1" stroke="#222" stroke-width="0.8" stroke-linecap="butt"/>
<line x1="130.94" y1="344.3" x2="130.94" y2="345.4" stroke="#222" stroke-width="0.8" stroke-linecap="butt"/>
<line x1="136.12" y1="344.3" x2="136.12" y2="346.1" stroke="#222" stroke-width="0.8" stroke-linecap="butt"/>
<line x1="141.3" y1="344.3" x2="141.3" y2="345.4" stroke="#222" stroke-width="0.8" stroke-linecap="butt"/>
<line x1="146.48" y1="344.3" x2="146.48" y2="346.1" stroke="#222" stroke-width="0.8" stroke-linecap="butt"/>
<line x1="151.66" y1="344.3" x2="151.66" y2="345.4" stroke="#222" stroke-width="0.8" stroke-linecap="butt"/>
<line x1="156.84" y1="344.3" x2="156.84" y2="346.1" stroke="#222" stroke-width="0.8" stroke-linecap="butt"/>
<rect x="115.9" y="302.4" width="12.4" height="23.7" fill="none" stroke="#111" stroke-width="0.95"/>
<rect x="128.3" y="303.1" width="26.2" height="39.1" fill="none" stroke="#111" stroke-width="0.95"/>
<line x1="115.9" y1="326.1" x2="154.5" y2="326.1" stroke="#111" stroke-width="0.95" stroke-linecap="butt"/>
<text x="117.7" y="307.3" font-size="5.3" text-anchor="start" font-weight="normal" fill="#000" fill="#2a2a2a">Allo</text>
<text x="117.7" y="312.5" font-size="5.3" text-anchor="start" font-weight="normal" fill="#000" fill="#2a2a2a">75%</text>
<text x="154" y="335" font-size="5.3" text-anchor="end" font-weight="normal" fill="#000" fill="#2a2a2a">GFP</text>
<text x="154" y="340.4" font-size="5.3" text-anchor="end" font-weight="normal" fill="#000" fill="#2a2a2a">21%</text>
<text x="115.4" y="350.8" font-size="6.7" text-anchor="middle" font-weight="bold" fill="#111" >0</text>
<text x="125.76" y="350.8" font-size="6.7" text-anchor="middle" font-weight="bold" fill="#111" >1</text>
<text x="136.12" y="350.8" font-size="6.7" text-anchor="middle" font-weight="bold" fill="#111" >2</text>
<text x="146.48" y="350.8" font-size="6.7" text-anchor="middle" font-weight="bold" fill="#111" >3</text>
<text x="156.84" y="350.8" font-size="6.7" text-anchor="middle" font-weight="bold" fill="#111" >4</text>
<rect x="378.8" y="300" width="44" height="44.3" fill="#959595" stroke="#666" stroke-width="0.7"/>
<rect x="379.4" y="303.1" width="39.7" height="41.2" fill="#fff"/>
<rect x="419.2" y="303.1" width="3.0" height="23" fill="#7c7c7c"/>
<ellipse cx="386.5" cy="314.3" rx="3.68" ry="4.14" fill="url(#gh)"/>
<ellipse cx="386.5" cy="314.3" rx="1.6" ry="1.6" fill="url(#gc)"/>
<ellipse cx="386.5" cy="319.5" rx="3.68" ry="8.05" fill="url(#gh)"/>
<ellipse cx="405.7" cy="330.2" rx="8.74" ry="7.36" fill="url(#gh)"/>
<ellipse cx="405.7" cy="330.2" rx="3" ry="2.8" fill="url(#gc)"/>
<path d="M386.71 313h.1M385.91 314.56h.1M387.07 314.03h.1M384.98 314.13h.1M385.62 315.96h.1M389.28 312.02h.1M385.5 312.48h.1M388.31 312.86h.1M385.87 314.11h.1M386.3 314.59h.1M383.84 323.52h.1M388.7 315.11h.1M386.05 320.87h.1M386.25 318.82h.1M386.57 321.76h.1M387.26 315.87h.1M386.89 318.31h.1M389.65 320.87h.1M400.24 333.13h.1M403.28 330.18h.1M401.97 329.61h.1M406.28 334.15h.1M404.23 329.51h.1M404.51 329.72h.1M410.98 330.59h.1M406.65 330.08h.1M402.98 333.13h.1M400.66 333.84h.1M400.51 332.45h.1M402.85 327.68h.1M400.43 325.73h.1M402.73 328.3h.1M403.81 332.91h.1M398.66 328.1h.1M398.85 328.89h.1M406.83 326.56h.1M407.67 329.11h.1M407.9 329.31h.1M401.46 328.2h.1M403.3 322.14h.1M413.74 327.52h.1M409.22 330.81h.1M406.24 329.59h.1M406.91 331.09h.1" stroke="#000" stroke-opacity="0.55" stroke-width="0.8" stroke-linecap="round"/>
<path d="M387.62 314.53h.1M386.44 314.69h.1M386.06 315.31h.1M387.35 311.98h.1M388.37 312.94h.1M385.13 315.97h.1M385.32 313.23h.1M387.76 320.62h.1M387.27 322.69h.1M386.45 325.42h.1M404.75 328.98h.1M400.21 330.92h.1M403.71 333.91h.1M403.49 326.75h.1M400.18 330.02h.1M407.24 330.92h.1M407.84 330.05h.1M398.92 326.11h.1M401.35 328.45h.1M406.51 333.19h.1M405.12 330.92h.1M406.84 328.89h.1M405.07 328.21h.1M398.58 332.93h.1M402.22 326.69h.1M410.85 324.39h.1M406.13 326.81h.1M410.08 329.68h.1M409.56 328.17h.1M408.79 329h.1M406.87 327.68h.1M406.93 334.31h.1M407.2 330.05h.1M403.94 322.64h.1M404.54 327.59h.1M406.91 330.75h.1M402.16 334.97h.1M404.41 331.72h.1M407.67 324.62h.1M409.31 336.98h.1M417.85 321.31h.1M386.53 311.13h.1M405.12 305.16h.1M393.86 330.65h.1M400.23 335.4h.1" stroke="#000" stroke-opacity="0.28" stroke-width="0.8" stroke-linecap="round"/>
<line x1="378.8" y1="300" x2="378.8" y2="344.8" stroke="#1a1a1a" stroke-width="1" stroke-linecap="butt"/>
<line x1="378.3" y1="344.3" x2="422.8" y2="344.3" stroke="#1a1a1a" stroke-width="1.2" stroke-linecap="butt"/>
<line x1="377.2" y1="344.3" x2="378.8" y2="344.3" stroke="#222" stroke-width="0.8" stroke-linecap="butt"/>
<line x1="377.2" y1="333.45" x2="378.8" y2="333.45" stroke="#222" stroke-width="0.8" stroke-linecap="butt"/>
<line x1="377.2" y1="322.6" x2="378.8" y2="322.6" stroke="#222" stroke-width="0.8" stroke-linecap="butt"/>
<line x1="377.2" y1="311.75" x2="378.8" y2="311.75" stroke="#222" stroke-width="0.8" stroke-linecap="butt"/>
<line x1="377.2" y1="300.9" x2="378.8" y2="300.9" stroke="#222" stroke-width="0.8" stroke-linecap="butt"/>
<line x1="380.2" y1="344.3" x2="380.2" y2="346.1" stroke="#222" stroke-width="0.8" stroke-linecap="butt"/>
<line x1="385.38" y1="344.3" x2="385.38" y2="345.4" stroke="#222" stroke-width="0.8" stroke-linecap="butt"/>
<line x1="390.56" y1="344.3" x2="390.56" y2="346.1" stroke="#222" stroke-width="0.8" stroke-linecap="butt"/>
<line x1="395.74" y1="344.3" x2="395.74" y2="345.4" stroke="#222" stroke-width="0.8" stroke-linecap="butt"/>
<line x1="400.92" y1="344.3" x2="400.92" y2="346.1" stroke="#222" stroke-width="0.8" stroke-linecap="butt"/>
<line x1="406.1" y1="344.3" x2="406.1" y2="345.4" stroke="#222" stroke-width="0.8" stroke-linecap="butt"/>
<line x1="411.28" y1="344.3" x2="411.28" y2="346.1" stroke="#222" stroke-width="0.8" stroke-linecap="butt"/>
<line x1="416.46" y1="344.3" x2="416.46" y2="345.4" stroke="#222" stroke-width="0.8" stroke-linecap="butt"/>
<line x1="421.64" y1="344.3" x2="421.64" y2="346.1" stroke="#222" stroke-width="0.8" stroke-linecap="butt"/>
<rect x="380.7" y="302.4" width="12.4" height="23.7" fill="none" stroke="#111" stroke-width="0.95"/>
<rect x="393.1" y="303.1" width="26.2" height="39.1" fill="none" stroke="#111" stroke-width="0.95"/>
<line x1="380.7" y1="326.1" x2="419.3" y2="326.1" stroke="#111" stroke-width="0.95" stroke-linecap="butt"/>
<text x="382.5" y="307.3" font-size="5.3" text-anchor="start" font-weight="normal" fill="#000" fill="#2a2a2a">Allo</text>
<text x="382.5" y="312.5" font-size="5.3" text-anchor="start" font-weight="normal" fill="#000" fill="#2a2a2a">27%</text>
<text x="418.8" y="335" font-size="5.3" text-anchor="end" font-weight="normal" fill="#000" fill="#2a2a2a">GFP</text>
<text x="418.8" y="340.4" font-size="5.3" text-anchor="end" font-weight="normal" fill="#000" fill="#2a2a2a">68%</text>
<text x="380.2" y="350.8" font-size="6.7" text-anchor="middle" font-weight="bold" fill="#111" >0</text>
<text x="390.56" y="350.8" font-size="6.7" text-anchor="middle" font-weight="bold" fill="#111" >1</text>
<text x="400.92" y="350.8" font-size="6.7" text-anchor="middle" font-weight="bold" fill="#111" >2</text>
<text x="411.28" y="350.8" font-size="6.7" text-anchor="middle" font-weight="bold" fill="#111" >3</text>
<text x="421.64" y="350.8" font-size="6.7" text-anchor="middle" font-weight="bold" fill="#111" >4</text>
<rect x="161.4" y="300" width="44" height="44.3" fill="#959595" stroke="#666" stroke-width="0.7"/>
<rect x="162" y="303.1" width="39.7" height="41.2" fill="#fff"/>
<rect x="201.8" y="303.1" width="3.0" height="23" fill="#7c7c7c"/>
<ellipse cx="168.4" cy="314" rx="5.06" ry="10.35" fill="url(#gh)"/>
<ellipse cx="188.3" cy="331.2" rx="9.2" ry="7.82" fill="url(#gh)"/>
<ellipse cx="188.3" cy="331.2" rx="3.9" ry="3.6" fill="url(#gc)"/>
<ellipse cx="187.42" cy="329.68" rx="2.15" ry="1.98" fill="url(#gc)"/>
<ellipse cx="189.65" cy="330.08" rx="2.15" ry="1.98" fill="url(#gc)"/>
<ellipse cx="186.55" cy="331.35" rx="2.15" ry="1.98" fill="url(#gc)"/>
<path d="M169.29 314.62h.1M172.09 320.06h.1M169.47 317.44h.1M168.4 314.26h.1M170.93 317.18h.1M166.21 320.74h.1M186.4 328.33h.1M193.32 328.63h.1M186.23 334.09h.1M183.27 332.39h.1M192.01 331.45h.1M186.3 329.39h.1M193.76 340.69h.1M188.31 330.18h.1M189.38 333.65h.1M187.71 334.79h.1M189.42 331.97h.1M191.92 333.12h.1M178.72 336.79h.1M181.73 332.17h.1M186.64 328.24h.1M195.54 334.5h.1M183.37 330.71h.1M187.22 332h.1M185.95 336.88h.1M182.54 336.48h.1M187.65 335.2h.1M190.62 332.29h.1M196.71 330.99h.1M186.75 330.63h.1M184.3 331.5h.1M182.13 331.38h.1M195.83 333.39h.1M186.26 328.1h.1M182.18 336.84h.1M187.58 337.47h.1M189.52 330.82h.1M185.69 335.58h.1M183.47 332.85h.1" stroke="#000" stroke-opacity="0.55" stroke-width="0.8" stroke-linecap="round"/>
<path d="M166.47 313.09h.1M167.44 318.5h.1M169.42 315.37h.1M173.2 315.32h.1M168 322.54h.1M166.31 310.52h.1M167.52 318.16h.1M165.07 313.45h.1M188.37 329.05h.1M188.94 332.55h.1M182.01 330.11h.1M180.33 323.13h.1M186.78 330.9h.1M184.99 335.16h.1M191.41 328.84h.1M183.34 324.92h.1M186.7 332.33h.1M182.69 330.69h.1M186.48 328.45h.1M187.61 321.68h.1M180.27 330.27h.1M191.36 334.24h.1M186.54 334.28h.1M185.61 334.75h.1M190.09 327.28h.1M181.85 331.75h.1M187.97 337.62h.1M186.22 331.19h.1M193.98 327.61h.1M188.77 328.11h.1M189.38 329.26h.1M192.13 332.55h.1M189.49 329.35h.1M192.38 333.97h.1M186.58 327.47h.1M173.49 341.24h.1M169.91 304.78h.1M188.32 332.62h.1M181.28 305.67h.1M201.33 309.52h.1M196.41 338.77h.1" stroke="#000" stroke-opacity="0.28" stroke-width="0.8" stroke-linecap="round"/>
<line x1="161.4" y1="300" x2="161.4" y2="344.8" stroke="#1a1a1a" stroke-width="1" stroke-linecap="butt"/>
<line x1="160.9" y1="344.3" x2="205.4" y2="344.3" stroke="#1a1a1a" stroke-width="1.2" stroke-linecap="butt"/>
<line x1="159.8" y1="344.3" x2="161.4" y2="344.3" stroke="#222" stroke-width="0.8" stroke-linecap="butt"/>
<line x1="159.8" y1="333.45" x2="161.4" y2="333.45" stroke="#222" stroke-width="0.8" stroke-linecap="butt"/>
<line x1="159.8" y1="322.6" x2="161.4" y2="322.6" stroke="#222" stroke-width="0.8" stroke-linecap="butt"/>
<line x1="159.8" y1="311.75" x2="161.4" y2="311.75" stroke="#222" stroke-width="0.8" stroke-linecap="butt"/>
<line x1="159.8" y1="300.9" x2="161.4" y2="300.9" stroke="#222" stroke-width="0.8" stroke-linecap="butt"/>
<line x1="162.8" y1="344.3" x2="162.8" y2="346.1" stroke="#222" stroke-width="0.8" stroke-linecap="butt"/>
<line x1="167.98" y1="344.3" x2="167.98" y2="345.4" stroke="#222" stroke-width="0.8" stroke-linecap="butt"/>
<line x1="173.16" y1="344.3" x2="173.16" y2="346.1" stroke="#222" stroke-width="0.8" stroke-linecap="butt"/>
<line x1="178.34" y1="344.3" x2="178.34" y2="345.4" stroke="#222" stroke-width="0.8" stroke-linecap="butt"/>
<line x1="183.52" y1="344.3" x2="183.52" y2="346.1" stroke="#222" stroke-width="0.8" stroke-linecap="butt"/>
<line x1="188.7" y1="344.3" x2="188.7" y2="345.4" stroke="#222" stroke-width="0.8" stroke-linecap="butt"/>
<line x1="193.88" y1="344.3" x2="193.88" y2="346.1" stroke="#222" stroke-width="0.8" stroke-linecap="butt"/>
<line x1="199.06" y1="344.3" x2="199.06" y2="345.4" stroke="#222" stroke-width="0.8" stroke-linecap="butt"/>
<line x1="204.24" y1="344.3" x2="204.24" y2="346.1" stroke="#222" stroke-width="0.8" stroke-linecap="butt"/>
<rect x="163.3" y="302.4" width="12.4" height="23.7" fill="none" stroke="#111" stroke-width="0.95"/>
<rect x="175.7" y="303.1" width="26.2" height="39.1" fill="none" stroke="#111" stroke-width="0.95"/>
<line x1="163.3" y1="326.1" x2="201.9" y2="326.1" stroke="#111" stroke-width="0.95" stroke-linecap="butt"/>
<text x="165.1" y="307.3" font-size="5.3" text-anchor="start" font-weight="normal" fill="#000" fill="#2a2a2a">Allo</text>
<text x="165.1" y="312.5" font-size="5.3" text-anchor="start" font-weight="normal" fill="#000" fill="#2a2a2a">9%</text>
<text x="201.4" y="335" font-size="5.3" text-anchor="end" font-weight="normal" fill="#000" fill="#2a2a2a">GFP</text>
<text x="201.4" y="340.4" font-size="5.3" text-anchor="end" font-weight="normal" fill="#000" fill="#2a2a2a">89%</text>
<text x="162.8" y="350.8" font-size="6.7" text-anchor="middle" font-weight="bold" fill="#111" >0</text>
<text x="173.16" y="350.8" font-size="6.7" text-anchor="middle" font-weight="bold" fill="#111" >1</text>
<text x="183.52" y="350.8" font-size="6.7" text-anchor="middle" font-weight="bold" fill="#111" >2</text>
<text x="193.88" y="350.8" font-size="6.7" text-anchor="middle" font-weight="bold" fill="#111" >3</text>
<text x="204.24" y="350.8" font-size="6.7" text-anchor="middle" font-weight="bold" fill="#111" >4</text>
<rect x="425.9" y="300" width="44" height="44.3" fill="#959595" stroke="#666" stroke-width="0.7"/>
<rect x="426.5" y="303.1" width="39.7" height="41.2" fill="#fff"/>
<rect x="466.3" y="303.1" width="3.0" height="23" fill="#7c7c7c"/>
<ellipse cx="433.4" cy="315" rx="4.6" ry="9.2" fill="url(#gh)"/>
<ellipse cx="453.5" cy="330.2" rx="8.74" ry="7.36" fill="url(#gh)"/>
<ellipse cx="453.5" cy="330.2" rx="3.2" ry="3" fill="url(#gc)"/>
<path d="M432.34 318.75h.1M431.03 307.59h.1M432.26 318h.1M434.4 310.21h.1M434.78 321.72h.1M434.29 310.74h.1M432.33 314.21h.1M458.61 330.43h.1M455.62 330.3h.1M452.96 333.46h.1M453.7 327.76h.1M451.4 329.76h.1M454.62 326.01h.1M456.22 330.34h.1M453.66 326.05h.1M447.19 329.35h.1M458.21 328.52h.1M443.38 333.3h.1M454.73 328.7h.1M453.6 329.86h.1M453.75 329.23h.1M454.68 327.37h.1M451.65 332.02h.1M458.59 332.27h.1M458.09 332.55h.1M446.08 328.21h.1M457.45 332.03h.1M461.95 328.67h.1M449.98 332.42h.1M455.21 331.82h.1M453.03 330.58h.1" stroke="#000" stroke-opacity="0.55" stroke-width="0.8" stroke-linecap="round"/>
<path d="M431.09 314.03h.1M433.8 310.12h.1M433.86 309.5h.1M436.13 317.52h.1M435.39 314.38h.1M431.9 319.04h.1M431.15 319.33h.1M453.57 326.44h.1M456.36 327.61h.1M455.26 330.98h.1M456.99 328.42h.1M447.02 326.28h.1M458.54 331.21h.1M456.37 333.23h.1M452.98 325.65h.1M449.25 330.09h.1M453.13 328.63h.1M456.8 335.06h.1M446.69 330.77h.1M447.74 332.4h.1M452.97 331.09h.1M453.54 328.35h.1M453.83 333.34h.1M450.9 327.29h.1M456.17 333.4h.1M449.47 330.76h.1M450.94 327.8h.1M456.2 329.72h.1M457.42 336.53h.1M452.47 326.51h.1M450.07 331.44h.1M445.2 326.18h.1M463.09 330.26h.1M458.71 329.03h.1M452.77 327.8h.1M451.8 323.35h.1M457.69 326.11h.1M448.35 324.77h.1M449.37 306.64h.1M463.26 333.54h.1M457.62 340.42h.1M432.82 312.01h.1M452.07 313.93h.1M432.38 327.14h.1" stroke="#000" stroke-opacity="0.28" stroke-width="0.8" stroke-linecap="round"/>
<line x1="425.9" y1="300" x2="425.9" y2="344.8" stroke="#1a1a1a" stroke-width="1" stroke-linecap="butt"/>
<line x1="425.4" y1="344.3" x2="469.9" y2="344.3" stroke="#1a1a1a" stroke-width="1.2" stroke-linecap="butt"/>
<line x1="424.3" y1="344.3" x2="425.9" y2="344.3" stroke="#222" stroke-width="0.8" stroke-linecap="butt"/>
<line x1="424.3" y1="333.45" x2="425.9" y2="333.45" stroke="#222" stroke-width="0.8" stroke-linecap="butt"/>
<line x1="424.3" y1="322.6" x2="425.9" y2="322.6" stroke="#222" stroke-width="0.8" stroke-linecap="butt"/>
<line x1="424.3" y1="311.75" x2="425.9" y2="311.75" stroke="#222" stroke-width="0.8" stroke-linecap="butt"/>
<line x1="424.3" y1="300.9" x2="425.9" y2="300.9" stroke="#222" stroke-width="0.8" stroke-linecap="butt"/>
<line x1="427.3" y1="344.3" x2="427.3" y2="346.1" stroke="#222" stroke-width="0.8" stroke-linecap="butt"/>
<line x1="432.48" y1="344.3" x2="432.48" y2="345.4" stroke="#222" stroke-width="0.8" stroke-linecap="butt"/>
<line x1="437.66" y1="344.3" x2="437.66" y2="346.1" stroke="#222" stroke-width="0.8" stroke-linecap="butt"/>
<line x1="442.84" y1="344.3" x2="442.84" y2="345.4" stroke="#222" stroke-width="0.8" stroke-linecap="butt"/>
<line x1="448.02" y1="344.3" x2="448.02" y2="346.1" stroke="#222" stroke-width="0.8" stroke-linecap="butt"/>
<line x1="453.2" y1="344.3" x2="453.2" y2="345.4" stroke="#222" stroke-width="0.8" stroke-linecap="butt"/>
<line x1="458.38" y1="344.3" x2="458.38" y2="346.1" stroke="#222" stroke-width="0.8" stroke-linecap="butt"/>
<line x1="463.56" y1="344.3" x2="463.56" y2="345.4" stroke="#222" stroke-width="0.8" stroke-linecap="butt"/>
<line x1="468.74" y1="344.3" x2="468.74" y2="346.1" stroke="#222" stroke-width="0.8" stroke-linecap="butt"/>
<rect x="427.8" y="302.4" width="12.4" height="23.7" fill="none" stroke="#111" stroke-width="0.95"/>
<rect x="440.2" y="303.1" width="26.2" height="39.1" fill="none" stroke="#111" stroke-width="0.95"/>
<line x1="427.8" y1="326.1" x2="466.4" y2="326.1" stroke="#111" stroke-width="0.95" stroke-linecap="butt"/>
<text x="429.6" y="307.3" font-size="5.3" text-anchor="start" font-weight="normal" fill="#000" fill="#2a2a2a">Allo</text>
<text x="429.6" y="312.5" font-size="5.3" text-anchor="start" font-weight="normal" fill="#000" fill="#2a2a2a">12%</text>
<text x="465.9" y="335" font-size="5.3" text-anchor="end" font-weight="normal" fill="#000" fill="#2a2a2a">GFP</text>
<text x="465.9" y="340.4" font-size="5.3" text-anchor="end" font-weight="normal" fill="#000" fill="#2a2a2a">86%</text>
<text x="427.3" y="350.8" font-size="6.7" text-anchor="middle" font-weight="bold" fill="#111" >0</text>
<text x="437.66" y="350.8" font-size="6.7" text-anchor="middle" font-weight="bold" fill="#111" >1</text>
<text x="448.02" y="350.8" font-size="6.7" text-anchor="middle" font-weight="bold" fill="#111" >2</text>
<text x="458.38" y="350.8" font-size="6.7" text-anchor="middle" font-weight="bold" fill="#111" >3</text>
<text x="468.74" y="350.8" font-size="6.7" text-anchor="middle" font-weight="bold" fill="#111" >4</text>
<rect x="208.8" y="300" width="44" height="44.3" fill="#959595" stroke="#666" stroke-width="0.7"/>
<rect x="209.4" y="303.1" width="39.7" height="41.2" fill="#fff"/>
<rect x="249.2" y="303.1" width="3.0" height="23" fill="#7c7c7c"/>
<ellipse cx="216.6" cy="318" rx="4.6" ry="14.95" fill="url(#gh)"/>
<ellipse cx="216.6" cy="318" rx="2" ry="5" fill="url(#gc)"/>
<ellipse cx="217.2" cy="331.5" rx="4.6" ry="9.2" fill="url(#gh)"/>
<ellipse cx="237.3" cy="332" rx="11.5" ry="6.9" fill="url(#gh)"/>
<path d="M219.05 316h.1M216.77 316.75h.1M215.31 320.11h.1M216.15 321.29h.1M217.83 313.4h.1M218.58 323.46h.1M216.92 309.18h.1M217.29 311.28h.1M220.97 323.79h.1M213.56 316.46h.1M214.55 309.9h.1M215.64 320.21h.1M214.7 332.88h.1M220.19 322.22h.1M216.72 320.46h.1M217.78 315.75h.1M218.01 312.16h.1M216.61 317.69h.1M218.2 321.21h.1M214.56 316.62h.1M221.95 312.94h.1M215.2 316.56h.1M215.39 322.23h.1M218.28 316.55h.1M220.73 313.93h.1M219.73 336.17h.1M213.38 335.64h.1M219.62 333.63h.1M216.76 329.93h.1M217.28 333.26h.1M218.22 332.57h.1M213.35 334.98h.1M220.13 331.95h.1M221.23 327.64h.1M238.05 332.61h.1M236.59 333.19h.1M236 332.89h.1M240.63 323.83h.1M236.61 332.18h.1M231.61 328.22h.1M241.47 334.02h.1M231.69 329.87h.1M235.62 331.97h.1M235.91 335.4h.1M240.19 334.54h.1M243.29 326.97h.1M239.73 330.99h.1M236.47 331.44h.1M233.53 332.46h.1M232.14 329.58h.1M240.12 334.73h.1M232.06 332.63h.1M235.63 328.37h.1M238.99 338.77h.1M239.98 331.89h.1" stroke="#000" stroke-opacity="0.55" stroke-width="0.8" stroke-linecap="round"/>
<path d="M218.63 316.55h.1M217.78 318.77h.1M215.84 319.83h.1M213.66 317.22h.1M218.27 323.92h.1M218.69 315.7h.1M216.24 304.6h.1M217.72 316.31h.1M214.37 319.28h.1M217.88 324.09h.1M217.51 312.53h.1M217.63 320.88h.1M217.63 315.2h.1M218.26 326.83h.1M216.52 324.96h.1M214.34 310.27h.1M217.62 316.88h.1M214.07 320.54h.1M218.11 324.18h.1M215.39 312.1h.1M217.01 330.35h.1M217 336.3h.1M216.77 334.53h.1M218.31 333.79h.1M217.92 326.82h.1M216.85 325.73h.1M219.21 334.03h.1M214.13 326.29h.1M219.6 324.58h.1M241.58 334.27h.1M234.04 334.19h.1M240.99 327.29h.1M232.25 330.37h.1M239.56 331.64h.1M232.14 328.72h.1M234.28 327.29h.1M239.73 334.09h.1M237.06 329.66h.1M241.8 335.6h.1M244.11 331.36h.1M243.43 330.7h.1M241.75 329.1h.1M244.97 335.93h.1M238.01 332.51h.1M241.19 332.08h.1M231.34 332.98h.1M237.44 328.67h.1M236.67 332.12h.1M241.4 334.13h.1M248.76 334.07h.1M232.86 332.44h.1M237.95 338.3h.1M242.46 335.22h.1M221.58 308.77h.1M244.37 324.75h.1M216.9 319.87h.1M243.35 324.35h.1M215.33 326.81h.1M236.33 317.29h.1" stroke="#000" stroke-opacity="0.28" stroke-width="0.8" stroke-linecap="round"/>
<line x1="208.8" y1="300" x2="208.8" y2="344.8" stroke="#1a1a1a" stroke-width="1" stroke-linecap="butt"/>
<line x1="208.3" y1="344.3" x2="252.8" y2="344.3" stroke="#1a1a1a" stroke-width="1.2" stroke-linecap="butt"/>
<line x1="207.2" y1="344.3" x2="208.8" y2="344.3" stroke="#222" stroke-width="0.8" stroke-linecap="butt"/>
<line x1="207.2" y1="333.45" x2="208.8" y2="333.45" stroke="#222" stroke-width="0.8" stroke-linecap="butt"/>
<line x1="207.2" y1="322.6" x2="208.8" y2="322.6" stroke="#222" stroke-width="0.8" stroke-linecap="butt"/>
<line x1="207.2" y1="311.75" x2="208.8" y2="311.75" stroke="#222" stroke-width="0.8" stroke-linecap="butt"/>
<line x1="207.2" y1="300.9" x2="208.8" y2="300.9" stroke="#222" stroke-width="0.8" stroke-linecap="butt"/>
<line x1="210.2" y1="344.3" x2="210.2" y2="346.1" stroke="#222" stroke-width="0.8" stroke-linecap="butt"/>
<line x1="215.38" y1="344.3" x2="215.38" y2="345.4" stroke="#222" stroke-width="0.8" stroke-linecap="butt"/>
<line x1="220.56" y1="344.3" x2="220.56" y2="346.1" stroke="#222" stroke-width="0.8" stroke-linecap="butt"/>
<line x1="225.74" y1="344.3" x2="225.74" y2="345.4" stroke="#222" stroke-width="0.8" stroke-linecap="butt"/>
<line x1="230.92" y1="344.3" x2="230.92" y2="346.1" stroke="#222" stroke-width="0.8" stroke-linecap="butt"/>
<line x1="236.1" y1="344.3" x2="236.1" y2="345.4" stroke="#222" stroke-width="0.8" stroke-linecap="butt"/>
<line x1="241.28" y1="344.3" x2="241.28" y2="346.1" stroke="#222" stroke-width="0.8" stroke-linecap="butt"/>
<line x1="246.46" y1="344.3" x2="246.46" y2="345.4" stroke="#222" stroke-width="0.8" stroke-linecap="butt"/>
<line x1="251.64" y1="344.3" x2="251.64" y2="346.1" stroke="#222" stroke-width="0.8" stroke-linecap="butt"/>
<rect x="210.7" y="302.4" width="12.4" height="23.7" fill="none" stroke="#111" stroke-width="0.95"/>
<rect x="223.1" y="303.1" width="26.2" height="39.1" fill="none" stroke="#111" stroke-width="0.95"/>
<line x1="210.7" y1="326.1" x2="249.3" y2="326.1" stroke="#111" stroke-width="0.95" stroke-linecap="butt"/>
<text x="212.5" y="307.3" font-size="5.3" text-anchor="start" font-weight="normal" fill="#000" fill="#2a2a2a">Allo</text>
<text x="212.5" y="312.5" font-size="5.3" text-anchor="start" font-weight="normal" fill="#000" fill="#2a2a2a">36%</text>
<text x="248.8" y="335" font-size="5.3" text-anchor="end" font-weight="normal" fill="#000" fill="#2a2a2a">GFP</text>
<text x="248.8" y="340.4" font-size="5.3" text-anchor="end" font-weight="normal" fill="#000" fill="#2a2a2a">32%</text>
<text x="210.2" y="350.8" font-size="6.7" text-anchor="middle" font-weight="bold" fill="#111" >0</text>
<text x="220.56" y="350.8" font-size="6.7" text-anchor="middle" font-weight="bold" fill="#111" >1</text>
<text x="230.92" y="350.8" font-size="6.7" text-anchor="middle" font-weight="bold" fill="#111" >2</text>
<text x="241.28" y="350.8" font-size="6.7" text-anchor="middle" font-weight="bold" fill="#111" >3</text>
<text x="251.64" y="350.8" font-size="6.7" text-anchor="middle" font-weight="bold" fill="#111" >4</text>
<rect x="473" y="300" width="44" height="44.3" fill="#959595" stroke="#666" stroke-width="0.7"/>
<rect x="473.6" y="303.1" width="39.7" height="41.2" fill="#fff"/>
<rect x="513.4" y="303.1" width="3.0" height="23" fill="#7c7c7c"/>
<ellipse cx="482.3" cy="314.8" rx="6.9" ry="3.68" fill="url(#gh)"/>
<ellipse cx="482.3" cy="314.8" rx="5.6" ry="3" fill="url(#gc)"/>
<ellipse cx="481.5" cy="326" rx="3.68" ry="10.35" fill="url(#gh)"/>
<ellipse cx="491" cy="316" rx="9.2" ry="4.6" fill="url(#gh)"/>
<path d="M484.09 315.21h.1M480.2 314.55h.1M485.61 313.95h.1M480.53 316.57h.1M483.67 313.31h.1M480.3 315.38h.1M483.74 312.59h.1M487.38 313.73h.1M478.65 315.56h.1M487.53 313.53h.1M481.73 311.12h.1M481.59 313.11h.1M485.16 311.9h.1M482.42 312.89h.1M482.27 318.79h.1M476.67 313.91h.1M481.55 312.27h.1M477.21 316.36h.1M481.2 314.67h.1M484.93 315.23h.1M484.86 314.01h.1M480.29 314.37h.1M485.72 315.57h.1M481.5 324.19h.1M480.71 326.21h.1M484.27 332.11h.1M483.62 331.14h.1M486.68 316.95h.1M494.63 314.19h.1M495.87 319.98h.1M489.19 313.91h.1M485.95 317.3h.1" stroke="#000" stroke-opacity="0.55" stroke-width="0.8" stroke-linecap="round"/>
<path d="M481.11 312.32h.1M484.83 313.91h.1M481.26 315.19h.1M475.6 313.95h.1M477.99 314.92h.1M480.03 315.14h.1M481.21 314.35h.1M477.41 312.12h.1M482.71 314.8h.1M480.99 319.48h.1M481.84 315.09h.1M487.8 314.41h.1M481.36 330.31h.1M479.05 321.9h.1M481.79 334.26h.1M482.95 322.07h.1M478.42 330.74h.1M480.7 334.69h.1M480.74 322h.1M483.01 329.08h.1M481.18 328.33h.1M479.12 324.5h.1M480.8 320.03h.1M481.55 326.91h.1M492.5 318.06h.1M492.65 316.56h.1M493.84 315.25h.1M491.05 316.39h.1M484.78 313.62h.1M495.09 341.73h.1M497.69 323.86h.1M503.32 324.16h.1M479.41 320.86h.1M487.94 314.26h.1M499.1 308.17h.1" stroke="#000" stroke-opacity="0.28" stroke-width="0.8" stroke-linecap="round"/>
<line x1="473" y1="300" x2="473" y2="344.8" stroke="#1a1a1a" stroke-width="1" stroke-linecap="butt"/>
<line x1="472.5" y1="344.3" x2="517" y2="344.3" stroke="#1a1a1a" stroke-width="1.2" stroke-linecap="butt"/>
<line x1="471.4" y1="344.3" x2="473" y2="344.3" stroke="#222" stroke-width="0.8" stroke-linecap="butt"/>
<line x1="471.4" y1="333.45" x2="473" y2="333.45" stroke="#222" stroke-width="0.8" stroke-linecap="butt"/>
<line x1="471.4" y1="322.6" x2="473" y2="322.6" stroke="#222" stroke-width="0.8" stroke-linecap="butt"/>
<line x1="471.4" y1="311.75" x2="473" y2="311.75" stroke="#222" stroke-width="0.8" stroke-linecap="butt"/>
<line x1="471.4" y1="300.9" x2="473" y2="300.9" stroke="#222" stroke-width="0.8" stroke-linecap="butt"/>
<line x1="474.4" y1="344.3" x2="474.4" y2="346.1" stroke="#222" stroke-width="0.8" stroke-linecap="butt"/>
<line x1="479.58" y1="344.3" x2="479.58" y2="345.4" stroke="#222" stroke-width="0.8" stroke-linecap="butt"/>
<line x1="484.76" y1="344.3" x2="484.76" y2="346.1" stroke="#222" stroke-width="0.8" stroke-linecap="butt"/>
<line x1="489.94" y1="344.3" x2="489.94" y2="345.4" stroke="#222" stroke-width="0.8" stroke-linecap="butt"/>
<line x1="495.12" y1="344.3" x2="495.12" y2="346.1" stroke="#222" stroke-width="0.8" stroke-linecap="butt"/>
<line x1="500.3" y1="344.3" x2="500.3" y2="345.4" stroke="#222" stroke-width="0.8" stroke-linecap="butt"/>
<line x1="505.48" y1="344.3" x2="505.48" y2="346.1" stroke="#222" stroke-width="0.8" stroke-linecap="butt"/>
<line x1="510.66" y1="344.3" x2="510.66" y2="345.4" stroke="#222" stroke-width="0.8" stroke-linecap="butt"/>
<line x1="515.84" y1="344.3" x2="515.84" y2="346.1" stroke="#222" stroke-width="0.8" stroke-linecap="butt"/>
<rect x="474.9" y="302.4" width="12.4" height="23.7" fill="none" stroke="#111" stroke-width="0.95"/>
<rect x="487.3" y="303.1" width="26.2" height="39.1" fill="none" stroke="#111" stroke-width="0.95"/>
<line x1="474.9" y1="326.1" x2="513.5" y2="326.1" stroke="#111" stroke-width="0.95" stroke-linecap="butt"/>
<text x="476.7" y="307.3" font-size="5.3" text-anchor="start" font-weight="normal" fill="#000" fill="#2a2a2a">Allo</text>
<text x="476.7" y="312.5" font-size="5.3" text-anchor="start" font-weight="normal" fill="#000" fill="#2a2a2a">87%</text>
<text x="513" y="335" font-size="5.3" text-anchor="end" font-weight="normal" fill="#000" fill="#2a2a2a">GFP</text>
<text x="513" y="340.4" font-size="5.3" text-anchor="end" font-weight="normal" fill="#000" fill="#2a2a2a">12%</text>
<text x="474.4" y="350.8" font-size="6.7" text-anchor="middle" font-weight="bold" fill="#111" >0</text>
<text x="484.76" y="350.8" font-size="6.7" text-anchor="middle" font-weight="bold" fill="#111" >1</text>
<text x="495.12" y="350.8" font-size="6.7" text-anchor="middle" font-weight="bold" fill="#111" >2</text>
<text x="505.48" y="350.8" font-size="6.7" text-anchor="middle" font-weight="bold" fill="#111" >3</text>
<text x="515.84" y="350.8" font-size="6.7" text-anchor="middle" font-weight="bold" fill="#111" >4</text>
<line x1="4.8" y1="181" x2="4.8" y2="217.5" stroke="#111" stroke-width="1.9" stroke-linecap="butt"/>
<polygon points="4.8,170.6 1.8,182.1 7.8,182.1" fill="#000"/>
<text x="8.7" y="266.3" font-size="11.3" text-anchor="middle" font-weight="normal" fill="#111" transform="rotate(-90 8.6 266.3)">Allotype &#8211; PE-Cy5</text>
<path d="M4.8,314.3 V358.6 H119.6" stroke="#111" stroke-width="1.6" fill="none" />
<text x="126" y="362" font-size="10.3" text-anchor="start" font-weight="normal" fill="#111" >GFP</text>
<line x1="151" y1="358.6" x2="244" y2="358.6" stroke="#111" stroke-width="1.6" stroke-linecap="butt"/>
<polygon points="254,358.6 242.5,355.4 242.5,361.8" fill="#000"/>
<line x1="269.6" y1="181" x2="269.6" y2="217.5" stroke="#111" stroke-width="1.9" stroke-linecap="butt"/>
<polygon points="269.6,170.6 266.6,182.1 272.6,182.1" fill="#000"/>
<text x="273.5" y="263" font-size="11.3" text-anchor="middle" font-weight="normal" fill="#111" transform="rotate(-90 273.4 263)">Allotype &#8211; PE-Cy5</text>
<path d="M269.6,311 V358.6 H384.3" stroke="#111" stroke-width="1.6" fill="none" />
<text x="391.3" y="362" font-size="10.3" text-anchor="start" font-weight="normal" fill="#111" >GFP</text>
<line x1="414.5" y1="358.6" x2="507.5" y2="358.6" stroke="#111" stroke-width="1.6" stroke-linecap="butt"/>
<polygon points="517.5,358.6 506,355.4 506,361.8" fill="#000"/>
<text x="100.6" y="385.8" font-size="12" text-anchor="start" font-weight="bold" fill="#000" >E</text>
<line x1="133" y1="397" x2="133" y2="454.1" stroke="#111" stroke-width="1.4" stroke-linecap="butt"/>
<line x1="132.4" y1="453.5" x2="212.6" y2="453.5" stroke="#111" stroke-width="1.4" stroke-linecap="butt"/>
<line x1="130.4" y1="453.5" x2="133" y2="453.5" stroke="#111" stroke-width="1" stroke-linecap="butt"/>
<text x="129.4" y="456.4" font-size="8.3" text-anchor="end" font-weight="normal" fill="#111" >0</text>
<line x1="130.4" y1="439.5" x2="133" y2="439.5" stroke="#111" stroke-width="1" stroke-linecap="butt"/>
<text x="129.4" y="442.4" font-size="8.3" text-anchor="end" font-weight="normal" fill="#111" >25</text>
<line x1="130.4" y1="425.5" x2="133" y2="425.5" stroke="#111" stroke-width="1" stroke-linecap="butt"/>
<text x="129.4" y="428.4" font-size="8.3" text-anchor="end" font-weight="normal" fill="#111" >50</text>
<line x1="130.4" y1="411.5" x2="133" y2="411.5" stroke="#111" stroke-width="1" stroke-linecap="butt"/>
<text x="129.4" y="414.4" font-size="8.3" text-anchor="end" font-weight="normal" fill="#111" >75</text>
<line x1="130.4" y1="397.5" x2="133" y2="397.5" stroke="#111" stroke-width="1" stroke-linecap="butt"/>
<text x="129.4" y="400.4" font-size="8.3" text-anchor="end" font-weight="normal" fill="#111" >100</text>
<line x1="133" y1="453.5" x2="133" y2="456.5" stroke="#111" stroke-width="1" stroke-linecap="butt"/>
<text x="133" y="466.4" font-size="8.6" text-anchor="middle" font-weight="normal" fill="#111" >0</text>
<line x1="144.34" y1="453.5" x2="144.34" y2="455.7" stroke="#111" stroke-width="1" stroke-linecap="butt"/>
<line x1="155.68" y1="453.5" x2="155.68" y2="456.5" stroke="#111" stroke-width="1" stroke-linecap="butt"/>
<text x="155.68" y="466.4" font-size="8.6" text-anchor="middle" font-weight="normal" fill="#111" >14</text>
<line x1="167.02" y1="453.5" x2="167.02" y2="455.7" stroke="#111" stroke-width="1" stroke-linecap="butt"/>
<line x1="178.36" y1="453.5" x2="178.36" y2="456.5" stroke="#111" stroke-width="1" stroke-linecap="butt"/>
<text x="178.36" y="466.4" font-size="8.6" text-anchor="middle" font-weight="normal" fill="#111" >28</text>
<line x1="189.7" y1="453.5" x2="189.7" y2="455.7" stroke="#111" stroke-width="1" stroke-linecap="butt"/>
<line x1="201.04" y1="453.5" x2="201.04" y2="456.5" stroke="#111" stroke-width="1" stroke-linecap="butt"/>
<text x="201.04" y="466.4" font-size="8.6" text-anchor="middle" font-weight="normal" fill="#111" >42</text>
<line x1="212.38" y1="453.5" x2="212.38" y2="455.7" stroke="#111" stroke-width="1" stroke-linecap="butt"/>
<text x="139" y="478.6" font-size="9.5" text-anchor="start" font-weight="normal" fill="#111" >Days after BMT</text>
<text x="147.2" y="383.1" font-size="9.7" text-anchor="start" font-weight="normal" fill="#111" >Imatinib only</text>
<line x1="190.3" y1="395.5" x2="190.3" y2="453.5" stroke="#666" stroke-width="1.25" stroke-linecap="butt" stroke-dasharray="2.4 1.4"/>
<text x="190.3" y="397.91" font-size="13" text-anchor="middle" font-weight="bold" fill="#111" >*</text>
<line x1="224.2" y1="397" x2="224.2" y2="454.1" stroke="#111" stroke-width="1.4" stroke-linecap="butt"/>
<line x1="223.6" y1="453.5" x2="303.8" y2="453.5" stroke="#111" stroke-width="1.4" stroke-linecap="butt"/>
<line x1="221.6" y1="453.5" x2="224.2" y2="453.5" stroke="#111" stroke-width="1" stroke-linecap="butt"/>
<line x1="221.6" y1="439.5" x2="224.2" y2="439.5" stroke="#111" stroke-width="1" stroke-linecap="butt"/>
<line x1="221.6" y1="425.5" x2="224.2" y2="425.5" stroke="#111" stroke-width="1" stroke-linecap="butt"/>
<line x1="221.6" y1="411.5" x2="224.2" y2="411.5" stroke="#111" stroke-width="1" stroke-linecap="butt"/>
<line x1="221.6" y1="397.5" x2="224.2" y2="397.5" stroke="#111" stroke-width="1" stroke-linecap="butt"/>
<line x1="224.2" y1="453.5" x2="224.2" y2="456.5" stroke="#111" stroke-width="1" stroke-linecap="butt"/>
<text x="224.2" y="466.4" font-size="8.6" text-anchor="middle" font-weight="normal" fill="#111" >0</text>
<line x1="235.54" y1="453.5" x2="235.54" y2="455.7" stroke="#111" stroke-width="1" stroke-linecap="butt"/>
<line x1="246.88" y1="453.5" x2="246.88" y2="456.5" stroke="#111" stroke-width="1" stroke-linecap="butt"/>
<text x="246.88" y="466.4" font-size="8.6" text-anchor="middle" font-weight="normal" fill="#111" >14</text>
<line x1="258.22" y1="453.5" x2="258.22" y2="455.7" stroke="#111" stroke-width="1" stroke-linecap="butt"/>
<line x1="269.56" y1="453.5" x2="269.56" y2="456.5" stroke="#111" stroke-width="1" stroke-linecap="butt"/>
<text x="269.56" y="466.4" font-size="8.6" text-anchor="middle" font-weight="normal" fill="#111" >28</text>
<line x1="280.9" y1="453.5" x2="280.9" y2="455.7" stroke="#111" stroke-width="1" stroke-linecap="butt"/>
<line x1="292.24" y1="453.5" x2="292.24" y2="456.5" stroke="#111" stroke-width="1" stroke-linecap="butt"/>
<text x="292.24" y="466.4" font-size="8.6" text-anchor="middle" font-weight="normal" fill="#111" >42</text>
<line x1="303.58" y1="453.5" x2="303.58" y2="455.7" stroke="#111" stroke-width="1" stroke-linecap="butt"/>
<text x="230.2" y="478.6" font-size="9.5" text-anchor="start" font-weight="normal" fill="#111" >Days after BMT</text>
<text x="225.1" y="383.1" font-size="9.7" text-anchor="start" font-weight="normal" fill="#111" >DLI + imatinib (<tspan font-style="italic">wt</tspan>)</text>
<line x1="281.3" y1="395.5" x2="281.3" y2="453.5" stroke="#666" stroke-width="1.25" stroke-linecap="butt" stroke-dasharray="2.4 1.4"/>
<text x="281.3" y="397.91" font-size="13" text-anchor="middle" font-weight="bold" fill="#111" >*</text>
<line x1="315.1" y1="397" x2="315.1" y2="454.1" stroke="#111" stroke-width="1.4" stroke-linecap="butt"/>
<line x1="314.5" y1="453.5" x2="394.7" y2="453.5" stroke="#111" stroke-width="1.4" stroke-linecap="butt"/>
<line x1="312.5" y1="453.5" x2="315.1" y2="453.5" stroke="#111" stroke-width="1" stroke-linecap="butt"/>
<line x1="312.5" y1="439.5" x2="315.1" y2="439.5" stroke="#111" stroke-width="1" stroke-linecap="butt"/>
<line x1="312.5" y1="425.5" x2="315.1" y2="425.5" stroke="#111" stroke-width="1" stroke-linecap="butt"/>
<line x1="312.5" y1="411.5" x2="315.1" y2="411.5" stroke="#111" stroke-width="1" stroke-linecap="butt"/>
<line x1="312.5" y1="397.5" x2="315.1" y2="397.5" stroke="#111" stroke-width="1" stroke-linecap="butt"/>
<line x1="315.1" y1="453.5" x2="315.1" y2="456.5" stroke="#111" stroke-width="1" stroke-linecap="butt"/>
<text x="315.1" y="466.4" font-size="8.6" text-anchor="middle" font-weight="normal" fill="#111" >0</text>
<line x1="326.44" y1="453.5" x2="326.44" y2="455.7" stroke="#111" stroke-width="1" stroke-linecap="butt"/>
<line x1="337.78" y1="453.5" x2="337.78" y2="456.5" stroke="#111" stroke-width="1" stroke-linecap="butt"/>
<text x="337.78" y="466.4" font-size="8.6" text-anchor="middle" font-weight="normal" fill="#111" >14</text>
<line x1="349.12" y1="453.5" x2="349.12" y2="455.7" stroke="#111" stroke-width="1" stroke-linecap="butt"/>
<line x1="360.46" y1="453.5" x2="360.46" y2="456.5" stroke="#111" stroke-width="1" stroke-linecap="butt"/>
<text x="360.46" y="466.4" font-size="8.6" text-anchor="middle" font-weight="normal" fill="#111" >28</text>
<line x1="371.8" y1="453.5" x2="371.8" y2="455.7" stroke="#111" stroke-width="1" stroke-linecap="butt"/>
<line x1="383.14" y1="453.5" x2="383.14" y2="456.5" stroke="#111" stroke-width="1" stroke-linecap="butt"/>
<text x="383.14" y="466.4" font-size="8.6" text-anchor="middle" font-weight="normal" fill="#111" >42</text>
<line x1="394.48" y1="453.5" x2="394.48" y2="455.7" stroke="#111" stroke-width="1" stroke-linecap="butt"/>
<text x="321.1" y="478.6" font-size="9.5" text-anchor="start" font-weight="normal" fill="#111" >Days after BMT</text>
<text x="311.8" y="383.1" font-size="9.7" text-anchor="start" font-weight="normal" fill="#111" >DLI + imatinb (<tspan font-style="italic">Rag2</tspan><tspan font-size="6" dy="-3.5">&#8722;/&#8722;</tspan><tspan dy="3.5">)</tspan></text>
<line x1="374.5" y1="395.5" x2="374.5" y2="453.5" stroke="#666" stroke-width="1.25" stroke-linecap="butt" stroke-dasharray="2.4 1.4"/>
<text x="374.5" y="397.91" font-size="13" text-anchor="middle" font-weight="bold" fill="#111" >*</text>
<text x="112.8" y="425" font-size="10" text-anchor="middle" font-weight="normal" fill="#111" transform="rotate(-90 112.8 425)">Percent GFP<tspan font-size="7" dy="-4">+</tspan></text>
<path d="M155.68,450.7 L178.36,407.58 L189.7,405.34 L201.04,399.74" stroke="#111" stroke-width="1" fill="none" />
<path d="M155.68,450.14 L178.36,409.26 L189.7,408.7 L201.04,401.42" stroke="#111" stroke-width="1" fill="none" />
<path d="M155.68,451.26 L178.36,412.06 L189.7,412.06 L201.04,407.02" stroke="#111" stroke-width="1" fill="none" />
<path d="M155.68,450.7 L178.36,419.9 L189.7,413.74 L201.04,408.7" stroke="#111" stroke-width="1" fill="none" />
<path d="M155.68,451.82 L178.36,422.14 L189.7,421.58" stroke="#111" stroke-width="1" fill="none" />
<path d="M155.68,450.14 L178.36,424.38 L189.7,414.86 L201.04,414.86" stroke="#111" stroke-width="1" fill="none" />
<path d="M155.68,451.26 L178.36,435.02 L189.7,410.38" stroke="#111" stroke-width="1" fill="none" />
<path d="M155.68,450.7 L178.36,437.26 L189.7,412.06" stroke="#111" stroke-width="1" fill="none" />
<path d="M155.68,451.26 L178.36,439.5 L189.7,438.38 L201.04,431.1 L212.38,424.94" stroke="#111" stroke-width="1" fill="none" />
<path d="M155.68,451.82 L178.36,446.78 L189.7,443.42 L201.04,436.14 L212.38,426.62" stroke="#111" stroke-width="1" fill="none" />
<circle cx="201.04" cy="399.74" r="2.2" fill="#000"/>
<circle cx="178.36" cy="424.38" r="2.2" fill="#000"/>
<circle cx="178.36" cy="407.58" r="2.2" fill="#000"/>
<circle cx="201.04" cy="407.02" r="2.2" fill="#000"/>
<circle cx="201.04" cy="408.7" r="2.2" fill="#000"/>
<circle cx="189.7" cy="408.7" r="2.2" fill="#000"/>
<circle cx="201.04" cy="431.1" r="2.2" fill="#000"/>
<circle cx="178.36" cy="422.14" r="2.2" fill="#000"/>
<circle cx="189.7" cy="414.86" r="2.2" fill="#000"/>
<circle cx="178.36" cy="412.06" r="2.2" fill="#000"/>
<circle cx="201.04" cy="414.86" r="2.2" fill="#000"/>
<circle cx="178.36" cy="439.5" r="2.2" fill="#000"/>
<circle cx="189.7" cy="413.74" r="2.2" fill="#000"/>
<circle cx="189.7" cy="412.06" r="2.2" fill="#000"/>
<circle cx="155.68" cy="451.26" r="2.2" fill="#000"/>
<circle cx="189.7" cy="405.34" r="2.2" fill="#000"/>
<circle cx="155.68" cy="451.82" r="2.2" fill="#000"/>
<circle cx="178.36" cy="437.26" r="2.2" fill="#000"/>
<circle cx="155.68" cy="450.14" r="2.2" fill="#000"/>
<circle cx="189.7" cy="438.38" r="2.2" fill="#000"/>
<circle cx="212.38" cy="426.62" r="2.2" fill="#000"/>
<circle cx="201.04" cy="401.42" r="2.2" fill="#000"/>
<circle cx="189.7" cy="421.58" r="2.2" fill="#000"/>
<circle cx="155.68" cy="450.7" r="2.2" fill="#000"/>
<circle cx="178.36" cy="446.78" r="2.2" fill="#000"/>
<circle cx="178.36" cy="409.26" r="2.2" fill="#000"/>
<circle cx="178.36" cy="435.02" r="2.2" fill="#000"/>
<circle cx="201.04" cy="436.14" r="2.2" fill="#000"/>
<circle cx="189.7" cy="410.38" r="2.2" fill="#000"/>
<circle cx="178.36" cy="419.9" r="2.2" fill="#000"/>
<circle cx="189.7" cy="443.42" r="2.2" fill="#000"/>
<circle cx="212.38" cy="424.94" r="2.2" fill="#000"/>
<path d="M246.88,450.7 L269.56,404.22 L280.9,406.46" stroke="#111" stroke-width="1" fill="none" />
<path d="M246.88,451.26 L269.56,414.3 L280.9,443.98 L292.24,450.7 L303.58,452.38" stroke="#111" stroke-width="1" fill="none" />
<path d="M246.88,450.7 L269.56,428.86 L280.9,446.78 L292.24,451.26" stroke="#111" stroke-width="1" fill="none" />
<path d="M246.88,451.26 L269.56,438.38 L280.9,450.14 L292.24,452.38 L303.58,452.94" stroke="#111" stroke-width="1" fill="none" />
<path d="M246.88,451.82 L269.56,447.9 L280.9,451.82 L292.24,452.94" stroke="#111" stroke-width="1" fill="none" />
<path d="M246.88,452.38 L269.56,451.26 L280.9,452.94 L292.24,453.22 L303.58,453.22" stroke="#111" stroke-width="1" fill="none" />
<path d="M246.88,452.94 L269.56,452.94 L280.9,453.22" stroke="#111" stroke-width="1" fill="none" />
<circle cx="269.56" cy="438.38" r="2.2" fill="#000"/>
<circle cx="280.9" cy="406.46" r="2.2" fill="#000"/>
<circle cx="246.88" cy="451.26" r="2.2" fill="#000"/>
<circle cx="292.24" cy="451.26" r="2.2" fill="#000"/>
<circle cx="292.24" cy="452.94" r="2.2" fill="#000"/>
<circle cx="292.24" cy="453.22" r="2.2" fill="#000"/>
<circle cx="303.58" cy="452.38" r="2.2" fill="#000"/>
<circle cx="246.88" cy="451.82" r="2.2" fill="#000"/>
<circle cx="269.56" cy="428.86" r="2.2" fill="#000"/>
<circle cx="269.56" cy="447.9" r="2.2" fill="#000"/>
<circle cx="303.58" cy="452.94" r="2.2" fill="#000"/>
<circle cx="303.58" cy="453.22" r="2.2" fill="#000"/>
<circle cx="246.88" cy="450.7" r="2.2" fill="#000"/>
<circle cx="292.24" cy="450.7" r="2.2" fill="#000"/>
<circle cx="269.56" cy="451.26" r="2.2" fill="#000"/>
<circle cx="269.56" cy="452.94" r="2.2" fill="#000"/>
<circle cx="280.9" cy="450.14" r="2.2" fill="#000"/>
<circle cx="269.56" cy="414.3" r="2.2" fill="#000"/>
<circle cx="269.56" cy="404.22" r="2.2" fill="#000"/>
<circle cx="280.9" cy="446.78" r="2.2" fill="#000"/>
<circle cx="280.9" cy="443.98" r="2.2" fill="#000"/>
<circle cx="280.9" cy="452.94" r="2.2" fill="#000"/>
<circle cx="280.9" cy="453.22" r="2.2" fill="#000"/>
<circle cx="246.88" cy="452.38" r="2.2" fill="#000"/>
<circle cx="292.24" cy="452.38" r="2.2" fill="#000"/>
<circle cx="280.9" cy="451.82" r="2.2" fill="#000"/>
<circle cx="246.88" cy="452.94" r="2.2" fill="#000"/>
<path d="M337.78,451.82 L360.46,409.82 L371.8,404.22" stroke="#111" stroke-width="1" fill="none" />
<path d="M337.78,451.26 L360.46,410.94 L371.8,405.34" stroke="#111" stroke-width="1" fill="none" />
<path d="M337.78,451.82 L360.46,412.62 L371.8,415.42 L383.14,418.78" stroke="#111" stroke-width="1" fill="none" />
<path d="M337.78,452.38 L360.46,416.54 L371.8,435.58 L383.14,428.86 L394.48,426.06" stroke="#111" stroke-width="1" fill="none" />
<path d="M337.78,451.82 L360.46,436.14 L371.8,424.38 L383.14,410.38" stroke="#111" stroke-width="1" fill="none" />
<path d="M337.78,452.38 L360.46,441.74 L371.8,432.78 L383.14,430.54 L394.48,427.74" stroke="#111" stroke-width="1" fill="none" />
<path d="M337.78,451.82 L360.46,443.42 L371.8,436.14 L383.14,424.94" stroke="#111" stroke-width="1" fill="none" />
<path d="M337.78,452.38 L360.46,445.66 L371.8,446.78 L383.14,445.66 L394.48,438.38" stroke="#111" stroke-width="1" fill="none" />
<path d="M337.78,452.94 L360.46,450.7 L371.8,452.38 L383.14,450.7" stroke="#111" stroke-width="1" fill="none" />
<circle cx="383.14" cy="424.94" r="2.2" fill="#000"/>
<circle cx="383.14" cy="450.7" r="2.2" fill="#000"/>
<circle cx="360.46" cy="436.14" r="2.2" fill="#000"/>
<circle cx="360.46" cy="410.94" r="2.2" fill="#000"/>
<circle cx="371.8" cy="436.14" r="2.2" fill="#000"/>
<circle cx="383.14" cy="430.54" r="2.2" fill="#000"/>
<circle cx="360.46" cy="443.42" r="2.2" fill="#000"/>
<circle cx="360.46" cy="416.54" r="2.2" fill="#000"/>
<circle cx="360.46" cy="409.82" r="2.2" fill="#000"/>
<circle cx="371.8" cy="446.78" r="2.2" fill="#000"/>
<circle cx="371.8" cy="452.38" r="2.2" fill="#000"/>
<circle cx="371.8" cy="435.58" r="2.2" fill="#000"/>
<circle cx="371.8" cy="415.42" r="2.2" fill="#000"/>
<circle cx="394.48" cy="438.38" r="2.2" fill="#000"/>
<circle cx="383.14" cy="428.86" r="2.2" fill="#000"/>
<circle cx="383.14" cy="445.66" r="2.2" fill="#000"/>
<circle cx="360.46" cy="441.74" r="2.2" fill="#000"/>
<circle cx="383.14" cy="410.38" r="2.2" fill="#000"/>
<circle cx="371.8" cy="424.38" r="2.2" fill="#000"/>
<circle cx="371.8" cy="404.22" r="2.2" fill="#000"/>
<circle cx="337.78" cy="452.38" r="2.2" fill="#000"/>
<circle cx="360.46" cy="450.7" r="2.2" fill="#000"/>
<circle cx="337.78" cy="452.94" r="2.2" fill="#000"/>
<circle cx="394.48" cy="426.06" r="2.2" fill="#000"/>
<circle cx="394.48" cy="427.74" r="2.2" fill="#000"/>
<circle cx="337.78" cy="451.26" r="2.2" fill="#000"/>
<circle cx="360.46" cy="412.62" r="2.2" fill="#000"/>
<circle cx="371.8" cy="405.34" r="2.2" fill="#000"/>
<circle cx="337.78" cy="451.82" r="2.2" fill="#000"/>
<circle cx="383.14" cy="418.78" r="2.2" fill="#000"/>
<circle cx="371.8" cy="432.78" r="2.2" fill="#000"/>
<circle cx="360.46" cy="445.66" r="2.2" fill="#000"/>
</svg>
</body></html>
